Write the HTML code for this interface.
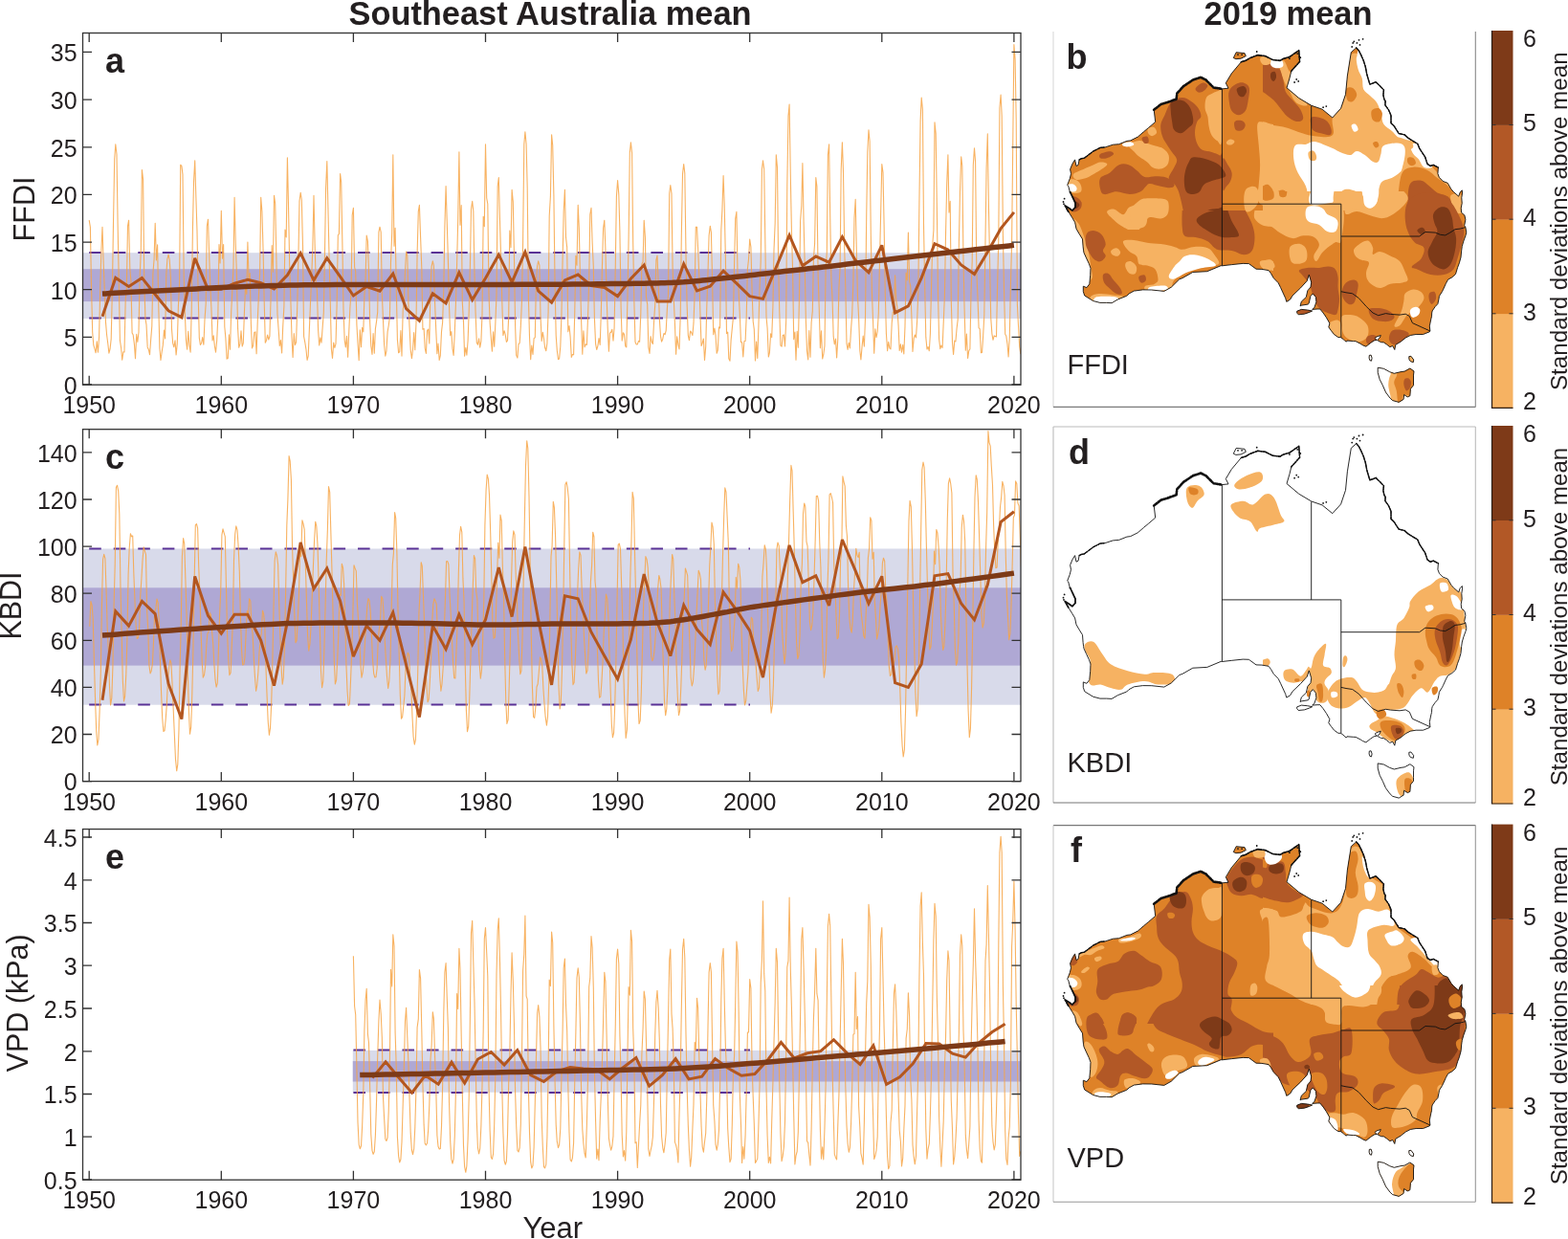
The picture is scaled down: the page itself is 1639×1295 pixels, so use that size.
<!DOCTYPE html>
<html><head><meta charset="utf-8"><title>Figure</title>
<style>html,body{margin:0;padding:0;background:#fff;overflow:hidden}svg{display:block}
text{font-family:"Liberation Sans",Arial,Helvetica,sans-serif;fill:#231f20}</style></head>
<body><svg width="1639" height="1295" viewBox="0 0 1639 1295">
<rect width="1639" height="1295" fill="#fff"/>
<clipPath id="clip0"><rect x="86.5" y="34.5" width="980.5" height="367.7"/></clipPath>
<rect x="86.5" y="264.2" width="980.5" height="68.8" fill="#d8daea"/>
<rect x="86.5" y="281.2" width="980.5" height="33.9" fill="#afa8d4"/>
<line x1="93.2" y1="264" x2="784" y2="264" stroke="#5a3296" stroke-width="2" stroke-dasharray="12.6 12.93"/>
<line x1="93.2" y1="332.6" x2="784" y2="332.6" stroke="#5a3296" stroke-width="2" stroke-dasharray="12.6 12.93"/>
<polyline clip-path="url(#clip0)" points="93.2,230.2 94.4,237.4 95.5,299 96.7,347.3 97.8,360.7 99,364.6 100.1,368.8 101.3,356.7 102.4,368.2 103.6,352.2 104.7,302.8 105.9,261.6 107,237.2 108.2,276 109.3,303.6 110.5,336.9 111.6,350 112.8,359.2 113.9,369.2 115.1,364.5 116.2,354.1 117.4,301.7 118.5,233.2 119.7,166.2 120.8,150.8 122,161.3 123.1,234 124.3,297.1 125.4,355.9 126.6,363.5 127.7,376.2 128.9,367.9 130,367.9 131.2,313 132.3,302.2 133.5,236.2 134.6,230.2 135.8,281.1 136.9,293.2 138.1,347.9 139.2,350.1 140.4,359.8 141.5,374.8 142.7,349.4 143.8,357.5 145,347.2 146.1,290.6 147.3,261.6 148.4,177.6 149.6,187.5 150.7,290.6 151.9,332.6 153,339.4 154.2,362.9 155.3,365.2 156.5,370.6 157.6,355.7 158.8,340.8 159.9,285.7 161.1,270.7 162.2,233.2 163.4,271.9 164.6,255.9 165.7,317.2 166.9,364 168,376.5 169.2,367.6 170.3,360.9 171.5,345 172.6,354 173.8,286.8 174.9,270.8 176.1,266 177.2,271.4 178.4,290 179.5,343.8 180.7,358.9 181.8,362.8 183,355.8 184.1,370.9 185.3,358.9 186.4,320.2 187.6,295.5 188.7,172.2 189.9,173.6 191,182.4 192.2,288.5 193.3,326.9 194.5,355.4 195.6,365.2 196.8,346.4 197.9,360.6 199.1,368.2 200.2,325.7 201.4,240.6 202.5,190.5 203.7,167.7 204.8,204.2 206,241.2 207.1,304.6 208.3,353.1 209.4,360.5 210.6,358.6 211.7,352.6 212.9,360.3 214,334.1 215.2,317.2 216.3,236.5 217.5,229.2 218.6,264.5 219.8,299.2 220.9,321.6 222.1,356 223.2,350.8 224.4,361.9 225.5,368.2 226.7,355.6 227.8,331.9 229,255.5 230.1,275 231.3,220.3 232.5,270.1 233.6,255.5 234.8,341.5 235.9,353.6 237.1,375.1 238.2,374.5 239.4,349.8 240.5,365.2 241.7,326.1 242.8,304.4 244,277.8 245.1,206.4 246.3,255.6 247.4,286.6 248.6,343.4 249.7,363.3 250.9,359.4 252,345.9 253.2,362 254.3,358.6 255.5,324.7 256.6,297.7 257.8,307.5 258.9,253.1 260.1,291.7 261.2,285.5 262.4,339.1 263.5,363.9 264.7,361.1 265.8,347.6 267,346.9 268.1,369.8 269.3,334.5 270.4,308.9 271.6,285.5 272.7,206.4 273.9,221.1 275,259.4 276.2,315.1 277.3,358.3 278.5,355.7 279.6,350 280.8,355 281.9,351.5 283.1,311.1 284.2,256.5 285.4,284.3 286.5,204.4 287.7,212.9 288.8,266.2 290,328.2 291.1,343.6 292.3,361.4 293.4,355.6 294.6,369 295.7,341.8 296.9,320.1 298,240 299.2,248 300.4,164.7 301.5,214.6 302.7,277.7 303.8,311.4 305,351.9 306.1,373.5 307.3,348.5 308.4,360.4 309.6,357.8 310.7,321 311.9,269 313,210 314.2,201.4 315.3,208.8 316.5,256 317.6,351.6 318.8,357.9 319.9,364.8 321.1,376.4 322.2,372.2 323.4,343.5 324.5,316.5 325.7,289.5 326.8,259.9 328,204.4 329.1,254.9 330.3,298.2 331.4,303.1 332.6,345.3 333.7,361 334.9,352.8 336,358.1 337.2,341.6 338.3,327.1 339.5,263.9 340.6,196.2 341.8,168.6 342.9,217.1 344.1,270.1 345.2,312.9 346.4,364.8 347.5,374.5 348.7,358.1 349.8,363.5 351,359.4 352.1,319.3 353.3,246 354.4,244.4 355.6,181.6 356.7,190.6 357.9,255.4 359,323.4 360.2,355.5 361.3,363 362.5,351.2 363.6,373.3 364.8,345.7 365.9,321.2 367.1,304 368.2,224.9 369.4,217.3 370.6,279.3 371.7,283.4 372.9,339.3 374,358.8 375.2,376.6 376.3,344.8 377.5,362.7 378.6,342.4 379.8,346.9 380.9,309.2 382.1,290.9 383.2,246.1 384.4,252 385.5,284.9 386.7,337.7 387.8,361.4 389,370.4 390.1,348.5 391.3,369.3 392.4,343.7 393.6,335.6 394.7,326.1 395.9,242.7 397,237.2 398.2,242.6 399.3,306.2 400.5,335.1 401.6,360.3 402.8,372.2 403.9,367.2 405.1,346.9 406.2,340.5 407.4,331.2 408.5,273.5 409.7,244 410.8,161.7 412,257.3 413.1,238.4 414.3,302.5 415.4,355 416.6,368.8 417.7,367.6 418.9,345.6 420,372.1 421.2,324.1 422.3,315.7 423.5,283.4 424.6,263 425.8,267.4 426.9,316.6 428.1,342.8 429.2,365.8 430.4,374.8 431.5,365.6 432.7,347.6 433.8,365.8 435,337.3 436.1,265.3 437.3,221.1 438.4,214.3 439.6,248 440.8,280.4 441.9,344.3 443.1,343.4 444.2,364 445.4,369.4 446.5,345.7 447.7,344.2 448.8,358.9 450,299.7 451.1,278.7 452.3,272.9 453.4,277.7 454.6,317.2 455.7,343.7 456.9,369.7 458,359.1 459.2,376.4 460.3,371.7 461.5,346.7 462.6,337.3 463.8,301.4 464.9,235.8 466.1,194.5 467.2,230.4 468.4,271.5 469.5,319.2 470.7,350.7 471.8,346.6 473,364.4 474.1,371.5 475.3,347.2 476.4,318 477.6,275.7 478.7,230.3 479.9,158.7 481,235.2 482.2,214.6 483.3,315.7 484.5,336.6 485.6,372.2 486.8,363.2 487.9,371.3 489.1,356 490.2,325.2 491.4,277.9 492.5,218.6 493.7,210.4 494.8,220.7 496,286.9 497.1,327.1 498.3,357.9 499.4,360.3 500.6,353.8 501.7,363.1 502.9,356.6 504,328.7 505.2,226.2 506.3,236.7 507.5,150.8 508.7,207 509.8,213.1 511,307 512.1,337.1 513.3,353.4 514.4,367.1 515.6,346.8 516.7,362.1 517.9,336.9 519,307.2 520.2,194.9 521.3,185.5 522.5,230.6 523.6,267.9 524.8,315.6 525.9,350.5 527.1,345.7 528.2,349.6 529.4,357.4 530.5,356 531.7,331.1 532.8,241 534,258.6 535.1,198.4 536.3,210.9 537.4,264.9 538.6,341.1 539.7,371.4 540.9,374.1 542,359.8 543.2,358.3 544.3,341.4 545.5,313.4 546.6,253.4 547.8,150.9 548.9,137.9 550.1,150.2 551.2,196.1 552.4,311.3 553.5,351.8 554.7,375.8 555.8,361 557,370.5 558.1,353.6 559.3,352.7 560.4,295.7 561.6,278.1 562.7,272.9 563.9,277.4 565,329.7 566.2,356.4 567.3,347.2 568.5,354.2 569.6,363.2 570.8,366.7 571.9,358.8 573.1,326.2 574.2,225.7 575.4,205.4 576.6,140.8 577.7,151.7 578.9,204.9 580,293.3 581.2,350.7 582.3,366.5 583.5,375.6 584.6,375 585.8,362.2 586.9,330.7 588.1,271.8 589.2,220.7 590.4,198.4 591.5,247.6 592.7,258.6 593.8,346.7 595,340.6 596.1,351.5 597.3,373.4 598.4,370.5 599.6,370.8 600.7,328.5 601.9,267.2 603,277.3 604.2,214.3 605.3,238.6 606.5,291.3 607.6,335.1 608.8,370.2 609.9,345.9 611.1,362.7 612.2,359.9 613.4,360.4 614.5,332.4 615.7,293.3 616.8,224 618,217.3 619.1,253 620.3,278.2 621.4,332.4 622.6,359.6 623.7,365.5 624.9,361.6 626,353.6 627.2,360.5 628.3,327.8 629.5,276.9 630.6,238.5 631.8,230.2 632.9,260.2 634.1,308 635.2,342.5 636.4,367.3 637.5,347.9 638.7,347.2 639.8,344.2 641,356.2 642.1,342.6 643.3,276.8 644.4,205.2 645.6,188.5 646.8,203.1 647.9,242 649.1,320.7 650.2,356.1 651.4,347.7 652.5,349.4 653.7,361.8 654.8,362.9 656,309 657.1,249.6 658.3,159.6 659.4,148.8 660.6,159.9 661.7,253 662.9,316.7 664,357.5 665.2,360 666.3,359.9 667.5,356.4 668.6,357.2 669.8,327.7 670.9,276.1 672.1,273.6 673.2,230.2 674.4,247.9 675.5,310.6 676.7,318.1 677.8,362.6 679,369.4 680.1,351.6 681.3,357.3 682.4,359.5 683.6,335.2 684.7,318.9 685.9,271.9 687,267 688.2,297.3 689.3,332.7 690.5,351.4 691.6,357.1 692.8,354.2 693.9,348.5 695.1,349.7 696.2,345.5 697.4,322.5 698.5,308 699.7,202.3 700.8,193.5 702,202.4 703.1,279.5 704.3,312.9 705.4,337.8 706.6,370.3 707.7,351.9 708.9,360.2 710,365 711.2,331.2 712.3,247.1 713.5,181.9 714.7,171.6 715.8,181 717,266 718.1,318.5 719.3,350.5 720.4,355.6 721.6,346.1 722.7,347.4 723.9,350.5 725,337.9 726.2,304.9 727.3,237.3 728.5,237.2 729.6,259.7 730.8,288.5 731.9,327 733.1,361.5 734.2,358.5 735.4,354 736.5,376.5 737.7,362.4 738.8,320.3 740,284.9 741.1,246.1 742.3,236.2 743.4,242.9 744.6,293.6 745.7,349.8 746.9,343 748,350.4 749.2,369.2 750.3,366.1 751.5,341.8 752.6,343 753.8,240.5 754.9,219.8 756.1,183.5 757.2,213.4 758.4,271.1 759.5,348.6 760.7,347.1 761.8,374.7 763,377.2 764.1,355.6 765.3,343.4 766.4,332.4 767.6,275.8 768.7,228.7 769.9,221.3 771,285.1 772.2,305.7 773.3,328.7 774.5,357.7 775.6,357.9 776.8,372.9 777.9,356.7 779.1,356.4 780.2,331.1 781.4,281.1 782.5,271.1 783.7,250.1 784.9,258.2 786,301.1 787.2,336 788.3,344.3 789.5,377 790.6,357 791.8,374.4 792.9,342 794.1,299.2 795.2,273.5 796.4,177.2 797.5,167.7 798.7,176.9 799.8,248.9 801,331 802.1,343 803.3,373 804.4,368.6 805.6,348.7 806.7,352.7 807.9,321 809,261 810.2,233 811.3,161.7 812.5,174.8 813.6,273.2 814.8,326.4 815.9,361 817.1,362.1 818.2,350.4 819.4,349.9 820.5,362 821.7,334.9 822.8,194 824,121 825.1,109.1 826.3,183.4 827.4,240.1 828.6,282.7 829.7,354.7 830.9,347.1 832,376.3 833.2,346.2 834.3,363.2 835.5,309.1 836.6,231 837.8,215.1 838.9,170.6 840.1,231.8 841.2,276 842.4,335.7 843.5,366.7 844.7,376 845.8,345.6 847,373.3 848.1,337.3 849.3,325.4 850.4,270.6 851.6,254.4 852.8,185.5 853.9,194.9 855.1,285.8 856.2,321.3 857.4,363.8 858.5,345.8 859.7,375 860.8,370.5 862,361.4 863.1,281.2 864.3,263.5 865.4,162 866.6,150.8 867.7,224.5 868.9,291.2 870,310.5 871.2,351.9 872.3,359.9 873.5,354 874.6,374 875.8,354.4 876.9,301.4 878.1,280.6 879.2,176.9 880.4,148.8 881.5,180.1 882.7,259 883.8,300.7 885,359.2 886.1,365.5 887.3,358.2 888.4,364 889.6,343.9 890.7,328.6 891.9,293.6 893,227.8 894.2,208.4 895.3,260.9 896.5,310.2 897.6,331.6 898.8,366.3 899.9,376 901.1,362 902.2,351.1 903.4,362.1 904.5,331.9 905.7,226.6 906.8,159 908,135.9 909.1,147.7 910.3,246.2 911.4,304.4 912.6,336.4 913.7,369.2 914.9,343.9 916,352.8 917.2,346.5 918.3,327.3 919.5,272.8 920.6,224.7 921.8,171.6 923,180.4 924.1,235.1 925.3,307.1 926.4,348.5 927.6,366.6 928.7,357.4 929.9,363.9 931,364.8 932.2,337.9 933.3,326.2 934.5,325.7 935.6,287.8 936.8,314.2 937.9,321.7 939.1,340.6 940.2,366.4 941.4,359.7 942.5,368.2 943.7,360.3 944.8,370 946,341 947.1,285.1 948.3,293 949.4,243.1 950.6,294.4 951.7,298.6 952.9,331.1 954,367.4 955.2,353.9 956.3,350 957.5,352.9 958.6,336 959.8,306.4 960.9,211.8 962.1,126.1 963.2,102.1 964.4,114.6 965.5,235 966.7,300.2 967.8,352.4 969,365 970.1,362.5 971.3,366.8 972.4,348.8 973.6,297.4 974.7,256.5 975.9,240.7 977,127.9 978.2,139.6 979.3,212.6 980.5,307.1 981.6,354.3 982.8,364.6 983.9,361 985.1,363.6 986.2,337.5 987.4,309.5 988.5,245.9 989.7,192.2 990.9,161.7 992,222.1 993.2,210.2 994.3,314.6 995.5,358.1 996.6,370.4 997.8,356.1 998.9,357 1000.1,343.3 1001.2,334.1 1002.4,253.2 1003.5,199.4 1004.7,163.7 1005.8,173.5 1007,272 1008.1,323.3 1009.3,366.3 1010.4,349.1 1011.6,374.5 1012.7,366.8 1013.9,364.7 1015,305.9 1016.2,273.3 1017.3,172.6 1018.5,154.7 1019.6,169.2 1020.8,283.8 1021.9,308.4 1023.1,342.6 1024.2,343.9 1025.4,368.8 1026.5,368.5 1027.7,350.5 1028.8,329.3 1030,251 1031.1,175.5 1032.3,139.8 1033.4,213.6 1034.6,274.9 1035.7,332 1036.9,348.8 1038,355.3 1039.2,350.9 1040.3,351.4 1041.5,352 1042.6,298.3 1043.8,249.9 1044.9,112.8 1046.1,99.1 1047.2,121.3 1048.4,246.2 1049.5,301.9 1050.7,349.3 1051.8,351.3 1053,359.6 1054.1,372.9 1055.3,352.1 1056.4,297.8 1057.6,253.8 1058.7,153.5 1059.9,46.5 1061.1,62.4 1062.2,125.1 1063.4,318.4 1064.5,340.2 1065.7,362.4 1066.8,369.7 1068,358.1 1069.1,330 1070.3,330.3 1071.4,226.4 1072.6,121.3" fill="none" stroke="#f7a445" stroke-opacity="0.85" stroke-width="1.1" stroke-linejoin="round"/>
<polyline points="107,330.7 120.8,290.4 134.6,299.5 148.4,290.4 162.2,307.7 176.1,324.8 189.9,331.7 203.7,269.8 217.5,302.7 231.3,302.2 245.1,296.2 258.9,292.3 272.7,295.7 286.5,301.9 300.4,287.6 314.2,264.6 328,292.8 341.8,269.8 355.6,289.2 369.4,309 383.2,299.5 397,304.2 410.8,286 424.6,322.6 438.4,335.2 452.3,306.7 466.1,316.9 479.9,284.9 493.7,313.3 507.5,290.8 521.3,266.2 535.1,294.8 548.9,263.5 562.7,304.2 576.6,316.1 590.4,292.9 604.2,287 618,298.5 631.8,300.4 645.6,309.6 659.4,291.3 673.2,277 687,315.1 700.8,315.1 714.7,275.9 728.5,304 742.3,299.2 756.1,283.1 769.9,296.1 783.7,309.6 797.5,312.4 811.3,279.4 825.1,245.8 838.9,277.7 852.8,267.9 866.6,274.2 880.4,247.6 894.2,272.2 908,284.9 921.8,256.3 935.6,326.9 949.4,319.8 963.2,290.4 977,254.7 990.9,261.1 1004.7,276.9 1018.5,286.5 1032.3,263.5 1046.1,238.9 1059.9,221.9" fill="none" stroke="#b3561f" stroke-width="3" stroke-linejoin="miter" stroke-miterlimit="3"/>
<polyline points="107,307.1 110.2,306.9 114.5,306.6 119.5,306.3 125.1,306 131.1,305.7 137.1,305.3 143,305 148.4,304.7 153.6,304.4 158.8,304.2 164,303.9 169.2,303.7 174.3,303.4 179.5,303.2 184.7,303 189.9,302.7 195,302.4 200.2,302.2 205.4,301.9 210.6,301.6 215.8,301.3 220.9,301 226.1,300.8 231.3,300.5 236.4,300.3 241.3,300.1 246.2,299.9 251.2,299.7 256.2,299.5 261.4,299.3 266.9,299.1 272.7,298.9 278.6,298.8 284.3,298.6 290,298.4 296,298.2 302.6,298.1 310,298 318.3,297.8 328,297.7 338.9,297.7 351.1,297.6 364.1,297.6 378,297.6 392.6,297.6 407.6,297.6 422.9,297.6 438.4,297.5 454.9,297.5 472.7,297.5 491.2,297.4 510.1,297.4 528.6,297.4 546.2,297.3 562.4,297.3 576.6,297.2 588.7,297.2 599.3,297.1 608.7,297 617.1,296.9 624.8,296.8 631.9,296.7 638.8,296.6 645.6,296.5 652.2,296.5 658.2,296.4 663.8,296.3 668.9,296.3 673.7,296.2 678.3,296.1 682.7,296 687,295.9 691.1,295.8 694.9,295.7 698.4,295.6 701.7,295.5 704.9,295.3 708.1,295.2 711.3,295 714.7,294.8 718,294.5 721.2,294.3 724.4,294 727.6,293.7 730.9,293.4 734.4,293.1 738.2,292.7 742.3,292.3 746.8,291.8 751.7,291.3 756.8,290.8 762.1,290.2 767.6,289.6 773,289 778.4,288.4 783.7,287.8 788.9,287.2 794.1,286.6 799.2,286 804.4,285.4 809.6,284.8 814.8,284.2 820,283.6 825.1,283 830.2,282.5 835.2,281.9 840.1,281.4 845,280.8 850,280.2 855.2,279.7 860.7,279 866.6,278.4 872.7,277.7 879.1,276.9 885.7,276.1 892.5,275.3 899.5,274.5 906.7,273.7 914.1,272.8 921.8,271.9 929.8,271 938.1,270 946.7,269 955.5,268 964.3,267 973.3,266 982.1,265 990.9,264 1000,263 1009.7,261.9 1019.8,260.7 1029.7,259.7 1039.1,258.6 1047.5,257.7 1054.6,256.9 1059.9,256.3" fill="none" stroke="#7d3a17" stroke-width="5.5" stroke-linejoin="round"/>
<rect x="86.5" y="34.5" width="980.5" height="367.7" fill="none" stroke="#333" stroke-width="1.3"/>
<path d="M93.2 402.2v-9.5M93.2 34.5v9.5M231.3 402.2v-9.5M231.3 34.5v9.5M369.4 402.2v-9.5M369.4 34.5v9.5M507.5 402.2v-9.5M507.5 34.5v9.5M645.6 402.2v-9.5M645.6 34.5v9.5M783.7 402.2v-9.5M783.7 34.5v9.5M921.8 402.2v-9.5M921.8 34.5v9.5M1059.9 402.2v-9.5M1059.9 34.5v9.5M86.5 402h9.5M1067 402h-9.5M86.5 352.4h9.5M1067 352.4h-9.5M86.5 302.7h9.5M1067 302.7h-9.5M86.5 253.1h9.5M1067 253.1h-9.5M86.5 203.4h9.5M1067 203.4h-9.5M86.5 153.8h9.5M1067 153.8h-9.5M86.5 104.1h9.5M1067 104.1h-9.5M86.5 54.4h9.5M1067 54.4h-9.5" stroke="#333" stroke-width="1.3" fill="none"/>
<text x="80.6" y="411.8" text-anchor="end" font-size="25">0</text>
<text x="80.6" y="362.2" text-anchor="end" font-size="25">5</text>
<text x="80.6" y="312.5" text-anchor="end" font-size="25">10</text>
<text x="80.6" y="262.9" text-anchor="end" font-size="25">15</text>
<text x="80.6" y="213.2" text-anchor="end" font-size="25">20</text>
<text x="80.6" y="163.6" text-anchor="end" font-size="25">25</text>
<text x="80.6" y="113.9" text-anchor="end" font-size="25">30</text>
<text x="80.6" y="64.2" text-anchor="end" font-size="25">35</text>
<text x="93.2" y="432.2" text-anchor="middle" font-size="25">1950</text>
<text x="231.3" y="432.2" text-anchor="middle" font-size="25">1960</text>
<text x="369.4" y="432.2" text-anchor="middle" font-size="25">1970</text>
<text x="507.5" y="432.2" text-anchor="middle" font-size="25">1980</text>
<text x="645.6" y="432.2" text-anchor="middle" font-size="25">1990</text>
<text x="783.7" y="432.2" text-anchor="middle" font-size="25">2000</text>
<text x="921.8" y="432.2" text-anchor="middle" font-size="25">2010</text>
<text x="1059.9" y="432.2" text-anchor="middle" font-size="25">2020</text>
<text x="110" y="75.5" font-size="36" font-weight="bold">a</text>
<text transform="translate(36,218.5) rotate(-90)" text-anchor="middle" font-size="30.5">FFDI</text>
<clipPath id="clip1"><rect x="86.5" y="448.7" width="980.5" height="367.9"/></clipPath>
<rect x="86.5" y="573.5" width="980.5" height="163.2" fill="#d8daea"/>
<rect x="86.5" y="614.3" width="980.5" height="81.3" fill="#afa8d4"/>
<line x1="93.2" y1="573.5" x2="784" y2="573.5" stroke="#5a3296" stroke-width="2" stroke-dasharray="12.6 12.93"/>
<line x1="93.2" y1="736.5" x2="784" y2="736.5" stroke="#5a3296" stroke-width="2" stroke-dasharray="12.6 12.93"/>
<polyline clip-path="url(#clip1)" points="93.8,654.7 94.9,628.5 96.1,632.6 97.2,646.3 98.4,690.5 99.5,729 100.7,763.8 101.8,779 103,772.6 104.1,743.4 105.3,702.1 106.4,634.1 107.6,584.7 108.7,579.4 109.9,583.7 111,615.4 112.2,655.8 113.3,680.3 114.5,717.3 115.6,736.9 116.8,729.4 117.9,697.1 119.1,632.5 120.2,590.2 121.4,509.6 122.5,507.2 123.7,513.4 124.8,536.7 126,615.2 127.1,658.7 128.3,710.8 129.5,732.9 130.6,727.8 131.8,704.7 132.9,667.9 134.1,600.4 135.2,573.1 136.4,557.8 137.5,560.8 138.7,560 139.8,598.7 141,628.7 142.1,652.8 143.3,667.5 144.4,666.5 145.6,657.4 146.7,623.4 147.9,605 149,585.6 150.2,571.9 151.3,575.6 152.5,579.7 153.6,637.9 154.8,658.6 155.9,695.4 157.1,703.9 158.2,701.2 159.4,693.7 160.5,671.2 161.7,639.1 162.8,636.2 164,626 165.1,629.8 166.3,649.8 167.4,688.8 168.6,724.6 169.7,750.2 170.9,764.5 172,763.6 173.2,752 174.3,736.6 175.5,710 176.6,698.5 177.8,689.7 178.9,692.9 180.1,715.6 181.2,741.5 182.4,768.9 183.5,793.7 184.7,805.8 185.8,798.8 187,762.2 188.1,698 189.3,649.8 190.4,581.5 191.6,562.5 192.7,568.1 193.9,605.8 195,640.8 196.2,700.8 197.4,743.1 198.5,767.2 199.7,759.6 200.8,725.8 202,675 203.1,609.2 204.3,548.9 205.4,547.5 206.6,551.8 207.7,592.3 208.9,619.9 210,657.3 211.2,691.2 212.3,708.1 213.5,705.5 214.6,697 215.8,674.8 216.9,662.4 218.1,660.3 219.2,640.3 220.4,642.4 221.5,658.9 222.7,672.6 223.8,693.3 225,710.2 226.1,718.1 227.3,713.9 228.4,680 229.6,641.7 230.7,618.2 231.9,559.2 233,552.9 234.2,557.1 235.3,560.8 236.5,615.2 237.6,663.2 238.8,689.1 239.9,705.6 241.1,703.2 242.2,676.5 243.4,650.2 244.5,585.3 245.7,558.4 246.8,549.9 248,553.8 249.1,570.5 250.3,597.4 251.4,644.7 252.6,680.3 253.7,694.9 254.9,694.5 256,686.6 257.2,659.9 258.3,638.2 259.5,642.6 260.6,625.7 261.8,628.3 262.9,652.4 264.1,662.6 265.2,685.6 266.4,706.8 267.6,722.2 268.7,716.3 269.9,702.2 271,681.9 272.2,668.3 273.3,661.6 274.5,638.2 275.6,641.7 276.8,653 277.9,695.9 279.1,727.8 280.2,753.9 281.4,768.3 282.5,761.2 283.7,734.9 284.8,694.5 286,636 287.1,586.3 288.3,576.9 289.4,580.7 290.6,590 291.7,629.8 292.9,664.9 294,696.4 295.2,715.1 296.3,708 297.5,675.6 298.6,619.3 299.8,549.2 300.9,521.7 302.1,476.5 303.2,481.8 304.4,501.3 305.5,569.5 306.7,608.3 307.8,641.7 309,671.8 310.1,669.6 311.3,646.8 312.4,623.4 313.6,575.4 314.7,581.8 315.9,543.7 317,547.4 318.2,553.4 319.3,589.5 320.5,630 321.6,664.8 322.8,680.1 323.9,673.2 325.1,653.9 326.2,624 327.4,593.1 328.5,566.4 329.7,545.2 330.8,549.9 332,569.5 333.1,608.5 334.3,655.9 335.5,702 336.6,718.6 337.8,711.8 338.9,678.5 340.1,632.7 341.2,586.4 342.4,552.7 343.5,508.6 344.7,514.3 345.8,554.7 347,597.5 348.1,642.5 349.3,691.1 350.4,714.9 351.6,710.9 352.7,689.4 353.9,661.3 355,621 356.2,622.4 357.3,589.2 358.5,593.3 359.6,610.4 360.8,650 361.9,694.3 363.1,723 364.2,737.4 365.4,735.7 366.5,711.9 367.7,681.7 368.8,644.7 370,590.8 371.1,593.9 372.3,596.9 373.4,630.8 374.6,648.5 375.7,667.1 376.9,694 378,708.2 379.2,702.3 380.3,692.5 381.5,670.6 382.6,653.2 383.8,633.7 384.9,625.6 386.1,628 387.2,639.1 388.4,663.6 389.5,688.9 390.7,704.2 391.8,708 393,707.8 394.1,698.7 395.3,667.6 396.4,657.3 397.6,647 398.7,623.2 399.9,625.8 401,639.5 402.2,668.4 403.3,687.8 404.5,707.3 405.7,719.5 406.8,711.8 408,688.7 409.1,640.5 410.3,590.3 411.4,578.6 412.6,535.6 413.7,541.5 414.9,578.6 416,637.9 417.2,683.5 418.3,726 419.5,751.2 420.6,749.5 421.8,737.9 422.9,727 424.1,695.9 425.2,687.4 426.4,682.2 427.5,684.8 428.7,707.9 429.8,718.6 431,749 432.1,770 433.3,778.1 434.4,773.2 435.6,742.3 436.7,703.5 437.9,641.5 439,620.5 440.2,587.7 441.3,591.7 442.5,623.2 443.6,651.6 444.8,692.8 445.9,716.1 447.1,733.7 448.2,730.7 449.4,711.3 450.5,688.7 451.7,650.3 452.8,631.7 454,625.7 455.1,628.3 456.3,631.6 457.4,664.2 458.6,684.6 459.7,707.2 460.9,722.2 462,714.8 463.2,697.5 464.3,659.1 465.5,623.9 466.6,586.8 467.8,586.6 468.9,590 470.1,622.7 471.2,641.8 472.4,667.2 473.6,693 474.7,708.8 475.9,708.9 477,679.8 478.2,651 479.3,599.4 480.5,559.5 481.6,550.3 482.8,556.2 483.9,604.4 485.1,629.5 486.2,693.5 487.4,742.4 488.5,764.7 489.7,759.1 490.8,728.2 492,685.6 493.1,649.8 494.3,613.7 495.4,580.5 496.6,584 497.7,618 498.9,626.3 500,672.2 501.2,693.7 502.3,709.2 503.5,700.1 504.6,670.5 505.8,626.9 506.9,548.8 508.1,512 509.2,496.1 510.4,500.7 511.5,517.3 512.7,556.7 513.8,602.1 515,653.9 516.1,667.2 517.3,666 518.4,642.7 519.6,602.9 520.7,567.4 521.9,583.2 523,538.1 524.2,544.1 525.3,590.9 526.5,621.5 527.6,684.4 528.8,733.7 529.9,756.4 531.1,752.4 532.2,717 533.4,673.6 534.5,607.9 535.7,565.9 536.8,554.9 538,559 539.1,599.4 540.3,622.9 541.4,662 542.6,685.4 543.8,704.6 544.9,701.4 546.1,664.7 547.2,605.4 548.4,539.6 549.5,486.8 550.7,460.7 551.8,468.6 553,518.8 554.1,586.7 555.3,665.1 556.4,717.3 557.6,749.2 558.7,750.3 559.9,738.8 561,718 562.2,714.7 563.3,702.4 564.5,686.9 565.6,688.8 566.8,696.2 567.9,719.7 569.1,736.8 570.2,749.7 571.4,758.1 572.5,749.6 573.7,713.9 574.8,650.1 576,581.6 577.1,570.6 578.3,524.3 579.4,530.3 580.6,561.1 581.7,608.1 582.9,666.7 584,716.4 585.2,741 586.3,734.2 587.5,699.8 588.6,646 589.8,568.7 590.9,506.5 592.1,503.7 593.2,509.5 594.4,521.5 595.5,587.8 596.7,652.5 597.8,691.9 599,715.6 600.1,713.6 601.3,690.6 602.4,661.2 603.6,620.2 604.7,594.3 605.9,576.8 607,580.3 608.2,616.4 609.3,634.5 610.5,666.2 611.7,685.7 612.8,704 614,700.7 615.1,680 616.3,647.1 617.4,608.1 618.6,591 619.7,556.2 620.9,561 622,607.3 623.2,619.4 624.3,675.1 625.5,711.6 626.6,729.2 627.8,728.2 628.9,713.2 630.1,690.9 631.2,660.6 632.4,643.5 633.5,621.1 634.7,625.3 635.8,641.9 637,683.7 638.1,719.7 639.3,756.6 640.4,770.8 641.6,765.8 642.7,737.7 643.9,691 645,630.7 646.2,569.3 647.3,568.2 648.5,573.7 649.6,610.1 650.8,646.9 651.9,706.7 653.1,746.7 654.2,771.4 655.4,762.9 656.5,720.3 657.7,666.5 658.8,604.2 660,564.5 661.1,514.4 662.3,521 663.4,573.4 664.6,622.7 665.7,676.2 666.9,732.2 668,756.5 669.2,753.1 670.3,724.1 671.5,677.3 672.6,633.5 673.8,606 674.9,581.6 676.1,584.7 677.2,593.1 678.4,616.3 679.5,655.9 680.7,685.6 681.9,690.8 683,687.7 684.2,678.5 685.3,661.5 686.5,639.5 687.6,615.6 688.8,601.5 689.9,605.5 691.1,615.5 692.2,659.7 693.4,695.5 694.5,733.3 695.7,747.7 696.8,741 698,715.2 699.1,678 700.3,627.7 701.4,603.9 702.6,579.5 703.7,584.1 704.9,625.8 706,651.9 707.2,699.4 708.3,728.1 709.5,747.5 710.6,742.8 711.8,718.4 712.9,686.5 714.1,643.8 715.2,625.9 716.4,594 717.5,597.4 718.7,601.6 719.8,644.5 721,671.2 722.1,708.2 723.3,716.9 724.4,712.8 725.6,697.4 726.7,673.9 727.9,644.7 729,621.2 730.2,596.3 731.3,599.2 732.5,605.9 733.6,650.4 734.8,662.4 735.9,690.2 737.1,700.3 738.2,695.3 739.4,671.5 740.5,631.9 741.7,591.5 742.8,573.1 744,546 745.1,550.9 746.3,568.8 747.4,628.8 748.6,666.1 749.8,705.6 750.9,725.6 752.1,722.1 753.2,684.5 754.4,625.4 755.5,580.9 756.7,539.8 757.8,509.8 759,514.5 760.1,539.7 761.3,567 762.4,633.5 763.6,668 764.7,680.7 765.9,677.1 767,660.7 768.2,645.1 769.3,603.2 770.5,615.3 771.6,589.2 772.8,593.2 773.9,606.6 775.1,660 776.2,694.7 777.4,721.9 778.5,736.9 779.7,732.6 780.8,718.3 782,701.8 783.1,664.2 784.3,657.3 785.4,645.2 786.6,647.3 787.7,668.5 788.9,683.2 790,693.4 791.2,709.1 792.3,722.4 793.5,718.9 794.6,689.7 795.8,661.6 796.9,602.6 798.1,588.4 799.2,569.7 800.4,574.5 801.5,596.3 802.7,647 803.8,684.7 805,726 806.1,745.1 807.3,737.4 808.4,715.7 809.6,665.7 810.7,636.7 811.9,574.1 813,567 814.2,570.4 815.3,593.7 816.5,609.9 817.6,660.5 818.8,679 820,693.7 821.1,683.4 822.3,649 823.4,602.6 824.6,563.4 825.7,522.3 826.9,486.4 828,492 829.2,535.6 830.3,574.6 831.5,631 832.6,672.2 833.8,688.6 834.9,685.1 836.1,663.7 837.2,610.1 838.4,589.1 839.5,536.9 840.7,526 841.8,529.7 843,566.4 844.1,570.9 845.3,610.4 846.4,649.7 847.6,658.7 848.7,653.8 849.9,638.5 851,605.2 852.2,564.1 853.3,518.5 854.5,518.3 855.6,523.5 856.8,568.3 857.9,592.8 859.1,646.3 860.2,688.8 861.4,708.1 862.5,700.5 863.7,677.2 864.8,618.9 866,582.4 867.1,516.9 868.3,515.6 869.4,519.7 870.6,525.5 871.7,589.5 872.9,610.4 874,643.6 875.2,667.8 876.3,666.2 877.5,642.5 878.6,585.3 879.8,575.3 880.9,497.8 882.1,503.8 883.2,508.1 884.4,549.2 885.5,560.7 886.7,618 887.9,646.4 889,656.8 890.2,661.1 891.3,647.1 892.5,616.3 893.6,598.2 894.8,573.4 895.9,580.2 897.1,582.6 898.2,577.4 899.4,629.6 900.5,643.8 901.7,653.6 902.8,664.6 904,667.2 905.1,643.2 906.3,619.8 907.4,583.2 908.6,573 909.7,540.7 910.9,544.1 912,584.3 913.2,577.2 914.3,628.6 915.5,646.4 916.6,667.9 917.8,662.5 918.9,655 920.1,631.8 921.2,619.3 922.4,588.6 923.5,583.2 924.7,586.5 925.8,618.3 927,628.5 928.1,666.4 929.3,696 930.4,706.4 931.6,705.1 932.7,696 933.9,694.9 935,690.3 936.2,676.1 937.3,674.9 938.5,678.1 939.6,687.9 940.8,720.6 941.9,755.2 943.1,779.2 944.2,791 945.4,783.3 946.5,744.4 947.7,677.6 948.8,611.4 950,544.6 951.1,523.4 952.3,529.6 953.4,570.3 954.6,632 955.7,674.3 956.9,723.8 958.1,748.7 959.2,741.2 960.4,698.6 961.5,626.7 962.7,553.5 963.8,491.2 965,483 966.1,488.3 967.3,523.5 968.4,571.4 969.6,617.5 970.7,651.4 971.9,678.9 973,676 974.2,656.9 975.3,633.9 976.5,576 977.6,589.6 978.8,553.5 979.9,556.9 981.1,571.6 982.2,593.4 983.4,643.1 984.5,663.8 985.7,679.4 986.8,675.5 988,650.1 989.1,612.8 990.3,542.7 991.4,505.3 992.6,499.9 993.7,505.3 994.9,515.5 996,597.4 997.2,630 998.3,677.2 999.5,695.2 1000.6,691.8 1001.8,670.1 1002.9,619.2 1004.1,606 1005.2,551.4 1006.4,538.2 1007.5,544.5 1008.7,565.7 1009.8,635.5 1011,695 1012.1,742.6 1013.3,770.7 1014.4,761.8 1015.6,718.3 1016.7,657.5 1017.9,576.5 1019,519.8 1020.2,496.7 1021.3,501.1 1022.5,524.5 1023.6,560.3 1024.8,602.2 1026,642.5 1027.1,656 1028.3,651.3 1029.4,626.5 1030.6,572.2 1031.7,535.5 1032.9,450.6 1034,462.6 1035.2,466.1 1036.3,487.3 1037.5,506.8 1038.6,548.8 1039.8,576.8 1040.9,593.8 1042.1,593.1 1043.2,565.5 1044.4,552.6 1045.5,529.7 1046.7,519.5 1047.8,503.4 1049,507.9 1050.1,517.8 1051.3,581.8 1052.4,622.6 1053.6,646.7 1054.7,668.6 1055.9,662.4 1057,633.3 1058.2,588.7 1059.3,541 1060.5,538.3 1061.6,502.9 1062.8,505.5 1063.9,525.8 1065.1,528.8 1066.2,557.4 1067.4,591.8 1068.5,599.7 1069.7,596.2 1070.8,586.5 1072,560.7 1073.1,518.9" fill="none" stroke="#f7a445" stroke-opacity="0.85" stroke-width="1.1" stroke-linejoin="round"/>
<polyline points="107,731.7 120.8,638.9 134.6,654.1 148.4,628.5 162.2,641.6 176.1,714.7 189.9,751.5 203.7,602.5 217.5,643.5 231.3,662.2 245.1,642.3 258.9,642.3 272.7,669.3 286.5,716.7 300.4,649.7 314.2,566.9 328,615.3 341.8,593.9 355.6,628.1 369.4,686.2 383.2,654.1 397,669.3 410.8,640.1 424.6,694.8 438.4,749.6 452.3,654.1 466.1,678.4 479.9,642.3 493.7,673.5 507.5,647.7 521.3,593.2 535.1,644.5 548.9,571.6 562.7,647.9 576.6,715.9 590.4,622.9 604.2,625.8 618,660.7 631.8,685.5 645.6,709.8 659.4,668.3 673.2,600.1 687,650.6 700.8,685.5 714.7,632.5 728.5,657.8 742.3,673.5 756.1,619 769.9,637.9 783.7,659.2 797.5,708.1 811.3,632.5 825.1,569.9 838.9,608.7 852.8,601.8 866.6,633 880.4,564 894.2,596.6 908,630.8 921.8,602.3 935.6,713.7 949.4,718.4 963.2,693.9 977,601.8 990.9,599.6 1004.7,630.8 1018.5,647.7 1032.3,611.4 1046.1,545.6 1059.9,534.8" fill="none" stroke="#b3561f" stroke-width="3" stroke-linejoin="miter" stroke-miterlimit="3"/>
<polyline points="107,664.1 111.2,663.8 116.6,663.4 123.1,662.9 130.3,662.3 138.1,661.7 146.2,661.1 154.3,660.5 162.2,660 170.2,659.4 178.5,658.9 187.1,658.3 195.9,657.7 204.8,657.2 213.7,656.6 222.6,656.1 231.3,655.6 239.9,655 248.6,654.5 257.2,653.9 265.8,653.3 274.5,652.8 283.1,652.4 291.7,651.9 300.4,651.6 309,651.4 317.6,651.2 326.2,651.2 334.9,651.1 343.5,651.1 352.1,651.1 360.8,651.1 369.4,651.1 378,651.1 386.7,651.1 395.3,651.1 403.9,651.1 412.6,651.1 421.2,651.2 429.8,651.3 438.4,651.4 447.1,651.5 455.7,651.8 464.3,652 473,652.3 481.6,652.6 490.2,652.8 498.9,653 507.5,653.1 516.1,653.1 524.8,653 533.4,652.9 542,652.7 550.7,652.5 559.3,652.4 567.9,652.2 576.6,652.1 585.4,652.1 594.5,652 603.7,652 612.8,652 621.7,652 630.3,652 638.3,651.9 645.6,651.9 652.2,651.8 658.2,651.7 663.8,651.7 668.9,651.6 673.7,651.4 678.3,651.3 682.7,651.1 687,650.9 691,650.6 694.6,650.3 697.8,650 700.8,649.7 703.9,649.3 707.1,648.8 710.6,648.3 714.7,647.7 719.3,647 724.4,646.1 729.8,645.2 735.4,644.2 740.9,643.1 746.4,642.1 751.5,641.2 756.1,640.3 760.1,639.6 763.6,638.9 766.8,638.2 769.9,637.5 772.9,636.9 776.1,636.3 779.7,635.6 783.7,634.9 788,634.2 792.4,633.6 797,632.9 801.8,632.2 807,631.5 812.5,630.8 818.5,629.9 825.1,629 832.3,628 840.1,626.9 848.4,625.8 857.1,624.6 866.1,623.4 875.3,622.1 884.7,620.9 894.2,619.7 903.9,618.6 913.9,617.4 924.2,616.3 934.7,615.2 945.4,614 956,612.9 966.6,611.6 977,610.4 988,609 999.7,607.4 1011.8,605.8 1023.6,604.2 1034.9,602.6 1045,601.2 1053.5,600 1059.9,599.1" fill="none" stroke="#7d3a17" stroke-width="5.5" stroke-linejoin="round"/>
<rect x="86.5" y="448.7" width="980.5" height="367.9" fill="none" stroke="#333" stroke-width="1.3"/>
<path d="M93.2 816.6v-9.5M93.2 448.7v9.5M231.3 816.6v-9.5M231.3 448.7v9.5M369.4 816.6v-9.5M369.4 448.7v9.5M507.5 816.6v-9.5M507.5 448.7v9.5M645.6 816.6v-9.5M645.6 448.7v9.5M783.7 816.6v-9.5M783.7 448.7v9.5M921.8 816.6v-9.5M921.8 448.7v9.5M1059.9 816.6v-9.5M1059.9 448.7v9.5M86.5 816.6h9.5M1067 816.6h-9.5M86.5 767.5h9.5M1067 767.5h-9.5M86.5 718.4h9.5M1067 718.4h-9.5M86.5 669.3h9.5M1067 669.3h-9.5M86.5 620.2h9.5M1067 620.2h-9.5M86.5 571.1h9.5M1067 571.1h-9.5M86.5 522h9.5M1067 522h-9.5M86.5 472.9h9.5M1067 472.9h-9.5" stroke="#333" stroke-width="1.3" fill="none"/>
<text x="80.6" y="826.4" text-anchor="end" font-size="25">0</text>
<text x="80.6" y="777.3" text-anchor="end" font-size="25">20</text>
<text x="80.6" y="728.2" text-anchor="end" font-size="25">40</text>
<text x="80.6" y="679.1" text-anchor="end" font-size="25">60</text>
<text x="80.6" y="630" text-anchor="end" font-size="25">80</text>
<text x="80.6" y="580.9" text-anchor="end" font-size="25">100</text>
<text x="80.6" y="531.8" text-anchor="end" font-size="25">120</text>
<text x="80.6" y="482.7" text-anchor="end" font-size="25">140</text>
<text x="93.2" y="846.6" text-anchor="middle" font-size="25">1950</text>
<text x="231.3" y="846.6" text-anchor="middle" font-size="25">1960</text>
<text x="369.4" y="846.6" text-anchor="middle" font-size="25">1970</text>
<text x="507.5" y="846.6" text-anchor="middle" font-size="25">1980</text>
<text x="645.6" y="846.6" text-anchor="middle" font-size="25">1990</text>
<text x="783.7" y="846.6" text-anchor="middle" font-size="25">2000</text>
<text x="921.8" y="846.6" text-anchor="middle" font-size="25">2010</text>
<text x="1059.9" y="846.6" text-anchor="middle" font-size="25">2020</text>
<text x="110" y="489.7" font-size="36" font-weight="bold">c</text>
<text transform="translate(21.7,633) rotate(-90)" text-anchor="middle" font-size="30.5">KBDI</text>
<clipPath id="clip2"><rect x="86.5" y="866.6" width="980.5" height="366.6"/></clipPath>
<rect x="368.8" y="1097.9" width="698.2" height="43.8" fill="#d8daea"/>
<rect x="368.8" y="1109.1" width="698.2" height="21.4" fill="#afa8d4"/>
<line x1="369.4" y1="1097.4" x2="784" y2="1097.4" stroke="#5a3296" stroke-width="2" stroke-dasharray="12.6 12.93"/>
<line x1="369.4" y1="1141.9" x2="784" y2="1141.9" stroke="#5a3296" stroke-width="2" stroke-dasharray="12.6 12.93"/>
<polyline clip-path="url(#clip2)" points="369.4,999.3 370.6,1051.8 371.7,1060.5 372.9,1116.1 374,1173 375.2,1196.3 376.3,1200.7 377.5,1197.7 378.6,1177.8 379.8,1142.7 380.9,1076.9 382.1,1044.8 383.2,1033.4 384.4,1080.6 385.5,1089.7 386.7,1138.1 387.8,1185.8 389,1202.6 390.1,1206.4 391.3,1203.7 392.4,1186.5 393.6,1149.7 394.7,1104.2 395.9,1066.9 397,1045.1 398.2,1059.6 399.3,1084 400.5,1146.9 401.6,1168.7 402.8,1190.4 403.9,1192.5 405.1,1189 406.2,1161.9 407.4,1110.6 408.5,1013.2 409.7,1030.9 410.8,976.8 412,988.7 413.1,1078.9 414.3,1117.3 415.4,1188 416.6,1208.4 417.7,1215 418.9,1211.7 420,1193.7 421.2,1153.9 422.3,1116.6 423.5,1067.2 424.6,1053.2 425.8,1084.3 426.9,1110.7 428.1,1150 429.2,1184.4 430.4,1202 431.5,1206.6 432.7,1200.6 433.8,1178.3 435,1135.4 436.1,1073.8 437.3,1065.1 438.4,1013.6 439.6,1022.8 440.8,1076.7 441.9,1132.1 443.1,1175.4 444.2,1195.2 445.4,1196.8 446.5,1195 447.7,1180.3 448.8,1155 450,1107.5 451.1,1092.8 452.3,1057.7 453.4,1064.9 454.6,1105 455.7,1135.4 456.9,1186.7 458,1198.3 459.2,1201.1 460.3,1200.6 461.5,1177.8 462.6,1135.9 463.8,1058.1 464.9,1016.3 466.1,1006.5 467.2,1041.3 468.4,1075.1 469.5,1152 470.7,1192.9 471.8,1211.4 473,1216.2 474.1,1211.5 475.3,1187.5 476.4,1141.5 477.6,1038.6 478.7,1054.5 479.9,991.2 481,1013.1 482.2,1082.9 483.3,1143.1 484.5,1197.5 485.6,1219.3 486.8,1225.3 487.9,1218.6 489.1,1190.4 490.2,1146.9 491.4,1060.9 492.5,975.5 493.7,962.4 494.8,1005.9 496,1047.5 497.1,1108.3 498.3,1171.3 499.4,1199.1 500.6,1206 501.7,1200.7 502.9,1176.5 504,1134.7 505.2,1076.7 506.3,981.3 507.5,969.6 508.7,995.5 509.8,1020.6 511,1135.4 512.1,1181.1 513.3,1209.5 514.4,1211.5 515.6,1205.8 516.7,1175.5 517.9,1120.7 519,1017.7 520.2,972.3 521.3,959.7 522.5,1004.9 523.6,1058.6 524.8,1138 525.9,1183.2 527.1,1213.2 528.2,1217.2 529.4,1213.7 530.5,1186.4 531.7,1132 532.8,1102.3 534,1039.2 535.1,995.7 536.3,1025.8 537.4,1069 538.6,1142.1 539.7,1177.2 540.9,1202.5 542,1204 543.2,1199.5 544.3,1175.2 545.5,1105.3 546.6,1014.3 547.8,997.2 548.9,957 550.1,1041.1 551.2,1044.4 552.4,1138.3 553.5,1183.4 554.7,1214.7 555.8,1221 557,1218.2 558.1,1199.5 559.3,1152.2 560.4,1107.4 561.6,1059 562.7,1050.5 563.9,1062.9 565,1094.6 566.2,1168.6 567.3,1198.5 568.5,1219.6 569.6,1220.9 570.8,1217.2 571.9,1188.8 573.1,1120.7 574.2,1024 575.4,1030.6 576.6,974.1 577.7,985.3 578.9,1073.5 580,1127.2 581.2,1175.7 582.3,1193.2 583.5,1199.6 584.6,1196.6 585.8,1179.5 586.9,1126.6 588.1,1077.3 589.2,1011.8 590.4,1002 591.5,1049.1 592.7,1076.9 593.8,1135.1 595,1183.8 596.1,1211.9 597.3,1214 598.4,1210.3 599.6,1194.5 600.7,1133.6 601.9,1077.5 603,1022 604.2,1011.8 605.3,1021.5 606.5,1073.4 607.6,1140.4 608.8,1180.2 609.9,1195.3 611.1,1205.5 612.2,1210 613.4,1174.8 614.5,1128.2 615.7,1031.3 616.8,1022.4 618,978.6 619.1,990.1 620.3,1031.9 621.4,1118.4 622.6,1172.1 623.7,1211.1 624.9,1201.1 626,1212.7 627.2,1171.7 628.3,1145 629.5,1108.6 630.6,1066.6 631.8,1016.3 632.9,1025.9 634.1,1081.2 635.2,1143.8 636.4,1189.6 637.5,1196.6 638.7,1202.1 639.8,1198.3 641,1187.5 642.1,1127 643.3,1070.2 644.4,1002.4 645.6,992.1 646.8,1007.3 647.9,1082.4 649.1,1124.5 650.2,1186.2 651.4,1208.9 652.5,1202.6 653.7,1213.3 654.8,1182.8 656,1102.1 657.1,1031.5 658.3,1040.2 659.4,972.3 660.6,984.2 661.7,1074.8 662.9,1109.8 664,1194.7 665.2,1193.8 666.3,1220.4 667.5,1196.5 668.6,1175.2 669.8,1154.8 670.9,1102.1 672.1,1074.5 673.2,1036.1 674.4,1044.1 675.5,1089.5 676.7,1139.2 677.8,1200.9 679,1208.4 680.1,1202.7 681.3,1197.1 682.4,1188 683.6,1147.8 684.7,1082.5 685.9,1047.4 687,1035.2 688.2,1053.2 689.3,1087.1 690.5,1154.3 691.6,1187.7 692.8,1199.8 693.9,1204.8 695.1,1195.8 696.2,1184 697.4,1120.5 698.5,1066.6 699.7,1003.4 700.8,992.1 702,1059.6 703.1,1075 704.3,1114.7 705.4,1193.6 706.6,1196.9 707.7,1202 708.9,1215 710,1166.3 711.2,1124.2 712.3,1054.6 713.5,992.5 714.7,981.3 715.8,1001 717,1081.3 718.1,1135.2 719.3,1175.8 720.4,1201.5 721.6,1219.1 722.7,1209.5 723.9,1179.7 725,1154.6 726.2,1089.2 727.3,1097.5 728.5,1043.3 729.6,1053.4 730.8,1104.9 731.9,1139.9 733.1,1177.6 734.2,1198.6 735.4,1204.1 736.5,1193.8 737.7,1184.2 738.8,1147.1 740,1073.3 741.1,1016.4 742.3,1006.5 743.4,1016.1 744.6,1091.9 745.7,1155.3 746.9,1171.5 748,1196.1 749.2,1202.2 750.3,1196.1 751.5,1181.5 752.6,1134.9 753.8,1045.3 754.9,1001.5 756.1,991.2 757.2,1044.5 758.4,1094.5 759.5,1118.5 760.7,1179.8 761.8,1199.1 763,1214.7 764.1,1211.4 765.3,1175.3 766.4,1124.2 767.6,1103.2 768.7,1048.6 769.9,984 771,994.6 772.2,1058.2 773.3,1143.8 774.5,1175.3 775.6,1215.4 776.8,1198.5 777.9,1211.3 779.1,1186.4 780.2,1142.1 781.4,1079 782.5,1079 783.7,1023.5 784.9,1033 786,1109.6 787.2,1146.5 788.3,1174.4 789.5,1215.5 790.6,1213.6 791.8,1210.9 792.9,1176.4 794.1,1132 795.2,1027.5 796.4,1003 797.5,941.7 798.7,1017.4 799.8,1035.8 801,1136.7 802.1,1187.1 803.3,1215.5 804.4,1209.4 805.6,1216 806.7,1173 807.9,1131.9 809,1089.2 810.2,1047.2 811.3,991.2 812.5,1005.4 813.6,1078.7 814.8,1133.6 815.9,1185.1 817.1,1213.7 818.2,1208.4 819.4,1198.7 820.5,1172.5 821.7,1100.2 822.8,1010.9 824,1004.2 825.1,938.1 826.3,1013.2 827.4,1051.9 828.6,1107.3 829.7,1164.6 830.9,1216.9 832,1207.9 833.2,1203.5 834.3,1183.2 835.5,1120.7 836.6,1061.9 837.8,981.8 838.9,969.6 840.1,1011.8 841.2,1057.9 842.4,1120 843.5,1192.6 844.7,1194.5 845.8,1206.8 847,1218.1 848.1,1180.6 849.3,1115.2 850.4,1065.2 851.6,1036 852.8,991.2 853.9,1038.7 855.1,1045.7 856.2,1116.1 857.4,1180.2 858.5,1211.2 859.7,1198.9 860.8,1212 862,1178.2 863.1,1134.7 864.3,1045.4 865.4,968.5 866.6,955.2 867.7,967.7 868.9,1045.5 870,1115.1 871.2,1164.7 872.3,1206.4 873.5,1209.9 874.6,1212 875.8,1175.9 876.9,1145.3 878.1,1090 879.2,1036.3 880.4,981.3 881.5,1007.6 882.7,1081.3 883.8,1135.3 885,1176.3 886.1,1195.1 887.3,1204.3 888.4,1199.6 889.6,1173.9 890.7,1135.8 891.9,1081.2 893,1080.5 894.2,1016.3 895.3,1075.6 896.5,1062.5 897.6,1156.1 898.8,1177.7 899.9,1205.3 901.1,1210.8 902.2,1217.1 903.4,1171.9 904.5,1104.8 905.7,1048.6 906.8,1025.5 908,945.3 909.1,958.6 910.3,1009.2 911.4,1123.7 912.6,1164.9 913.7,1211.5 914.9,1208 916,1202.5 917.2,1188.3 918.3,1123 919.5,1073.1 920.6,981.4 921.8,969.6 923,1023.2 924.1,1074.7 925.3,1114.7 926.4,1166.3 927.6,1209.2 928.7,1221.8 929.9,1218.6 931,1173.2 932.2,1160.5 933.3,1093.6 934.5,1037.9 935.6,1028.9 936.8,1056.2 937.9,1092.8 939.1,1146.5 940.2,1181.3 941.4,1193.3 942.5,1219 943.7,1210.6 944.8,1180.9 946,1155.6 947.1,1085.4 948.3,1075.5 949.4,1037.9 950.6,1062.1 951.7,1127.1 952.9,1149.7 954,1196.8 955.2,1209.2 956.3,1216.8 957.5,1208.5 958.6,1161.9 959.8,1118 960.9,1023.6 962.1,946.9 963.2,932.7 964.4,985.6 965.5,1019.7 966.7,1105.9 967.8,1179.5 969,1211.3 970.1,1200.8 971.3,1195.4 972.4,1164.8 973.6,1120 974.7,1051.7 975.9,982.8 977,944.4 978.2,957.5 979.3,1041 980.5,1088.2 981.6,1167.4 982.8,1198.9 983.9,1219.1 985.1,1195.3 986.2,1172.3 987.4,1115.5 988.5,1085.1 989.7,1024.5 990.9,993.9 992,1004.2 993.2,1086.8 994.3,1150.6 995.5,1180.3 996.6,1217 997.8,1208.8 998.9,1192.4 1000.1,1168.1 1001.2,1123.9 1002.4,1079 1003.5,997.3 1004.7,976.8 1005.8,988.5 1007,1076.9 1008.1,1110.8 1009.3,1186.4 1010.4,1201.6 1011.6,1210.6 1012.7,1195.8 1013.9,1177.8 1015,1099.8 1016.2,1043.6 1017.3,1008.4 1018.5,949.8 1019.6,1001.5 1020.8,1040.4 1021.9,1090.7 1023.1,1170.8 1024.2,1201 1025.4,1213.4 1026.5,1215.2 1027.7,1157.6 1028.8,1104.4 1030,1004.2 1031.1,987 1032.3,925.5 1033.4,976 1034.6,1035.8 1035.7,1117.9 1036.9,1176.9 1038,1193.3 1039.2,1202 1040.3,1196.5 1041.5,1161.1 1042.6,1117 1043.8,987.4 1044.9,891.1 1046.1,874.3 1047.2,891.2 1048.4,1030.4 1049.5,1089.8 1050.7,1182.2 1051.8,1211.5 1053,1217.4 1054.1,1189.3 1055.3,1177.2 1056.4,1132.4 1057.6,989.5 1058.7,964.6 1059.9,921 1061.1,971.8 1062.2,1049.6 1063.4,1107 1064.5,1164.7 1065.7,1208.4 1066.8,1203.7 1068,1205.5 1069.1,1169.2 1070.3,1098.9 1071.4,1044.7 1072.6,1002.8" fill="none" stroke="#f7a445" stroke-opacity="0.85" stroke-width="1.1" stroke-linejoin="round"/>
<polyline points="389.3,1126.6 403.1,1109.8 416.8,1126.2 430.6,1142.2 444.4,1124.1 458.2,1133.2 472,1110.2 485.7,1132 499.5,1107 513.3,1099.5 527.1,1113 540.8,1097.6 554.6,1123.6 568.4,1130.5 582.2,1119.8 596,1115.5 609.7,1117 623.5,1117.7 637.3,1127.9 651.1,1116 664.9,1105.5 678.6,1135.2 692.4,1123.6 706.2,1106.6 720,1127.9 733.7,1125.2 747.5,1106.6 761.3,1116.6 775.1,1124.3 788.9,1122.6 802.6,1107.7 816.4,1089.5 830.2,1105.9 844,1100.8 857.8,1098.7 871.5,1086.7 885.3,1100.6 899.1,1112.6 912.9,1092.7 926.6,1133.3 940.4,1125.8 954.2,1111.9 968,1090.6 981.8,1091 995.5,1101.2 1009.3,1105.1 1023.1,1090.1 1036.9,1078.8 1050.6,1070.3" fill="none" stroke="#b3561f" stroke-width="3" stroke-linejoin="miter" stroke-miterlimit="3"/>
<polyline points="376.2,1123.6 380.9,1123.5 387.2,1123.4 394.7,1123.2 403,1123.1 411.9,1122.9 420.9,1122.8 429.9,1122.6 438.4,1122.4 446.8,1122.3 455.2,1122.1 463.8,1121.9 472.6,1121.8 481.3,1121.6 490.1,1121.4 498.8,1121.2 507.5,1121.1 516.1,1120.9 524.8,1120.7 533.4,1120.6 542,1120.4 550.7,1120.2 559.3,1120.1 567.9,1119.9 576.6,1119.7 585.2,1119.6 593.8,1119.4 602.4,1119.2 611.1,1119.1 619.7,1118.9 628.3,1118.7 637,1118.6 645.6,1118.4 654.2,1118.2 662.9,1118 671.5,1117.9 680.1,1117.7 688.8,1117.5 697.4,1117.3 706,1117 714.7,1116.6 723.3,1116.1 731.9,1115.6 740.5,1115 749.2,1114.4 757.8,1113.7 766.4,1113 775.1,1112.3 783.7,1111.6 792.3,1110.9 801,1110.2 809.6,1109.5 818.2,1108.8 826.9,1108 835.5,1107.3 844.1,1106.5 852.8,1105.8 861.4,1105.1 870,1104.3 878.6,1103.6 887.3,1102.9 895.9,1102.1 904.5,1101.4 913.2,1100.7 921.8,1099.9 930.5,1099.2 939.3,1098.5 948.1,1097.7 956.9,1097 965.6,1096.3 974.2,1095.6 982.7,1094.8 990.9,1094.1 999.2,1093.3 1007.9,1092.5 1016.6,1091.7 1025.1,1090.9 1033,1090.1 1040.1,1089.5 1046.1,1088.9 1050.6,1088.4" fill="none" stroke="#7d3a17" stroke-width="5.5" stroke-linejoin="round"/>
<rect x="86.5" y="866.6" width="980.5" height="366.6" fill="none" stroke="#333" stroke-width="1.3"/>
<path d="M93.2 1233.2v-9.5M93.2 866.6v9.5M231.3 1233.2v-9.5M231.3 866.6v9.5M369.4 1233.2v-9.5M369.4 866.6v9.5M507.5 1233.2v-9.5M507.5 866.6v9.5M645.6 1233.2v-9.5M645.6 866.6v9.5M783.7 1233.2v-9.5M783.7 866.6v9.5M921.8 1233.2v-9.5M921.8 866.6v9.5M1059.9 1233.2v-9.5M1059.9 866.6v9.5M86.5 1233h9.5M1067 1233h-9.5M86.5 1188.2h9.5M1067 1188.2h-9.5M86.5 1143.5h9.5M1067 1143.5h-9.5M86.5 1098.8h9.5M1067 1098.8h-9.5M86.5 1054h9.5M1067 1054h-9.5M86.5 1009.2h9.5M1067 1009.2h-9.5M86.5 964.5h9.5M1067 964.5h-9.5M86.5 919.8h9.5M1067 919.8h-9.5M86.5 875h9.5M1067 875h-9.5" stroke="#333" stroke-width="1.3" fill="none"/>
<text x="80.6" y="1242.8" text-anchor="end" font-size="25">0.5</text>
<text x="80.6" y="1198" text-anchor="end" font-size="25">1</text>
<text x="80.6" y="1153.3" text-anchor="end" font-size="25">1.5</text>
<text x="80.6" y="1108.5" text-anchor="end" font-size="25">2</text>
<text x="80.6" y="1063.8" text-anchor="end" font-size="25">2.5</text>
<text x="80.6" y="1019" text-anchor="end" font-size="25">3</text>
<text x="80.6" y="974.3" text-anchor="end" font-size="25">3.5</text>
<text x="80.6" y="929.5" text-anchor="end" font-size="25">4</text>
<text x="80.6" y="884.8" text-anchor="end" font-size="25">4.5</text>
<text x="93.2" y="1263.2" text-anchor="middle" font-size="25">1950</text>
<text x="231.3" y="1263.2" text-anchor="middle" font-size="25">1960</text>
<text x="369.4" y="1263.2" text-anchor="middle" font-size="25">1970</text>
<text x="507.5" y="1263.2" text-anchor="middle" font-size="25">1980</text>
<text x="645.6" y="1263.2" text-anchor="middle" font-size="25">1990</text>
<text x="783.7" y="1263.2" text-anchor="middle" font-size="25">2000</text>
<text x="921.8" y="1263.2" text-anchor="middle" font-size="25">2010</text>
<text x="1059.9" y="1263.2" text-anchor="middle" font-size="25">2020</text>
<text x="110" y="907.6" font-size="36" font-weight="bold">e</text>
<text transform="translate(29.4,1048.4) rotate(-90)" text-anchor="middle" font-size="30.5">VPD (kPa)</text>
<text x="575" y="25.5" text-anchor="middle" font-size="34.4" font-weight="bold">Southeast Australia mean</text>
<text x="1346.5" y="25.5" text-anchor="middle" font-size="34.4" font-weight="bold">2019 mean</text>
<text x="577.8" y="1294" text-anchor="middle" font-size="31">Year</text>
<clipPath id="land0"><path d="M1417.7 49.9 1420.3 52.8 1422.5 57.1 1425.1 62.9 1427.2 69.4 1427.7 72 1428.8 77.7 1430.3 82.9 1431.9 88.1 1435 87 1438.1 85.7 1442.2 89.6 1446.4 94 1445.9 99.2 1446.9 103.8 1448.1 105.6 1447.9 109.9 1451.3 114.5 1453.1 118.5 1454 120.9 1454 128.7 1457.1 131.6 1462.1 139.4 1468.2 140.9 1471.8 144.2 1477 147.4 1481.8 150.3 1483.7 155 1486.7 159.7 1489.6 164 1492 171.3 1495.1 173.5 1498.2 172.4 1503.4 175.1 1502.9 181.5 1504.4 185.5 1508.2 189.4 1513.2 191.3 1516.9 197.7 1519.5 200.7 1524.7 205.2 1526.2 201 1528.3 198.8 1528.5 202.1 1527.8 206.6 1528.2 212.5 1527.2 217.6 1527.6 222.2 1530.9 225 1531.9 229.5 1530.7 235.7 1531.9 237.6 1532.8 243 1532.2 245.6 1529.9 251.9 1528.3 257.3 1527.7 261.9 1527 269 1525.4 274.8 1523.6 279.6 1521.5 286.5 1517.9 289.8 1513.6 292.2 1511.4 296.3 1508.4 302.9 1507.5 304.7 1504.4 309.6 1504 312.5 1502.9 317.6 1500.1 320.6 1497.2 324.9 1496.7 327 1496.5 330.8 1495.9 333.1 1494.3 340.9 1494.9 346 1494.3 346.8 1487.5 349.5 1480.1 349.5 1474.2 350.5 1469.2 353.1 1464 357.3 1458.8 360.3 1457.8 365.5 1455.7 361.5 1452.8 362.7 1449.5 360 1446.4 357.9 1443.5 357.7 1439.6 355.6 1442.2 353.1 1443.3 350.5 1439.1 351.9 1437.1 353.4 1439.1 355.4 1436.2 356 1432.7 358.4 1427.9 362.2 1424.6 360.9 1422.3 359.4 1417.1 356.7 1414.7 356.6 1408 356.1 1407.5 357.1 1406 356.5 1403.9 354.3 1401.5 352.7 1398.7 352.5 1394.5 349.5 1391.5 345.7 1388.8 341.9 1389.9 338 1386.3 331.7 1383.1 327 1379.8 323 1377.1 323 1371.7 323.4 1373.8 321.7 1375.9 315.6 1375.4 310.5 1372.3 306.9 1369.9 309.6 1368.1 317.3 1367.1 318.1 1360.3 319.2 1359.1 319.9 1360.3 315.2 1365.3 310.5 1366.8 303.8 1370 300 1370.7 295.1 1368.3 287.2 1366.3 293.4 1359.5 300.9 1351 309 1348.6 313.1 1344.8 315.4 1343.7 311.7 1338.6 300.6 1336.2 295.7 1331.3 290.7 1328.5 285.8 1326.1 282.6 1318.9 281.4 1313 281.2 1305.4 275.6 1299.2 275.4 1287.8 276.6 1277.4 277.8 1276.2 277.7 1261.8 283.7 1246.8 284.5 1235.9 290.7 1232.8 291.8 1224.3 300.2 1216.8 304.4 1203.8 303 1194.5 302.9 1185.4 304.1 1180 307 1177.7 309.3 1168.5 312.9 1162.1 316.7 1156.6 316.4 1149.9 316.4 1142.6 314.5 1133.7 309 1132.3 304.7 1132.3 299.2 1135.9 300.6 1138.8 296.8 1139.7 287.6 1139.9 282 1140 280.3 1138.3 275.6 1135.6 269.9 1133 264.2 1132.6 261.9 1132.1 257.9 1131.5 249.9 1128.1 244.4 1125 239.1 1123.6 232.3 1120.9 227.8 1116.7 221.1 1113.2 214.9 1117.7 217.7 1120.9 220 1124 216.6 1124 212.1 1121.9 207.7 1118.8 201 1118.4 200.8 1116.7 194.3 1115.7 193.5 1118.3 186.6 1119.5 181.6 1118.6 177 1120.9 171.3 1123.6 166.9 1125 173.5 1127.1 172.4 1128.1 166.9 1130.2 165.8 1133.4 165.2 1142.6 158.2 1149.9 154.4 1155.1 153.9 1163.4 151.2 1169.6 150.7 1177.9 147.4 1181.7 146.9 1189.3 143.1 1195.5 137.7 1200.7 133.4 1207.7 127.4 1206.2 114.7 1213.5 109 1220.2 107 1229.6 103.6 1230.3 97.6 1237 90.2 1247 83.5 1255.1 80.8 1260.5 83.5 1268.5 91.5 1277.2 92.9 1284 92.2 1281.3 86.8 1287.3 76.8 1297.4 64.7 1302 63.4 1306.9 60.5 1314.7 57.6 1322.5 58.6 1330.3 62.5 1338.1 63.4 1341.1 61.5 1347.9 59.5 1357.7 52.7 1358.6 64.4 1349.8 74.2 1347.9 82 1345 91.8 1357.7 102.5 1370.8 110.3 1382.1 114.2 1392.8 123 1401.6 113.2 1406.5 98.6 1408.4 79.1 1412.3 54.7ZM1440.2 384.2 1446.4 385.3 1452.6 388.7 1457.3 390.3 1464 388.7 1468.2 388.1 1473.9 385 1478 388 1477.5 392.1 1477.5 399 1477.5 402.7 1474.4 406.4 1473.9 413.7 1471.3 414.9 1467.6 412.5 1467.1 417.4 1462.2 420.4 1455.7 418.6 1453.1 416.2 1448.5 410 1445.3 402.7 1442.2 396.6 1440.2 389.3ZM1355.7 325.2 1360.3 323.4 1366.6 324 1371.7 325 1368.6 326.4 1363.4 328.2 1357.2 328.8 1355.7 327ZM1431.3 371.4 1433.1 371.1 1434.1 374.2 1433.5 377.2 1431.9 376.7 1431.1 374.2ZM1472.8 372.6 1474.9 372.3 1477.7 376 1477.3 378.6 1474.4 377.8 1472.9 375.4ZM1289.3 60.5 1292.2 54.7 1301 55.6 1302.3 58.6 1297.1 61.2 1291.9 61.7Z"/></clipPath><path d="M1417.7 49.9 1420.3 52.8 1422.5 57.1 1425.1 62.9 1427.2 69.4 1427.7 72 1428.8 77.7 1430.3 82.9 1431.9 88.1 1435 87 1438.1 85.7 1442.2 89.6 1446.4 94 1445.9 99.2 1446.9 103.8 1448.1 105.6 1447.9 109.9 1451.3 114.5 1453.1 118.5 1454 120.9 1454 128.7 1457.1 131.6 1462.1 139.4 1468.2 140.9 1471.8 144.2 1477 147.4 1481.8 150.3 1483.7 155 1486.7 159.7 1489.6 164 1492 171.3 1495.1 173.5 1498.2 172.4 1503.4 175.1 1502.9 181.5 1504.4 185.5 1508.2 189.4 1513.2 191.3 1516.9 197.7 1519.5 200.7 1524.7 205.2 1526.2 201 1528.3 198.8 1528.5 202.1 1527.8 206.6 1528.2 212.5 1527.2 217.6 1527.6 222.2 1530.9 225 1531.9 229.5 1530.7 235.7 1531.9 237.6 1532.8 243 1532.2 245.6 1529.9 251.9 1528.3 257.3 1527.7 261.9 1527 269 1525.4 274.8 1523.6 279.6 1521.5 286.5 1517.9 289.8 1513.6 292.2 1511.4 296.3 1508.4 302.9 1507.5 304.7 1504.4 309.6 1504 312.5 1502.9 317.6 1500.1 320.6 1497.2 324.9 1496.7 327 1496.5 330.8 1495.9 333.1 1494.3 340.9 1494.9 346 1494.3 346.8 1487.5 349.5 1480.1 349.5 1474.2 350.5 1469.2 353.1 1464 357.3 1458.8 360.3 1457.8 365.5 1455.7 361.5 1452.8 362.7 1449.5 360 1446.4 357.9 1443.5 357.7 1439.6 355.6 1442.2 353.1 1443.3 350.5 1439.1 351.9 1437.1 353.4 1439.1 355.4 1436.2 356 1432.7 358.4 1427.9 362.2 1424.6 360.9 1422.3 359.4 1417.1 356.7 1414.7 356.6 1408 356.1 1407.5 357.1 1406 356.5 1403.9 354.3 1401.5 352.7 1398.7 352.5 1394.5 349.5 1391.5 345.7 1388.8 341.9 1389.9 338 1386.3 331.7 1383.1 327 1379.8 323 1377.1 323 1371.7 323.4 1373.8 321.7 1375.9 315.6 1375.4 310.5 1372.3 306.9 1369.9 309.6 1368.1 317.3 1367.1 318.1 1360.3 319.2 1359.1 319.9 1360.3 315.2 1365.3 310.5 1366.8 303.8 1370 300 1370.7 295.1 1368.3 287.2 1366.3 293.4 1359.5 300.9 1351 309 1348.6 313.1 1344.8 315.4 1343.7 311.7 1338.6 300.6 1336.2 295.7 1331.3 290.7 1328.5 285.8 1326.1 282.6 1318.9 281.4 1313 281.2 1305.4 275.6 1299.2 275.4 1287.8 276.6 1277.4 277.8 1276.2 277.7 1261.8 283.7 1246.8 284.5 1235.9 290.7 1232.8 291.8 1224.3 300.2 1216.8 304.4 1203.8 303 1194.5 302.9 1185.4 304.1 1180 307 1177.7 309.3 1168.5 312.9 1162.1 316.7 1156.6 316.4 1149.9 316.4 1142.6 314.5 1133.7 309 1132.3 304.7 1132.3 299.2 1135.9 300.6 1138.8 296.8 1139.7 287.6 1139.9 282 1140 280.3 1138.3 275.6 1135.6 269.9 1133 264.2 1132.6 261.9 1132.1 257.9 1131.5 249.9 1128.1 244.4 1125 239.1 1123.6 232.3 1120.9 227.8 1116.7 221.1 1113.2 214.9 1117.7 217.7 1120.9 220 1124 216.6 1124 212.1 1121.9 207.7 1118.8 201 1118.4 200.8 1116.7 194.3 1115.7 193.5 1118.3 186.6 1119.5 181.6 1118.6 177 1120.9 171.3 1123.6 166.9 1125 173.5 1127.1 172.4 1128.1 166.9 1130.2 165.8 1133.4 165.2 1142.6 158.2 1149.9 154.4 1155.1 153.9 1163.4 151.2 1169.6 150.7 1177.9 147.4 1181.7 146.9 1189.3 143.1 1195.5 137.7 1200.7 133.4 1207.7 127.4 1206.2 114.7 1213.5 109 1220.2 107 1229.6 103.6 1230.3 97.6 1237 90.2 1247 83.5 1255.1 80.8 1260.5 83.5 1268.5 91.5 1277.2 92.9 1284 92.2 1281.3 86.8 1287.3 76.8 1297.4 64.7 1302 63.4 1306.9 60.5 1314.7 57.6 1322.5 58.6 1330.3 62.5 1338.1 63.4 1341.1 61.5 1347.9 59.5 1357.7 52.7 1358.6 64.4 1349.8 74.2 1347.9 82 1345 91.8 1357.7 102.5 1370.8 110.3 1382.1 114.2 1392.8 123 1401.6 113.2 1406.5 98.6 1408.4 79.1 1412.3 54.7ZM1440.2 384.2 1446.4 385.3 1452.6 388.7 1457.3 390.3 1464 388.7 1468.2 388.1 1473.9 385 1478 388 1477.5 392.1 1477.5 399 1477.5 402.7 1474.4 406.4 1473.9 413.7 1471.3 414.9 1467.6 412.5 1467.1 417.4 1462.2 420.4 1455.7 418.6 1453.1 416.2 1448.5 410 1445.3 402.7 1442.2 396.6 1440.2 389.3ZM1355.7 325.2 1360.3 323.4 1366.6 324 1371.7 325 1368.6 326.4 1363.4 328.2 1357.2 328.8 1355.7 327ZM1431.3 371.4 1433.1 371.1 1434.1 374.2 1433.5 377.2 1431.9 376.7 1431.1 374.2ZM1472.8 372.6 1474.9 372.3 1477.7 376 1477.3 378.6 1474.4 377.8 1472.9 375.4ZM1289.3 60.5 1292.2 54.7 1301 55.6 1302.3 58.6 1297.1 61.2 1291.9 61.7Z" fill="#de8228"/><g clip-path="url(#land0)"><path d="M1261 102.1C1262.2 99.4 1264.4 99.1 1266.6 97.9C1268.8 96.7 1271.8 95.3 1273.6 95.1C1275.4 94.8 1276.5 87.4 1277.1 96.5C1277.7 105.6 1278 138.2 1277.1 147C1276.3 155.8 1274 148 1272.2 147C1270.4 146 1268.1 143.8 1266.6 141.4C1265.1 138.9 1264.5 136.4 1263.8 133C1263 129.5 1263.1 125.2 1262.4 121.7C1261.6 118.3 1259.8 116.8 1259.6 113.3C1259.3 109.9 1259.7 104.8 1261 102.1Z" fill="#f6b262"/><path d="M1179.6 151.2C1180.6 149.2 1187.4 147.2 1190.8 147C1194.2 146.8 1196.3 148.8 1199.2 149.8C1202.2 150.8 1204.7 151.6 1207.7 152.6C1210.6 153.6 1213.6 153.7 1216.1 155.4C1218.5 157.1 1220.9 159.5 1221.7 162.4C1222.4 165.4 1221.8 169.8 1220.3 172.3C1218.8 174.7 1216 176 1213.3 176.5C1210.6 177 1207.3 176.3 1204.8 175.1C1202.4 173.8 1201.7 171.4 1199.2 169.5C1196.8 167.5 1193.3 165.8 1190.8 163.8C1188.4 161.9 1187.2 160.4 1185.2 158.2C1183.2 156 1178.6 153.2 1179.6 151.2Z" fill="#f6b262"/><path d="M1122 182.1C1123.5 180.1 1129.6 178.2 1133.3 176.5C1137 174.8 1140.2 173.5 1143.1 172.3C1146 171 1147.7 169.7 1150.1 169.5C1152.6 169.2 1156.4 169.9 1157.1 170.9C1157.9 171.8 1156.8 173.1 1154.3 175.1C1151.9 177 1146.5 180.1 1143.1 182.1C1139.7 184.1 1137.9 185.3 1134.7 186.3C1131.5 187.3 1127.1 188.4 1124.9 187.7C1122.6 187 1120.6 184.1 1122 182.1Z" fill="#f6b262"/><path d="M1116.4 189.1C1117.4 186.9 1121.2 187.2 1123.5 187.7C1125.7 188.2 1127.8 189.9 1129.1 191.9C1130.3 193.9 1131 197.2 1130.5 198.9C1130 200.6 1128.5 201.5 1126.3 201.7C1124 202 1119.6 202.5 1117.8 200.3C1116.1 198.1 1115.5 191.3 1116.4 189.1Z" fill="#f6b262"/><path d="M1116.4 193.3C1117.3 192.2 1120.5 192 1122 192.6C1123.6 193.2 1125.3 195.5 1125.6 196.8C1125.8 198.2 1124.9 200 1123.5 200.3C1122 200.7 1118.4 200.2 1117.1 198.9C1115.9 197.7 1115.6 194.4 1116.4 193.3Z" fill="#ffffff"/><path d="M1157.1 221.4C1157.4 219.7 1161.2 218.1 1164.1 218.6C1167.1 219.1 1171.3 224.4 1174 224.2C1176.7 223.9 1177.6 218.9 1179.6 217.2C1181.5 215.4 1183 215.8 1185.2 214.4C1187.4 212.9 1189.8 210 1192.2 208.7C1194.7 207.5 1196.5 207.6 1199.2 207.3C1201.9 207.1 1204.2 207.1 1207.7 207.3C1211.1 207.6 1216.4 207.5 1218.9 208.7C1221.3 210 1221.4 211.7 1221.7 214.4C1221.9 217.1 1221.8 221.7 1220.3 224.2C1218.8 226.6 1216.5 227.9 1213.3 228.4C1210.1 228.9 1205 226.3 1202 227C1199.1 227.7 1198.4 230.3 1196.4 232.6C1194.5 234.9 1190.8 240 1190.8 240L1179.6 240C1179.6 240 1174.1 237.5 1171.2 235.4C1168.2 233.4 1165.2 230.9 1162.7 228.4C1160.3 225.9 1156.9 223.1 1157.1 221.4Z" fill="#f6b262"/><path d="M1174 149.8C1175.4 149.1 1180.4 148.2 1182.4 148.4C1184.4 148.7 1185.7 150.4 1185.2 151.2C1184.7 152.1 1181.5 153.1 1179.6 153.3C1177.6 153.6 1175 153.2 1174 152.6C1173 152 1172.5 150.5 1174 149.8Z" fill="#ffffff"/><path d="M1199.9 134.4C1200.9 133.1 1204.7 132.2 1206.2 133C1207.8 133.7 1209.3 137 1209.1 138.6C1208.8 140.2 1206.3 141.8 1204.8 142.1C1203.4 142.3 1201.5 141.3 1200.6 140C1199.8 138.6 1198.9 135.6 1199.9 134.4Z" fill="#f6b262"/><path d="M1314.3 130.2C1315 126 1317.9 127.6 1319.9 127.4C1321.9 127.1 1323.6 128.3 1325.5 128.8C1327.5 129.3 1331 130.2 1331 130.2L1331 200.3C1331 200.3 1327.5 204.9 1325.5 207.3C1323.6 209.8 1321.9 214.4 1319.9 214.4C1317.9 214.4 1315 211 1314.3 207.3C1313.6 203.7 1315.2 199.5 1315.7 193.3C1316.2 187.2 1317.1 179.6 1317.1 172.3C1317.1 164.9 1316.2 158.6 1315.7 151.2C1315.2 143.8 1313.6 134.3 1314.3 130.2Z" fill="#f6b262"/><path d="M1282 148.4C1282.5 147.4 1284.8 145.7 1286.2 145.6C1287.7 145.5 1290.2 146.7 1290.4 147.7C1290.7 148.7 1288.9 150.6 1287.6 151.2C1286.4 151.8 1284.4 151.7 1283.4 151.2C1282.4 150.7 1281.5 149.4 1282 148.4Z" fill="#f6b262"/><path d="M1301.7 198.9C1303.1 196 1306.5 195 1308.7 194.7C1310.9 194.5 1313.1 195.1 1314.3 197.5C1315.5 200 1316.2 205.3 1315.7 208.7C1315.2 212.2 1313.7 215 1311.5 217.2C1309.3 219.4 1305 222.4 1303.1 221.4C1301.1 220.4 1300.5 215.5 1300.3 211.6C1300 207.6 1300.2 201.9 1301.7 198.9Z" fill="#f6b262"/><path d="M1213.3 130.2C1213.8 126.5 1215.5 124.5 1217.5 120.3C1219.4 116.2 1221.3 109.5 1224.5 106.3C1227.7 103.1 1232 102.1 1235.7 102.1C1239.4 102.1 1242.6 104.3 1245.5 106.3C1248.5 108.3 1250.8 110.6 1252.6 113.3C1254.3 116 1255.6 119.3 1255.4 121.7C1255.1 124.2 1252.3 124.4 1251.2 127.4C1250 130.3 1249 134.7 1249 138.6C1249 142.5 1249.8 146.6 1251.2 149.8C1252.5 153 1254.1 155.2 1256.8 156.8C1259.5 158.4 1263.4 157.9 1266.6 158.9C1269.8 159.9 1273 161.1 1275 162.4C1277 163.8 1277.6 153.1 1278.1 166.7C1278.6 180.2 1278.1 240 1278.1 240L1241.3 240C1241.3 240 1238.3 226.9 1237.1 221.4C1235.9 215.9 1235.3 212.7 1234.3 208.7C1233.3 204.8 1232.7 201.9 1231.5 198.9C1230.3 196 1229 194.1 1227.3 191.9C1225.6 189.7 1221.7 189.2 1221.7 186.3C1221.7 183.3 1225.8 178.5 1227.3 175.1C1228.8 171.6 1230.6 169.6 1230.1 166.7C1229.6 163.7 1226.5 161.2 1224.5 158.2C1222.5 155.3 1220.6 152.8 1218.9 149.8C1217.2 146.9 1215.6 144.8 1214.7 141.4C1213.7 138 1212.8 133.8 1213.3 130.2Z" fill="#b25826"/><path d="M1150.1 186.3C1151.8 183.3 1156.5 183.1 1159.9 180.7C1163.4 178.2 1166.3 173.7 1169.8 172.3C1173.2 170.8 1176.4 171.3 1179.6 172.3C1182.8 173.2 1185.1 175.7 1188 177.9C1191 180.1 1193 183.8 1196.4 184.9C1199.9 186 1203.7 184.1 1207.7 184.2C1211.6 184.3 1215.4 184.2 1218.9 185.6C1222.3 186.9 1226.3 190.1 1227.3 191.9C1228.3 193.8 1226.9 195.6 1224.5 196.1C1222 196.6 1217.2 195.5 1213.3 194.7C1209.3 194 1204.7 191.9 1202 191.9C1199.3 191.9 1199.5 193.2 1197.8 194.7C1196.1 196.2 1195.2 198.9 1192.2 200.3C1189.3 201.8 1185.4 203.1 1181 203.1C1176.6 203.1 1171.6 200.3 1167 200.3C1162.3 200.3 1157.3 203.6 1154.3 203.1C1151.4 202.6 1150.9 200.5 1150.1 197.5C1149.4 194.6 1148.4 189.2 1150.1 186.3Z" fill="#b25826"/><path d="M1278.1 166.7C1279 162.2 1281.8 169.8 1283.4 172.3C1285.1 174.7 1287.1 177.7 1287.6 180.7C1288.1 183.6 1287.2 186.6 1286.2 189.1C1285.3 191.6 1283.4 193.2 1282 194.7C1280.6 196.2 1278.8 202.4 1278.1 197.5C1277.4 192.6 1277.2 171.1 1278.1 166.7Z" fill="#b25826"/><path d="M1284.8 95.1C1286.1 91.9 1289.1 89.5 1291.8 88.1C1294.5 86.6 1297.8 85.9 1300.3 86.7C1302.7 87.4 1305.1 88.8 1305.9 92.3C1306.6 95.7 1305.2 102.1 1304.5 106.3C1303.7 110.5 1303.4 113.7 1301.7 116.1C1300 118.6 1297.1 120.3 1294.7 120.3C1292.2 120.3 1289.4 118.6 1287.6 116.1C1285.9 113.7 1285.3 110 1284.8 106.3C1284.3 102.6 1283.6 98.3 1284.8 95.1Z" fill="#b25826"/><path d="M1290.4 127.4C1291.4 125.6 1295.5 125.5 1297.5 126C1299.4 126.4 1301.4 128.4 1301.7 130.2C1301.9 131.9 1300.6 134.8 1298.9 135.8C1297.1 136.8 1293.3 137.3 1291.8 135.8C1290.4 134.3 1289.5 129.1 1290.4 127.4Z" fill="#b25826"/><path d="M1150.1 161C1151.8 159.8 1157.5 158.2 1159.9 158.2C1162.4 158.2 1164.6 159.8 1164.1 161C1163.7 162.3 1159.6 164.5 1157.1 165.2C1154.7 166 1151.3 166 1150.1 165.2C1148.9 164.5 1148.4 162.3 1150.1 161Z" fill="#b25826"/><path d="M1116.4 205.9C1117.9 204.2 1122.4 205 1124.9 205.9C1127.3 206.9 1129.7 209.3 1130.5 211.6C1131.2 213.8 1130.5 216.9 1129.1 218.6C1127.6 220.3 1124.3 221.9 1122 221.4C1119.8 220.9 1117.4 218.5 1116.4 215.8C1115.5 213.1 1115 207.7 1116.4 205.9Z" fill="#b25826"/><path d="M1249.7 92.3C1250.5 90.6 1254.6 87.2 1256.8 86.7C1259 86.2 1262.1 88 1262.4 89.5C1262.6 90.9 1259.9 93.9 1258.2 95.1C1256.4 96.3 1254 97 1252.6 96.5C1251.1 96 1249 94 1249.7 92.3Z" fill="#b25826"/><path d="M1193.6 144.2C1194.1 143 1198 142.1 1199.2 142.8C1200.5 143.5 1201.1 147.2 1200.6 148.4C1200.1 149.6 1197.7 150.5 1196.4 149.8C1195.2 149.1 1193.1 145.4 1193.6 144.2Z" fill="#b25826"/><path d="M1224.5 106.3C1226.6 104.3 1232.5 104.2 1235.7 104.9C1238.9 105.6 1240.9 108.1 1242.7 110.5C1244.6 113 1245.5 115.7 1246.2 118.9C1247 122.1 1247.8 126.1 1246.9 128.8C1246.1 131.5 1243.5 132.5 1241.3 134.4C1239.1 136.2 1236.8 139 1234.3 139.3C1231.9 139.5 1228.9 137.9 1227.3 135.8C1225.7 133.7 1225.8 130.8 1225.2 127.4C1224.6 123.9 1223.9 119.8 1223.8 116.1C1223.7 112.4 1222.4 108.3 1224.5 106.3Z" fill="#7e3a18"/><path d="M1246.9 164.5C1249.9 163.9 1255.2 164.8 1259.6 165.9C1264 167.1 1269 169 1272.2 170.9C1275.4 172.7 1276.5 174.3 1278.1 176.5C1279.7 178.7 1281.6 181.8 1281.3 183.5C1281 185.2 1279 185.3 1276.4 186.3C1273.8 187.3 1269.8 187.9 1266.6 189.1C1263.4 190.3 1260.4 191.3 1258.2 193.3C1256 195.3 1255.9 198.6 1254 200.3C1252 202 1249.4 203.1 1246.9 203.1C1244.5 203.1 1241.5 202.8 1239.9 200.3C1238.3 197.9 1237.9 193 1237.8 189.1C1237.7 185.2 1238.4 181.3 1239.2 177.9C1240.1 174.4 1241.4 171.8 1242.7 169.5C1244.1 167.1 1244 165.2 1246.9 164.5Z" fill="#7e3a18"/><path d="M1293.3 92.3C1294.5 91.2 1298.5 89.7 1300.3 90.2C1302 90.7 1303.1 93.2 1303.1 95.1C1303.1 96.9 1301.5 99.7 1300.3 100.7C1299 101.7 1297.3 101.4 1296.1 100.7C1294.8 100 1293.7 98 1293.3 96.5C1292.8 95 1292 93.4 1293.3 92.3Z" fill="#7e3a18"/><path d="M1120.6 210.2C1121.4 209.3 1124.2 210.1 1125.6 210.9C1126.9 211.6 1128.5 213.1 1128.4 214.4C1128.2 215.6 1126.1 217.6 1124.9 217.9C1123.6 218.1 1122.1 217.1 1121.3 215.8C1120.6 214.4 1119.9 211 1120.6 210.2Z" fill="#7e3a18"/><path d="M1252.6 228.4C1253.8 224.9 1258.7 221.8 1262.4 220C1266.1 218.1 1270.9 218.1 1273.6 217.9C1276.4 217.6 1277.3 214.7 1278.1 218.6C1278.9 222.5 1278.1 240 1278.1 240L1255.4 240C1255.4 240 1251.3 231.9 1252.6 228.4Z" fill="#7e3a18"/><path d="M1393 122.8C1394.9 116.9 1401.5 115.7 1404.2 107.4C1406.9 99 1407.2 83.7 1408.4 75.1C1409.6 66.5 1409 61.2 1411.2 58.2C1413.4 55.3 1417.4 54.1 1421 58.2C1424.7 62.4 1427.8 75.5 1432.3 82.1C1436.7 88.7 1442.4 89.7 1446.3 96.1C1450.2 102.5 1452.3 111.2 1454.7 118.6C1457.2 126 1455.7 132.6 1460.3 138.2C1465 143.9 1475.2 145 1481.4 150.9C1487.5 156.8 1491.2 166.3 1495.4 171.9C1499.6 177.6 1501.1 178.7 1505.2 183.1C1509.4 187.6 1514.8 192.7 1519.3 197.2C1523.7 201.6 1528.5 204.4 1530.5 208.4C1532.5 212.4 1530.5 220 1530.5 220L1320 220L1320 129.8C1320 129.8 1333.7 130.9 1341 132.6C1348.4 134.3 1356 137.9 1362.1 139.6C1368.2 141.4 1370.7 142.2 1376.1 142.4C1381.5 142.7 1390 144.5 1393 141C1395.9 137.6 1391 128.7 1393 122.8Z" fill="#f6b262"/><path d="M1336.8 65.3C1337.1 62.1 1340.5 62.1 1342.5 63.9C1344.4 65.6 1345.6 71.2 1348.1 75.1C1350.5 79 1354 81.9 1356.5 86.3C1358.9 90.7 1360.4 96.2 1362.1 100.3C1363.8 104.5 1367.5 108.9 1366.3 110.2C1365.1 111.4 1358.3 109.8 1355.1 107.4C1351.9 104.9 1350.5 100.6 1348.1 96.1C1345.6 91.7 1343 87.5 1341 82.1C1339.1 76.7 1336.6 68.5 1336.8 65.3Z" fill="#f6b262"/><path d="M1418.2 59.6C1419.5 57.4 1416.8 45.9 1426.7 59.6C1436.5 73.4 1468 123.5 1474.4 138.2C1480.7 153 1466.6 144.1 1463.1 143.8C1459.7 143.6 1457.7 139.3 1454.7 136.8C1451.8 134.4 1448.3 133 1446.3 129.8C1444.3 126.6 1444.7 122.5 1443.5 118.6C1442.3 114.7 1441.2 110.6 1439.3 107.4C1437.3 104.2 1434.7 102.8 1432.3 100.3C1429.8 97.9 1426.7 96.5 1425.2 93.3C1423.8 90.1 1424.8 85.8 1423.8 82.1C1422.9 78.4 1420.6 76.2 1419.6 72.3C1418.7 68.3 1417 61.9 1418.2 59.6Z" fill="#ffffff"/><path d="M1353.7 152.3C1355.9 149.6 1361.5 151.6 1364.9 150.9C1368.3 150.1 1370.1 148.1 1373.3 148.1C1376.5 148.1 1379.7 149.6 1383.1 150.9C1386.6 152.1 1389.8 153.6 1393 155.1C1396.2 156.5 1398.2 158.1 1401.4 159.3C1404.6 160.5 1408.3 162.3 1411.2 162.1C1414.2 161.8 1415.5 157.9 1418.2 157.9C1420.9 157.9 1423.7 160.1 1426.7 162.1C1429.6 164.1 1432.6 167.9 1435.1 169.1C1437.5 170.3 1439.2 170.6 1440.7 169.1C1442.2 167.6 1442.5 163.6 1443.5 160.7C1444.5 157.7 1443.3 154.2 1446.3 152.3C1449.2 150.3 1456.6 149.5 1460.3 149.5C1464 149.5 1465.9 150.3 1467.3 152.3C1468.8 154.2 1469 156.8 1468.7 160.7C1468.5 164.6 1466.9 171.3 1465.9 174.7C1465 178.2 1465.1 178.4 1463.1 180.3C1461.2 182.3 1457.7 184.5 1454.7 185.9C1451.8 187.4 1448.5 187.3 1446.3 188.7C1444.1 190.2 1443.3 190.9 1442.1 194.4C1440.9 197.8 1441 204.5 1439.3 208.4C1437.6 212.3 1434.5 214.8 1432.3 216.8C1430.1 218.9 1426.7 220 1426.7 220C1426.7 220 1425.8 214.5 1423.8 211.2C1421.9 207.9 1418.4 203.3 1415.4 201.4C1412.5 199.4 1410 199.2 1407 200C1404.1 200.7 1401 203.4 1398.6 205.6C1396.1 207.8 1395.2 210.6 1393 212.6C1390.8 214.6 1389.4 215.5 1386 216.8C1382.5 218.1 1373.3 220 1373.3 220L1370.5 220C1370.5 220 1368.7 212.9 1367.7 208.4C1366.7 203.9 1366.9 199.3 1364.9 194.4C1362.9 189.5 1358.7 185.2 1356.5 180.3C1354.3 175.4 1352.8 171.2 1352.3 166.3C1351.8 161.4 1351.5 155 1353.7 152.3Z" fill="#ffffff"/><path d="M1474.4 152.3C1475.3 150.5 1479.1 148.4 1482.8 150.9C1486.5 153.3 1493 162.1 1495.4 166.3C1497.9 170.5 1498 173.2 1496.8 174.7C1495.6 176.2 1490.9 176.2 1488.4 174.7C1485.9 173.2 1484.7 168.8 1482.8 166.3C1480.8 163.8 1478.6 163.1 1477.2 160.7C1475.7 158.2 1473.4 154 1474.4 152.3Z" fill="#ffffff"/><path d="M1471.6 150.9C1472 149.6 1474.8 149 1475.8 149.5C1476.7 149.9 1477.7 152.4 1477.2 153.7C1476.7 154.9 1473.9 157 1473 156.5C1472 156 1471.1 152.1 1471.6 150.9Z" fill="#f6b262"/><path d="M1367.7 159.3C1368.4 157.7 1371.9 157.1 1373.3 157.9C1374.8 158.6 1375.9 161.8 1376.1 163.5C1376.4 165.2 1376 167.1 1374.7 167.7C1373.5 168.3 1370.3 168.5 1369.1 167C1367.9 165.5 1367 160.9 1367.7 159.3Z" fill="#f6b262"/><path d="M1407 93.3C1408 91.1 1412.1 90.9 1414 91.9C1416 92.9 1418.2 96.5 1418.2 98.9C1418.2 101.4 1415.7 105 1414 106C1412.3 106.9 1409.6 106.8 1408.4 104.6C1407.2 102.3 1406 95.5 1407 93.3Z" fill="#de8228"/><path d="M1433.7 115.8C1434.6 113.6 1438.7 112.5 1440.7 113C1442.6 113.5 1444.6 116.1 1444.9 118.6C1445.1 121 1443.8 125.8 1442.1 127C1440.4 128.2 1436.5 127.6 1435.1 125.6C1433.6 123.6 1432.7 118 1433.7 115.8Z" fill="#de8228"/><path d="M1435.1 149.5C1435.3 148.4 1438.2 147.6 1439.3 148.1C1440.4 148.5 1441.6 151.2 1441.4 152.3C1441.1 153.4 1439 154.9 1437.9 154.4C1436.8 153.9 1434.8 150.6 1435.1 149.5Z" fill="#de8228"/><path d="M1471.6 164.9C1472.5 163.9 1475.7 163.9 1477.2 164.9C1478.6 165.9 1480.2 169 1480 170.5C1479.7 172 1477.2 173.3 1475.8 173.3C1474.3 173.3 1472.3 172 1471.6 170.5C1470.8 169 1470.6 165.9 1471.6 164.9Z" fill="#de8228"/><path d="M1412.6 131.2C1412.9 129.9 1415.6 129.1 1416.8 129.8C1418.1 130.5 1419.9 134.1 1419.6 135.4C1419.4 136.8 1416.7 138.3 1415.4 137.5C1414.2 136.8 1412.4 132.6 1412.6 131.2Z" fill="#ffffff"/><path d="M1370.5 122.8C1372 121.3 1376 122.1 1378.9 122.8C1381.9 123.5 1385.1 124.8 1387.4 127C1389.6 129.2 1391.1 133 1391.6 135.4C1392.1 137.9 1391.9 140.3 1390.2 141C1388.4 141.8 1384.7 140.4 1381.7 139.6C1378.8 138.9 1375.3 138.3 1373.3 136.8C1371.4 135.4 1371 133.7 1370.5 131.2C1370 128.8 1369 124.3 1370.5 122.8Z" fill="#b25826"/><path d="M1320 68.1C1320 68.1 1325.5 66.2 1328.4 66.7C1331.4 67.2 1334.6 68.2 1336.8 70.9C1339 73.6 1339.8 77.7 1341 82.1C1342.3 86.5 1341.9 92 1343.9 96.1C1345.8 100.3 1349.6 102.8 1352.3 106C1355 109.1 1357.6 111.2 1359.3 114.4C1361 117.6 1362.8 122 1362.1 124.2C1361.4 126.4 1358 127.5 1355.1 127C1352.1 126.5 1348.2 123.8 1345.3 121.4C1342.3 118.9 1340.7 115.9 1338.2 113C1335.8 110 1333.7 107 1331.2 104.6C1328.8 102.1 1326.2 100.4 1324.2 98.9C1322.2 97.5 1320 96.1 1320 96.1L1320 68.1Z" fill="#b25826"/><path d="M1328.4 76.5C1329.2 75.3 1331.6 74.3 1332.6 75.1C1333.6 75.8 1334.3 79 1334 80.7C1333.8 82.4 1332.2 84.7 1331.2 84.9C1330.2 85.2 1328.9 83.6 1328.4 82.1C1327.9 80.6 1327.7 77.7 1328.4 76.5Z" fill="#7e3a18"/><path d="M1320 194.4C1320 194.4 1323.6 191.7 1325.6 193C1327.6 194.2 1330.7 197.4 1331.2 201.4C1331.7 205.3 1330.4 212.1 1328.4 215.4C1326.5 218.7 1320 220 1320 220L1320 194.4Z" fill="#de8228"/><path d="M1334 201.4C1335 199.9 1339.1 198.3 1341 198.6C1343 198.8 1345 201.3 1345.3 202.8C1345.5 204.3 1344.2 206.3 1342.5 207C1340.7 207.7 1336.9 208 1335.4 207C1334 206 1333.1 202.9 1334 201.4Z" fill="#de8228"/><path d="M1465.9 180.3C1468.6 175.7 1472.7 175.2 1477.2 174.7C1481.6 174.2 1486.8 175.6 1491.2 177.5C1495.6 179.5 1498.5 183 1502.4 185.9C1506.4 188.9 1510 190.9 1513.7 194.4C1517.3 197.8 1520.8 201.1 1523.5 205.6C1526.2 210.1 1529.1 220 1529.1 220L1460.3 220C1460.3 220 1460.8 208.3 1461.7 201.4C1462.7 194.4 1463.2 185 1465.9 180.3Z" fill="#de8228"/><path d="M1474.4 191.6C1476.8 188.1 1482.2 188.3 1485.6 188.7C1489 189.2 1491.1 192.2 1494 194.4C1497 196.6 1499 199.4 1502.4 201.4C1505.9 203.3 1510.7 203.1 1513.7 205.6C1516.6 208 1518 212.9 1519.3 215.4C1520.5 217.9 1520.7 220 1520.7 220L1473 220C1473 220 1471.3 213.4 1471.6 208.4C1471.8 203.4 1471.9 195 1474.4 191.6Z" fill="#b25826"/><path d="M1519.3 205.6C1520.5 202.8 1524.3 201.7 1526.3 204.2C1528.2 206.7 1530.5 220 1530.5 220L1519.3 220C1519.3 220 1518 208.4 1519.3 205.6Z" fill="#f6b262"/><path d="M1174 252.3C1175 250.3 1180.8 250.6 1185.2 250.9C1189.6 251.1 1194.3 252.9 1199.2 253.7C1204.1 254.4 1208.4 254.3 1213.3 255.1C1218.2 255.8 1223.4 256.9 1227.3 257.9C1231.2 258.9 1232 260.7 1235.7 260.7C1239.4 260.7 1243.7 258.1 1248.3 257.9C1253 257.6 1258.7 257.8 1262.4 259.3C1266.1 260.8 1267.4 263.4 1269.4 266.3C1271.4 269.3 1276.1 273.9 1273.6 276.1C1271.1 278.3 1261 277.7 1255.4 278.9C1249.7 280.2 1246.2 280.7 1241.3 283.1C1236.4 285.6 1230.5 289.8 1227.3 293C1224.1 296.2 1226.8 300.4 1223.1 301.4C1219.4 302.4 1208.5 300.1 1206.2 298.6C1204 297.1 1210.2 295.9 1210.5 293C1210.7 290 1209.6 284.4 1207.7 281.7C1205.7 279 1202.2 278.5 1199.2 277.5C1196.3 276.6 1192.8 277.9 1190.8 276.1C1188.8 274.4 1190 270.2 1188 267.7C1186 265.3 1182 264.8 1179.6 262.1C1177.1 259.4 1173 254.2 1174 252.3Z" fill="#f6b262"/><path d="M1238.5 267.7C1241.2 266.5 1244.2 265.8 1248.3 266.3C1252.5 266.8 1258.4 268.6 1262.4 270.5C1266.3 272.5 1272 275.8 1270.8 277.5C1269.6 279.3 1260.5 279.1 1255.4 280.3C1250.2 281.6 1246.2 282.6 1241.3 284.6C1236.4 286.5 1230.7 290.8 1227.3 291.6C1223.9 292.3 1221.7 291 1221.7 288.8C1221.7 286.6 1225.3 281.6 1227.3 278.9C1229.3 276.2 1230.9 275.3 1232.9 273.3C1234.9 271.4 1235.8 268.9 1238.5 267.7Z" fill="#ffffff"/><path d="M1161.3 262.1C1162.1 260.9 1165.2 259 1167 259.3C1168.7 259.5 1170.9 262 1171.2 263.5C1171.4 265 1169.8 267.2 1168.4 267.7C1166.9 268.2 1164 267.3 1162.7 266.3C1161.5 265.3 1160.6 263.3 1161.3 262.1Z" fill="#f6b262"/><path d="M1176.8 274.7C1177.8 273.5 1180.4 272.6 1182.4 273.3C1184.4 274.1 1187.3 276.7 1188 278.9C1188.7 281.1 1187.8 284.7 1186.6 286C1185.4 287.2 1182.7 286.9 1181 286C1179.3 285 1177.5 282.3 1176.8 280.3C1176 278.4 1175.8 276 1176.8 274.7Z" fill="#f6b262"/><path d="M1140.3 309.8C1141.5 308.1 1145.9 307.2 1150.1 307C1154.3 306.8 1160 307.9 1164.1 308.4C1168.3 308.9 1172.7 308.6 1174 309.8C1175.2 311 1176.6 314.2 1171.2 315.4C1165.8 316.7 1148.5 317.8 1143.1 316.8C1137.7 315.8 1139.1 311.5 1140.3 309.8Z" fill="#f6b262"/><path d="M1144.5 311.2C1146.5 309.7 1153 309.8 1157.1 309.8C1161.3 309.8 1166.9 310 1168.4 311.2C1169.8 312.4 1169.5 315.6 1165.6 316.8C1161.6 318.1 1149.6 319.2 1145.9 318.2C1142.2 317.2 1142.5 312.7 1144.5 311.2Z" fill="#ffffff"/><path d="M1197.8 298.6C1200.3 297.4 1209.3 297.2 1213.3 297.2C1217.2 297.2 1219.1 297.6 1220.3 298.6C1221.5 299.6 1224 301.8 1220.3 302.8C1216.6 303.8 1203.2 304.9 1199.2 304.2C1195.3 303.5 1195.4 299.8 1197.8 298.6Z" fill="#f6b262"/><path d="M1202 300C1204.7 299 1214.4 298.1 1217.5 298.6C1220.5 299.1 1222.3 301.8 1219.6 302.8C1216.9 303.8 1205.1 304.7 1202 304.2C1199 303.7 1199.3 301 1202 300Z" fill="#ffffff"/><path d="M1120.6 228.4C1121.1 227.2 1125.5 230.6 1127.7 234C1129.9 237.5 1131.6 243.2 1133.3 248.1C1135 253 1136.3 256.7 1137.5 262.1C1138.7 267.5 1139.6 274 1140.3 278.9C1141 283.8 1142.4 287.7 1141.7 290.2C1141 292.6 1137.3 295.4 1136.1 293C1134.9 290.5 1135.7 282.8 1134.7 276.1C1133.7 269.5 1132.2 261.2 1130.5 255.1C1128.8 248.9 1126.6 245.7 1124.9 241C1123.1 236.4 1120.2 229.6 1120.6 228.4Z" fill="#f6b262"/><path d="M1181 220L1196.4 220C1196.4 220 1199.2 225.5 1199.2 228.4C1199.2 231.4 1198.4 235.1 1196.4 236.8C1194.5 238.6 1190.5 239 1188 238.2C1185.5 237.5 1183.6 235.8 1182.4 232.6C1181.2 229.4 1181 220 1181 220Z" fill="#f6b262"/><path d="M1158.5 221.4C1159.5 220.4 1165.6 220 1165.6 220C1165.6 220 1169.8 224.1 1169.8 225.6C1169.8 227.1 1167.3 228.4 1165.6 228.4C1163.8 228.4 1161.2 226.8 1159.9 225.6C1158.7 224.4 1157.6 222.4 1158.5 221.4Z" fill="#f6b262"/><path d="M1311.5 220L1331 220L1331 236.8C1331 236.8 1323.3 236.9 1319.9 235.4C1316.5 234 1313 231.1 1311.5 228.4C1310 225.7 1311.5 220 1311.5 220Z" fill="#f6b262"/><path d="M1317.1 273.3C1318.1 271.9 1323.1 271.9 1325.5 271.9C1328 271.9 1331 273.3 1331 273.3L1331 283.1C1331 283.1 1322.3 282.1 1319.9 280.3C1317.5 278.6 1316.1 274.8 1317.1 273.3Z" fill="#f6b262"/><path d="M1136.1 243.9C1137.6 241.6 1140.4 240.8 1143.1 241C1145.8 241.3 1149.3 242.8 1151.5 245.3C1153.7 247.7 1155.5 252.1 1155.7 255.1C1156 258 1152.9 259.9 1152.9 262.1C1152.9 264.3 1156.2 265.7 1155.7 267.7C1155.2 269.7 1152.3 272.8 1150.1 273.3C1147.9 273.8 1145.3 272.5 1143.1 270.5C1140.9 268.6 1139 265 1137.5 262.1C1136 259.2 1134.9 256.9 1134.7 253.7C1134.4 250.5 1134.6 246.1 1136.1 243.9Z" fill="#b25826"/><path d="M1152.9 287.4C1153.7 285.6 1156.6 285 1158.5 286C1160.5 286.9 1161.9 290.3 1164.1 293C1166.4 295.7 1169.7 298.9 1171.2 301.4C1172.6 303.8 1173.3 306 1172.6 307C1171.8 308 1169.2 308 1167 307C1164.7 306 1162.1 303.4 1159.9 301.4C1157.7 299.4 1155.6 298.2 1154.3 295.8C1153.1 293.3 1152.2 289.1 1152.9 287.4Z" fill="#b25826"/><path d="M1190.8 288.8C1191.8 287.8 1195.2 286.6 1196.4 287.4C1197.7 288.1 1198.3 291.5 1197.8 293C1197.3 294.4 1194.8 295.8 1193.6 295.8C1192.4 295.8 1191.3 294.2 1190.8 293C1190.3 291.7 1189.8 289.7 1190.8 288.8Z" fill="#b25826"/><path d="M1235.7 220L1301.7 220C1301.7 220 1307 229.1 1308.7 234C1310.4 238.9 1311.5 243.2 1311.5 248.1C1311.5 253 1310.7 258.9 1308.7 262.1C1306.7 265.3 1304 266.3 1300.3 266.3C1296.6 266.3 1292.5 263.1 1287.6 262.1C1282.7 261.1 1276.6 262.4 1272.2 260.7C1267.8 259 1266.3 254.5 1262.4 252.3C1258.4 250.1 1253.9 249 1249.7 248.1C1245.6 247.1 1241 248.6 1238.5 246.7C1236.1 244.7 1236.2 241.5 1235.7 236.8C1235.2 232.2 1235.7 220 1235.7 220Z" fill="#b25826"/><path d="M1251.2 228.4C1252.4 226.5 1256.4 224.3 1259.6 222.8C1262.8 221.3 1269.4 220 1269.4 220L1283.4 220C1283.4 220 1285.9 227.5 1287.6 231.2C1289.4 234.9 1292 238.3 1293.3 241C1294.5 243.8 1295.6 245.4 1294.7 246.7C1293.7 247.9 1290.6 247.8 1287.6 248.1C1284.7 248.3 1281 248.6 1277.8 248.1C1274.6 247.6 1272.6 246.7 1269.4 245.3C1266.2 243.8 1262.5 241.6 1259.6 239.6C1256.6 237.7 1254 236 1252.6 234C1251.1 232.1 1249.9 230.4 1251.2 228.4Z" fill="#7e3a18"/><path d="M1320 200L1370.5 200C1370.5 200 1365 211.6 1370.5 214C1376 216.5 1396.6 207.6 1402.1 214C1407.6 220.4 1403.2 243.6 1402.1 250.5C1401 257.4 1398.4 251.9 1395.8 253.3C1393.2 254.8 1389.8 257 1387.4 258.9C1384.9 260.9 1383.7 262.1 1381.7 264.6C1379.8 267 1377.6 272.5 1376.1 273C1374.7 273.5 1372.8 270.3 1373.3 267.4C1373.8 264.4 1378.9 259.6 1378.9 256.1C1378.9 252.7 1376.3 249.4 1373.3 247.7C1370.4 246 1366 246.1 1362.1 246.3C1358.2 246.6 1355 249.6 1350.9 249.1C1346.7 248.6 1342.2 245.7 1338.2 243.5C1334.3 241.3 1331.6 238 1328.4 236.5C1325.2 235 1320 235.1 1320 235.1L1320 200Z" fill="#f6b262"/><path d="M1366.3 216.8C1368.3 214.9 1373.2 215.2 1376.1 215.4C1379.1 215.7 1381.2 216.8 1383.1 218.2C1385.1 219.7 1385.1 222.1 1387.4 223.9C1389.6 225.6 1393.8 226.3 1395.8 228.1C1397.7 229.8 1398.6 231.2 1398.6 233.7C1398.6 236.1 1397.7 240.6 1395.8 242.1C1393.8 243.6 1390.3 243.3 1387.4 242.1C1384.4 240.9 1382.1 236.8 1378.9 235.1C1375.7 233.4 1371.6 233.7 1369.1 232.3C1366.7 230.8 1365.4 229.4 1364.9 226.7C1364.4 224 1364.3 218.8 1366.3 216.8Z" fill="#ffffff"/><path d="M1348.1 258.9C1349.3 255.7 1353.8 255 1356.5 254.7C1359.2 254.5 1361.8 255.8 1363.5 257.5C1365.2 259.3 1366.1 261.9 1366.3 264.6C1366.6 267.3 1366.6 271 1364.9 273C1363.2 274.9 1359.2 275.8 1356.5 275.8C1353.8 275.8 1350.9 275.9 1349.5 273C1348 270 1346.8 262.1 1348.1 258.9Z" fill="#f6b262"/><path d="M1320 273C1320 273 1326.2 270.6 1328.4 271.6C1330.6 272.6 1332.9 276.6 1332.6 278.6C1332.4 280.5 1329.2 282.1 1327 282.8C1324.8 283.5 1320 282.8 1320 282.8L1320 273Z" fill="#f6b262"/><path d="M1320 200L1331.2 200C1331.2 200 1332.5 205.3 1331.2 207C1330 208.7 1326.2 209.6 1324.2 209.8C1322.2 210.1 1320 208.4 1320 208.4L1320 200Z" fill="#de8228"/><path d="M1336.8 200L1345.3 200C1345.3 200 1345.1 204.6 1343.9 205.6C1342.6 206.6 1339.5 206.6 1338.2 205.6C1337 204.6 1336.8 200 1336.8 200Z" fill="#de8228"/><path d="M1394.4 200L1467.3 200C1467.3 200 1472.8 204.7 1471.6 208.4C1470.3 212.1 1464.7 217.6 1460.3 221C1455.9 224.5 1451.2 227.3 1446.3 228.1C1441.4 228.8 1437.2 226.5 1432.3 225.3C1427.4 224 1422.7 221.3 1418.2 221C1413.8 220.8 1409.5 225.1 1407 223.9C1404.5 222.6 1406.4 216.2 1404.2 214C1402 211.8 1396.1 213.7 1394.4 211.2C1392.7 208.8 1394.4 200 1394.4 200Z" fill="#f6b262"/><path d="M1423.8 200L1439.3 200C1439.3 200 1440.3 208.3 1439.3 211.2C1438.3 214.2 1435.9 216.6 1433.7 216.8C1431.5 217.1 1428.4 215.6 1426.7 212.6C1424.9 209.7 1423.8 200 1423.8 200Z" fill="#ffffff"/><path d="M1516.5 204.2C1517.7 202.2 1522.4 202.1 1524.9 202.8C1527.3 203.5 1529.5 205.2 1530.5 208.4C1531.5 211.6 1532 218.6 1530.5 221C1529 223.5 1524.3 223.7 1522.1 222.5C1519.9 221.2 1518.8 217.2 1517.9 214C1516.9 210.8 1515.2 206.2 1516.5 204.2Z" fill="#f6b262"/><path d="M1470.2 214C1471.6 210.1 1474 207.8 1477.2 205.6C1480.4 203.4 1484 201.9 1488.4 201.4C1492.8 200.9 1497.5 201.1 1502.4 202.8C1507.3 204.5 1512.3 206.8 1516.5 211.2C1520.6 215.6 1523.8 222.7 1526.3 228.1C1528.7 233.5 1530.2 237.2 1530.5 242.1C1530.7 247 1528.9 251.2 1527.7 256.1C1526.5 261 1525 265.7 1523.5 270.2C1522 274.6 1521.7 278.4 1519.3 281.4C1516.8 284.3 1513.6 286 1509.4 287C1505.3 288 1500.3 288 1495.4 287C1490.5 286 1484.8 282.9 1481.4 281.4C1477.9 279.9 1475 280.5 1475.8 278.6C1476.5 276.6 1483.4 273.6 1485.6 270.2C1487.8 266.7 1489.6 261.9 1488.4 258.9C1487.2 256 1481.5 256.3 1478.6 253.3C1475.6 250.4 1473.3 246.5 1471.6 242.1C1469.8 237.7 1469 233 1468.7 228.1C1468.5 223.2 1468.7 218 1470.2 214Z" fill="#b25826"/><path d="M1498.2 223.9C1499.2 220.9 1502.5 217.8 1505.2 216.8C1507.9 215.9 1511.4 216.3 1513.7 218.2C1515.9 220.2 1516.9 224.6 1517.9 228.1C1518.8 231.5 1518.5 234.2 1519.3 237.9C1520 241.6 1521.8 244.7 1522.1 249.1C1522.3 253.5 1521.7 258.5 1520.7 263.1C1519.7 267.8 1518.4 272.6 1516.5 275.8C1514.5 279 1512.1 280.9 1509.4 281.4C1506.7 281.9 1503.5 280.1 1501 278.6C1498.6 277.1 1496.9 275.7 1495.4 273C1493.9 270.3 1492.4 266.6 1492.6 263.1C1492.9 259.7 1495.1 257 1496.8 253.3C1498.5 249.6 1501.9 245.5 1502.4 242.1C1502.9 238.7 1500.4 236.9 1499.6 233.7C1498.9 230.5 1497.2 226.8 1498.2 223.9Z" fill="#7e3a18"/><path d="M1481.4 240.7C1481.6 239.5 1485.5 237.6 1487 237.9C1488.5 238.1 1490 240.9 1489.8 242.1C1489.6 243.3 1487.1 245.2 1485.6 244.9C1484.1 244.7 1481.1 241.9 1481.4 240.7Z" fill="#7e3a18"/><path d="M1415.4 260.3C1416.7 257.9 1421.1 254.8 1423.8 253.3C1426.5 251.9 1428.9 250.9 1430.9 251.9C1432.8 252.9 1434.3 256.5 1435.1 258.9C1435.8 261.4 1433.8 265.2 1435.1 266C1436.3 266.7 1438.9 262.9 1442.1 263.1C1445.3 263.4 1449.6 265.6 1453.3 267.4C1457 269.1 1460.4 270 1463.1 273C1465.8 275.9 1467.3 280.8 1468.7 284.2C1470.2 287.6 1472 290.7 1471.6 292.6C1471.1 294.6 1469.1 294.7 1465.9 295.4C1462.8 296.2 1457.2 295.8 1453.3 296.8C1449.4 297.8 1446.7 300.8 1443.5 301C1440.3 301.3 1437.5 299.7 1435.1 298.2C1432.6 296.8 1430.7 295.1 1429.5 292.6C1428.2 290.2 1427.8 287.4 1428.1 284.2C1428.3 281 1431.8 276.6 1430.9 274.4C1429.9 272.2 1424.9 272.8 1422.4 271.6C1420 270.3 1418.1 269.3 1416.8 267.4C1415.6 265.4 1414.2 262.8 1415.4 260.3Z" fill="#f6b262"/><path d="M1468.7 306.7C1470.5 304.4 1474.2 302.7 1477.2 302.4C1480.1 302.2 1483.6 303.5 1485.6 305.2C1487.6 307 1488.9 309.6 1488.4 312.3C1487.9 315 1485.2 318.2 1482.8 320.7C1480.3 323.1 1476.8 324.3 1474.4 326.3C1471.9 328.3 1470.7 329.5 1468.7 331.9C1466.8 334.4 1465.1 338.9 1463.1 340.3C1461.2 341.8 1457.3 342.8 1457.5 340.3C1457.8 337.9 1462.8 330.7 1464.5 326.3C1466.3 321.9 1466.6 318.5 1467.3 315.1C1468.1 311.6 1467 308.9 1468.7 306.7Z" fill="#f6b262"/><path d="M1474.4 323.5C1475.3 322 1478.3 320.7 1480 320.7C1481.7 320.7 1483.7 322 1484.2 323.5C1484.7 325 1484 327.6 1482.8 329.1C1481.6 330.6 1478.6 331.9 1477.2 331.9C1475.7 331.9 1474.9 330.6 1474.4 329.1C1473.9 327.6 1473.4 325 1474.4 323.5Z" fill="#ffffff"/><path d="M1402.8 330.5C1404.3 328.5 1408 328.9 1411.2 329.1C1414.4 329.3 1417.8 329.9 1421 331.9C1424.2 333.9 1428 336.9 1429.5 340.3C1430.9 343.8 1430.9 348.6 1429.5 351.6C1428 354.5 1424.5 356.7 1421 357.2C1417.6 357.7 1412.8 355.8 1409.8 354.4C1406.9 352.9 1405.4 351.2 1404.2 348.7C1403 346.3 1403 343.5 1402.8 340.3C1402.5 337.1 1401.3 332.5 1402.8 330.5Z" fill="#f6b262"/><path d="M1390.2 337.5C1391.6 335.8 1396.5 334.2 1398.6 334.7C1400.7 335.2 1401.5 337.4 1402.1 340.3C1402.7 343.3 1403.2 349.6 1402.1 351.6C1401 353.5 1397.9 352.8 1395.8 351.6C1393.7 350.3 1391.1 347 1390.2 344.5C1389.2 342.1 1388.7 339.2 1390.2 337.5Z" fill="#f6b262"/><path d="M1357.9 282.8C1358.6 281.3 1362.6 280.5 1366.3 280C1370 279.5 1375 280.2 1378.9 280C1382.9 279.7 1385.8 278.3 1388.8 278.6C1391.7 278.8 1394.1 279.4 1395.8 281.4C1397.5 283.4 1398.1 286.4 1398.6 289.8C1399.1 293.2 1398.3 297.1 1398.6 301C1398.8 305 1400 308.3 1400 312.3C1400 316.2 1399.3 320.5 1398.6 323.5C1397.8 326.4 1398 328.6 1395.8 329.1C1393.6 329.6 1388.9 327.5 1386 326.3C1383 325.1 1381.1 324.5 1378.9 322.1C1376.7 319.6 1375 316.4 1373.3 312.3C1371.6 308.1 1371.1 302.4 1369.1 298.2C1367.2 294.1 1364.1 291.1 1362.1 288.4C1360.1 285.7 1357.2 284.3 1357.9 282.8Z" fill="#b25826"/><path d="M1402.8 303.8C1403.3 300.9 1404.8 297.4 1407 295.4C1409.2 293.5 1413.2 292.4 1415.4 292.6C1417.6 292.9 1419.1 294.4 1419.6 296.8C1420.1 299.3 1419 303.2 1418.2 306.7C1417.5 310.1 1416.9 314.5 1415.4 316.5C1414 318.4 1411.8 318.6 1409.8 317.9C1407.8 317.1 1405.4 314.7 1404.2 312.3C1403 309.8 1402.3 306.8 1402.8 303.8Z" fill="#b25826"/><path d="M1430.9 323.5C1431.8 321.5 1437 321.8 1440.7 322.1C1444.4 322.3 1449 323.4 1451.9 324.9C1454.9 326.4 1457 328.8 1457.5 330.5C1458 332.2 1456.7 333.7 1454.7 334.7C1452.8 335.7 1449.7 336.4 1446.3 336.1C1442.9 335.9 1437.8 335.5 1435.1 333.3C1432.4 331.1 1429.9 325.5 1430.9 323.5Z" fill="#b25826"/><path d="M1454.7 345.9C1456.7 344.2 1460.2 344.3 1463.1 344.5C1466.1 344.8 1470.1 346.1 1471.6 347.3C1473 348.6 1473.3 349.6 1471.6 351.6C1469.8 353.5 1464.4 357.1 1461.7 358.6C1459 360 1457.8 360.7 1456.1 360C1454.4 359.2 1452.2 356.8 1451.9 354.4C1451.7 351.9 1452.8 347.7 1454.7 345.9Z" fill="#b25826"/><path d="M1356.5 323.5C1358 322.5 1363.9 321.8 1366.3 322.1C1368.8 322.3 1370.5 323.9 1370.5 324.9C1370.5 325.9 1368.5 327.2 1366.3 327.7C1364.1 328.2 1359.6 328.4 1357.9 327.7C1356.2 327 1355 324.5 1356.5 323.5Z" fill="#b25826"/><path d="M1429.5 351.6C1430.9 350.3 1434.8 349.7 1436.5 350.2C1438.2 350.6 1440 352.6 1439.3 354.4C1438.5 356.1 1434.2 359.5 1432.3 360C1430.3 360.5 1428.5 358.6 1428.1 357.2C1427.6 355.7 1428 352.8 1429.5 351.6Z" fill="#b25826"/><path d="M1494 306.7C1495 305.2 1498.4 304.3 1499.6 305.2C1500.8 306.2 1501.5 310.1 1501 312.3C1500.5 314.5 1498 317.6 1496.8 317.9C1495.6 318.1 1494.5 315.6 1494 313.7C1493.5 311.7 1493 308.1 1494 306.7Z" fill="#b25826"/><path d="M1436.4 378.5C1444.5 370.5 1474.9 370.5 1483.1 378.5C1491.3 386.5 1491.3 416.3 1483.1 424.4C1474.9 432.4 1444.5 432.4 1436.4 424.4C1428.2 416.3 1428.2 386.5 1436.4 378.5Z" fill="#f6b262"/><path d="M1436.4 378.5C1439 372 1448.2 384.9 1451.2 387C1454.3 389.1 1453.6 388.9 1453.8 390.4C1453.9 391.9 1452.5 393.5 1452.1 395.5C1451.6 397.5 1451.2 399.6 1451.2 401.9C1451.2 404.1 1451.6 405.6 1452.1 408.2C1452.5 410.8 1453.9 413.9 1453.8 416.7C1453.6 419.5 1454.3 423 1451.2 424.4C1448.2 425.7 1439 432.4 1436.4 424.4C1433.8 416.3 1433.8 385 1436.4 378.5Z" fill="#ffffff"/><path d="M1463.1 387.8C1467.2 386 1479.6 378.1 1483.1 382.7C1486.6 387.4 1485.7 409.4 1483.1 414.6C1480.5 419.8 1471.4 411.4 1468.2 412.5C1465 413.6 1466 419.5 1464.8 421C1463.6 422.5 1462.3 423.2 1461.4 421C1460.5 418.7 1460.5 411.9 1459.7 408.2C1459 404.5 1457.2 402.3 1457.2 399.7C1457.2 397.1 1458.7 395.4 1459.7 393.4C1460.8 391.3 1459 389.7 1463.1 387.8Z" fill="#de8228"/><path d="M1468.2 396.3C1469.1 395.1 1471.3 394.9 1472.5 395.5C1473.7 396.1 1474.9 397.9 1475 399.7C1475.2 401.6 1474.2 404.6 1473.3 406.1C1472.4 407.6 1471 408.9 1469.9 408.2C1468.9 407.6 1467.7 404.4 1467.4 402.3C1467.1 400.2 1467.3 397.5 1468.2 396.3Z" fill="#b25826"/><path d="M1327.4 62.5C1328.3 61.2 1332 61.8 1334.2 62C1336.4 62.2 1338.9 62.1 1340.1 63.4C1341.3 64.7 1342 67.9 1341.1 69.3C1340.2 70.7 1337.3 71.3 1335.2 71.3C1333.1 71.3 1330.7 70.8 1329.3 69.3C1327.9 67.8 1326.5 63.8 1327.4 62.5Z" fill="#ffffff"/><path d="M1318 60C1319.6 59 1325.2 58 1327 59C1328.8 60 1328.9 64.4 1328 66C1327.1 67.6 1323.8 68.2 1322 68C1320.2 67.8 1318.7 66.4 1318 65C1317.3 63.6 1316.4 61 1318 60Z" fill="#f6b262"/><path d="M1393.7 210.3C1394.6 207.7 1397.7 204.2 1400 202C1402.3 199.8 1404.2 198.3 1406.9 197.8C1409.6 197.3 1412.5 198.1 1415.6 199.3C1418.7 200.5 1422.6 201.8 1424.4 204.4C1426.2 207 1426.7 211.7 1425.9 213.9C1425.1 216.1 1425.4 216.5 1420 217C1414.6 217.5 1399.6 218.2 1395 217C1390.4 215.8 1392.8 212.9 1393.7 210.3Z" fill="#f6b262"/><path d="M1424.4 196C1427 194.4 1437.1 193.6 1439.8 196C1442.5 198.4 1441 205.7 1439.8 209.5C1438.6 213.3 1435.5 216.7 1433.2 217.6C1430.9 218.5 1427.9 216.7 1426.5 214.5C1425.1 212.3 1425.4 208.2 1425 205C1424.6 201.8 1421.8 197.6 1424.4 196Z" fill="#ffffff"/><path d="M1431.3 371.4 1433.1 371.1 1434.1 374.2 1433.5 377.2 1431.9 376.7 1431.1 374.2Z" fill="#fff"/><path d="M1472.8 372.6 1474.9 372.3 1477.7 376 1477.3 378.6 1474.4 377.8 1472.9 375.4Z" fill="#f6b262"/></g><path d="M1417.7 49.9 1420.3 52.8 1422.5 57.1 1425.1 62.9 1427.2 69.4 1427.7 72 1428.8 77.7 1430.3 82.9 1431.9 88.1 1435 87 1438.1 85.7 1442.2 89.6 1446.4 94 1445.9 99.2 1446.9 103.8 1448.1 105.6 1447.9 109.9 1451.3 114.5 1453.1 118.5 1454 120.9 1454 128.7 1457.1 131.6 1462.1 139.4 1468.2 140.9 1471.8 144.2 1477 147.4 1481.8 150.3 1483.7 155 1486.7 159.7 1489.6 164 1492 171.3 1495.1 173.5 1498.2 172.4 1503.4 175.1 1502.9 181.5 1504.4 185.5 1508.2 189.4 1513.2 191.3 1516.9 197.7 1519.5 200.7 1524.7 205.2 1526.2 201 1528.3 198.8 1528.5 202.1 1527.8 206.6 1528.2 212.5 1527.2 217.6 1527.6 222.2 1530.9 225 1531.9 229.5 1530.7 235.7 1531.9 237.6 1532.8 243 1532.2 245.6 1529.9 251.9 1528.3 257.3 1527.7 261.9 1527 269 1525.4 274.8 1523.6 279.6 1521.5 286.5 1517.9 289.8 1513.6 292.2 1511.4 296.3 1508.4 302.9 1507.5 304.7 1504.4 309.6 1504 312.5 1502.9 317.6 1500.1 320.6 1497.2 324.9 1496.7 327 1496.5 330.8 1495.9 333.1 1494.3 340.9 1494.9 346 1494.3 346.8 1487.5 349.5 1480.1 349.5 1474.2 350.5 1469.2 353.1 1464 357.3 1458.8 360.3 1457.8 365.5 1455.7 361.5 1452.8 362.7 1449.5 360 1446.4 357.9 1443.5 357.7 1439.6 355.6 1442.2 353.1 1443.3 350.5 1439.1 351.9 1437.1 353.4 1439.1 355.4 1436.2 356 1432.7 358.4 1427.9 362.2 1424.6 360.9 1422.3 359.4 1417.1 356.7 1414.7 356.6 1408 356.1 1407.5 357.1 1406 356.5 1403.9 354.3 1401.5 352.7 1398.7 352.5 1394.5 349.5 1391.5 345.7 1388.8 341.9 1389.9 338 1386.3 331.7 1383.1 327 1379.8 323 1377.1 323 1371.7 323.4 1373.8 321.7 1375.9 315.6 1375.4 310.5 1372.3 306.9 1369.9 309.6 1368.1 317.3 1367.1 318.1 1360.3 319.2 1359.1 319.9 1360.3 315.2 1365.3 310.5 1366.8 303.8 1370 300 1370.7 295.1 1368.3 287.2 1366.3 293.4 1359.5 300.9 1351 309 1348.6 313.1 1344.8 315.4 1343.7 311.7 1338.6 300.6 1336.2 295.7 1331.3 290.7 1328.5 285.8 1326.1 282.6 1318.9 281.4 1313 281.2 1305.4 275.6 1299.2 275.4 1287.8 276.6 1277.4 277.8 1276.2 277.7 1261.8 283.7 1246.8 284.5 1235.9 290.7 1232.8 291.8 1224.3 300.2 1216.8 304.4 1203.8 303 1194.5 302.9 1185.4 304.1 1180 307 1177.7 309.3 1168.5 312.9 1162.1 316.7 1156.6 316.4 1149.9 316.4 1142.6 314.5 1133.7 309 1132.3 304.7 1132.3 299.2 1135.9 300.6 1138.8 296.8 1139.7 287.6 1139.9 282 1140 280.3 1138.3 275.6 1135.6 269.9 1133 264.2 1132.6 261.9 1132.1 257.9 1131.5 249.9 1128.1 244.4 1125 239.1 1123.6 232.3 1120.9 227.8 1116.7 221.1 1113.2 214.9 1117.7 217.7 1120.9 220 1124 216.6 1124 212.1 1121.9 207.7 1118.8 201 1118.4 200.8 1116.7 194.3 1115.7 193.5 1118.3 186.6 1119.5 181.6 1118.6 177 1120.9 171.3 1123.6 166.9 1125 173.5 1127.1 172.4 1128.1 166.9 1130.2 165.8 1133.4 165.2 1142.6 158.2 1149.9 154.4 1155.1 153.9 1163.4 151.2 1169.6 150.7 1177.9 147.4 1181.7 146.9 1189.3 143.1 1195.5 137.7 1200.7 133.4 1207.7 127.4 1206.2 114.7 1213.5 109 1220.2 107 1229.6 103.6 1230.3 97.6 1237 90.2 1247 83.5 1255.1 80.8 1260.5 83.5 1268.5 91.5 1277.2 92.9 1284 92.2 1281.3 86.8 1287.3 76.8 1297.4 64.7 1302 63.4 1306.9 60.5 1314.7 57.6 1322.5 58.6 1330.3 62.5 1338.1 63.4 1341.1 61.5 1347.9 59.5 1357.7 52.7 1358.6 64.4 1349.8 74.2 1347.9 82 1345 91.8 1357.7 102.5 1370.8 110.3 1382.1 114.2 1392.8 123 1401.6 113.2 1406.5 98.6 1408.4 79.1 1412.3 54.7ZM1440.2 384.2 1446.4 385.3 1452.6 388.7 1457.3 390.3 1464 388.7 1468.2 388.1 1473.9 385 1478 388 1477.5 392.1 1477.5 399 1477.5 402.7 1474.4 406.4 1473.9 413.7 1471.3 414.9 1467.6 412.5 1467.1 417.4 1462.2 420.4 1455.7 418.6 1453.1 416.2 1448.5 410 1445.3 402.7 1442.2 396.6 1440.2 389.3ZM1355.7 325.2 1360.3 323.4 1366.6 324 1371.7 325 1368.6 326.4 1363.4 328.2 1357.2 328.8 1355.7 327ZM1431.3 371.4 1433.1 371.1 1434.1 374.2 1433.5 377.2 1431.9 376.7 1431.1 374.2ZM1472.8 372.6 1474.9 372.3 1477.7 376 1477.3 378.6 1474.4 377.8 1472.9 375.4ZM1289.3 60.5 1292.2 54.7 1301 55.6 1302.3 58.6 1297.1 61.2 1291.9 61.7Z" fill="none" stroke="#111" stroke-width="0.9" stroke-linejoin="round"/><path d="M1417.7 49.9L1420.3 52.8M1420.3 52.8L1422.5 57.1M1422.5 57.1L1425.1 62.9M1425.1 62.9L1427.2 69.4M1427.2 69.4L1427.7 72M1427.7 72L1428.8 77.7M1428.8 77.7L1430.3 82.9M1430.3 82.9L1431.9 88.1M1431.9 88.1L1435 87M1435 87L1438.1 85.7M1438.1 85.7L1442.2 89.6M1442.2 89.6L1446.4 94M1446.4 94L1445.9 99.2M1445.9 99.2L1446.9 103.8M1446.9 103.8L1448.1 105.6M1448.1 105.6L1447.9 109.9M1447.9 109.9L1451.3 114.5M1451.3 114.5L1453.1 118.5M1453.1 118.5L1454 120.9M1454 120.9L1454 128.7M1454 128.7L1457.1 131.6M1457.1 131.6L1462.1 139.4M1462.1 139.4L1468.2 140.9M1468.2 140.9L1471.8 144.2M1471.8 144.2L1477 147.4M1477 147.4L1481.8 150.3M1481.8 150.3L1483.7 155M1483.7 155L1486.7 159.7M1486.7 159.7L1489.6 164M1489.6 164L1492 171.3M1492 171.3L1495.1 173.5M1495.1 173.5L1498.2 172.4M1498.2 172.4L1503.4 175.1" fill="none" stroke="#111" stroke-width="1.5" stroke-dasharray="2.2 1.1 0.8 1.6" stroke-linecap="round"/><path d="M1116.7 221.1L1113.2 214.9M1113.2 214.9L1117.7 217.7M1117.7 217.7L1120.9 220M1120.9 220L1124 216.6M1124 216.6L1124 212.1M1124 212.1L1121.9 207.7M1121.9 207.7L1118.8 201M1118.8 201L1118.4 200.8" fill="none" stroke="#111" stroke-width="1.8" stroke-dasharray="2.2 1.1 0.8 1.6" stroke-linecap="round"/><path d="M1128.1 166.9L1130.2 165.8M1130.2 165.8L1133.4 165.2M1133.4 165.2L1142.6 158.2M1142.6 158.2L1149.9 154.4M1149.9 154.4L1155.1 153.9" fill="none" stroke="#111" stroke-width="1.4" stroke-dasharray="2.2 1.1 0.8 1.6" stroke-linecap="round"/><path d="M1206.2 114.7L1213.5 109M1213.5 109L1220.2 107M1220.2 107L1229.6 103.6M1229.6 103.6L1230.3 97.6M1230.3 97.6L1237 90.2M1237 90.2L1247 83.5M1247 83.5L1255.1 80.8M1255.1 80.8L1260.5 83.5M1260.5 83.5L1268.5 91.5M1268.5 91.5L1277.2 92.9" fill="none" stroke="#111" stroke-width="2.6" stroke-dasharray="2.2 1.1 0.8 1.6" stroke-linecap="round"/><path d="M1297.4 64.7L1302 63.4M1302 63.4L1306.9 60.5M1306.9 60.5L1314.7 57.6M1314.7 57.6L1322.5 58.6M1322.5 58.6L1330.3 62.5M1330.3 62.5L1338.1 63.4M1338.1 63.4L1341.1 61.5M1341.1 61.5L1347.9 59.5M1347.9 59.5L1357.7 52.7M1357.7 52.7L1358.6 64.4M1358.6 64.4L1349.8 74.2" fill="none" stroke="#111" stroke-width="1.6" stroke-dasharray="2.2 1.1 0.8 1.6" stroke-linecap="round"/><g fill="#111"><circle cx="1414.2" cy="44.9" r="0.9"/><circle cx="1415.3" cy="43.4" r="0.9"/><circle cx="1418.4" cy="44.9" r="0.9"/><circle cx="1420.5" cy="41.8" r="0.9"/><circle cx="1424.6" cy="40.8" r="0.9"/><circle cx="1421.5" cy="46.9" r="0.9"/><circle cx="1413.2" cy="48.9" r="0.9"/><circle cx="1356.2" cy="56.1" r="0.9"/><circle cx="1359.3" cy="60.2" r="0.9"/><circle cx="1347.9" cy="61.2" r="0.9"/><circle cx="1313.7" cy="54" r="0.9"/><circle cx="1298.1" cy="57.1" r="0.9"/><circle cx="1294" cy="57.1" r="0.9"/><circle cx="1386.3" cy="111.1" r="0.9"/><circle cx="1383.1" cy="112.2" r="0.9"/><circle cx="1355.2" cy="82.9" r="0.9"/><circle cx="1357.2" cy="84.9" r="0.9"/><circle cx="1353.1" cy="86" r="0.9"/><circle cx="1111.5" cy="211" r="0.9"/><circle cx="1112.6" cy="207.7" r="0.9"/><circle cx="1112" cy="213.2" r="0.9"/></g><path d="M1277.4 93.1 1277.4 277.8M1277.4 213.2 1401.8 213.2M1370.7 110.6 1370.7 213.2M1401.8 213.2 1401.8 352.7M1401.8 247 1483.7 247 1489.9 242.5 1500.3 243.1 1505.5 245.3 1510.7 245.9 1515.8 243.1 1521 239.7 1526.2 239.1 1531.9 237.6M1401.8 304.7 1407 305.8 1413.7 306.8 1420.2 311.5 1428.2 320.4 1435 327 1440.7 329.7 1448.5 327.6 1453.6 328.4 1463 329.1 1469.2 328.2 1473.3 330.5 1476.4 337.6 1494.9 346" fill="none" stroke="#111" stroke-width="0.9"/>
<path d="M1101 33V425.4" stroke="#d8d8d8" stroke-width="1.1"/>
<path d="M1542.3 33V425.4" stroke="#888" stroke-width="1.1"/>
<path d="M1101 425.4H1542.3" stroke="#7a7a7a" stroke-width="1.1"/>
<text x="1114.5" y="71.8" font-size="36" font-weight="bold">b</text>
<text x="1115.5" y="390.7" font-size="29">FFDI</text>
<rect x="1559.5" y="327.8" width="22" height="98.9" fill="#f6b262"/>
<rect x="1559.5" y="229.2" width="22" height="98.9" fill="#de8228"/>
<rect x="1559.5" y="130.6" width="22" height="98.9" fill="#b25826"/>
<rect x="1559.5" y="32" width="22" height="98.9" fill="#7e3a18"/>
<path d="M1559.5 32V426.4H1581.5" fill="none" stroke="#2a1a10" stroke-width="1.2"/>
<path d="M1559.5 327.8h4M1581.5 327.8h-4" stroke="#333" stroke-width="1"/>
<path d="M1559.5 229.2h4M1581.5 229.2h-4" stroke="#333" stroke-width="1"/>
<path d="M1559.5 130.6h4M1581.5 130.6h-4" stroke="#333" stroke-width="1"/>
<text x="1592" y="428.2" font-size="25">2</text>
<text x="1592" y="334.6" font-size="25">3</text>
<text x="1592" y="236" font-size="25">4</text>
<text x="1592" y="137.4" font-size="25">5</text>
<text x="1592" y="49.2" font-size="25">6</text>
<text transform="translate(1637.5,231.2) rotate(-90)" text-anchor="middle" font-size="24.2">Standard deviations above mean</text>
<clipPath id="land1"><path d="M1417.7 463.6 1420.3 466.5 1422.5 470.8 1425.1 476.6 1427.2 483.1 1427.7 485.7 1428.8 491.4 1430.3 496.6 1431.9 501.8 1435 500.7 1438.1 499.4 1442.2 503.3 1446.4 507.7 1445.9 512.9 1446.9 517.5 1448.1 519.3 1447.9 523.6 1451.3 528.2 1453.1 532.2 1454 534.6 1454 542.4 1457.1 545.3 1462.1 553.1 1468.2 554.6 1471.8 557.9 1477 561.1 1481.8 564 1483.7 568.7 1486.7 573.4 1489.6 577.7 1492 585 1495.1 587.2 1498.2 586.1 1503.4 588.8 1502.9 595.2 1504.4 599.2 1508.2 603.1 1513.2 605 1516.9 611.4 1519.5 614.4 1524.7 618.9 1526.2 614.7 1528.3 612.5 1528.5 615.8 1527.8 620.3 1528.2 626.2 1527.2 631.3 1527.6 635.9 1530.9 638.7 1531.9 643.2 1530.7 649.4 1531.9 651.3 1532.8 656.7 1532.2 659.3 1529.9 665.6 1528.3 671 1527.7 675.6 1527 682.7 1525.4 688.5 1523.6 693.3 1521.5 700.2 1517.9 703.5 1513.6 705.9 1511.4 710 1508.4 716.6 1507.5 718.4 1504.4 723.3 1504 726.2 1502.9 731.3 1500.1 734.3 1497.2 738.6 1496.7 740.7 1496.5 744.5 1495.9 746.8 1494.3 754.6 1494.9 759.7 1494.3 760.5 1487.5 763.2 1480.1 763.2 1474.2 764.2 1469.2 766.8 1464 771 1458.8 774 1457.8 779.2 1455.7 775.2 1452.8 776.4 1449.5 773.7 1446.4 771.6 1443.5 771.4 1439.6 769.3 1442.2 766.8 1443.3 764.2 1439.1 765.6 1437.1 767.1 1439.1 769.1 1436.2 769.7 1432.7 772.1 1427.9 775.9 1424.6 774.6 1422.3 773.1 1417.1 770.4 1414.7 770.3 1408 769.8 1407.5 770.8 1406 770.2 1403.9 768 1401.5 766.4 1398.7 766.2 1394.5 763.2 1391.5 759.4 1388.8 755.6 1389.9 751.7 1386.3 745.4 1383.1 740.7 1379.8 736.7 1377.1 736.7 1371.7 737.1 1373.8 735.4 1375.9 729.3 1375.4 724.2 1372.3 720.6 1369.9 723.3 1368.1 731 1367.1 731.8 1360.3 732.9 1359.1 733.6 1360.3 728.9 1365.3 724.2 1366.8 717.5 1370 713.7 1370.7 708.8 1368.3 700.9 1366.3 707.1 1359.5 714.6 1351 722.7 1348.6 726.8 1344.8 729.1 1343.7 725.4 1338.6 714.3 1336.2 709.4 1331.3 704.4 1328.5 699.5 1326.1 696.3 1318.9 695.1 1313 694.9 1305.4 689.3 1299.2 689.1 1287.8 690.3 1277.4 691.5 1276.2 691.4 1261.8 697.4 1246.8 698.2 1235.9 704.4 1232.8 705.5 1224.3 713.9 1216.8 718.1 1203.8 716.7 1194.5 716.6 1185.4 717.8 1180 720.7 1177.7 723 1168.5 726.6 1162.1 730.4 1156.6 730.1 1149.9 730.1 1142.6 728.2 1133.7 722.7 1132.3 718.4 1132.3 712.9 1135.9 714.3 1138.8 710.5 1139.7 701.3 1139.9 695.7 1140 694 1138.3 689.3 1135.6 683.6 1133 677.9 1132.6 675.6 1132.1 671.6 1131.5 663.6 1128.1 658.1 1125 652.8 1123.6 646 1120.9 641.5 1116.7 634.8 1113.2 628.6 1117.7 631.4 1120.9 633.7 1124 630.3 1124 625.8 1121.9 621.4 1118.8 614.7 1118.4 614.5 1116.7 608 1115.7 607.2 1118.3 600.3 1119.5 595.3 1118.6 590.7 1120.9 585 1123.6 580.6 1125 587.2 1127.1 586.1 1128.1 580.6 1130.2 579.5 1133.4 578.9 1142.6 571.9 1149.9 568.1 1155.1 567.6 1163.4 564.9 1169.6 564.4 1177.9 561.1 1181.7 560.6 1189.3 556.8 1195.5 551.4 1200.7 547.1 1207.7 541.1 1206.2 528.4 1213.5 522.7 1220.2 520.7 1229.6 517.3 1230.3 511.3 1237 503.9 1247 497.2 1255.1 494.5 1260.5 497.2 1268.5 505.2 1277.2 506.6 1284 505.9 1281.3 500.5 1287.3 490.5 1297.4 478.4 1302 477.1 1306.9 474.2 1314.7 471.3 1322.5 472.3 1330.3 476.2 1338.1 477.1 1341.1 475.2 1347.9 473.2 1357.7 466.4 1358.6 478.1 1349.8 487.9 1347.9 495.7 1345 505.5 1357.7 516.2 1370.8 524 1382.1 527.9 1392.8 536.7 1401.6 526.9 1406.5 512.3 1408.4 492.8 1412.3 468.4ZM1440.2 797.9 1446.4 799 1452.6 802.4 1457.3 804 1464 802.4 1468.2 801.8 1473.9 798.7 1478 801.7 1477.5 805.8 1477.5 812.7 1477.5 816.4 1474.4 820.1 1473.9 827.4 1471.3 828.6 1467.6 826.2 1467.1 831.1 1462.2 834.1 1455.7 832.3 1453.1 829.9 1448.5 823.7 1445.3 816.4 1442.2 810.3 1440.2 803ZM1355.7 738.9 1360.3 737.1 1366.6 737.7 1371.7 738.7 1368.6 740.1 1363.4 741.9 1357.2 742.5 1355.7 740.7ZM1431.3 785.1 1433.1 784.8 1434.1 787.9 1433.5 790.9 1431.9 790.4 1431.1 787.9ZM1472.8 786.3 1474.9 786 1477.7 789.7 1477.3 792.3 1474.4 791.5 1472.9 789.1ZM1289.3 474.2 1292.2 468.4 1301 469.3 1302.3 472.3 1297.1 474.9 1291.9 475.4Z"/></clipPath><path d="M1417.7 463.6 1420.3 466.5 1422.5 470.8 1425.1 476.6 1427.2 483.1 1427.7 485.7 1428.8 491.4 1430.3 496.6 1431.9 501.8 1435 500.7 1438.1 499.4 1442.2 503.3 1446.4 507.7 1445.9 512.9 1446.9 517.5 1448.1 519.3 1447.9 523.6 1451.3 528.2 1453.1 532.2 1454 534.6 1454 542.4 1457.1 545.3 1462.1 553.1 1468.2 554.6 1471.8 557.9 1477 561.1 1481.8 564 1483.7 568.7 1486.7 573.4 1489.6 577.7 1492 585 1495.1 587.2 1498.2 586.1 1503.4 588.8 1502.9 595.2 1504.4 599.2 1508.2 603.1 1513.2 605 1516.9 611.4 1519.5 614.4 1524.7 618.9 1526.2 614.7 1528.3 612.5 1528.5 615.8 1527.8 620.3 1528.2 626.2 1527.2 631.3 1527.6 635.9 1530.9 638.7 1531.9 643.2 1530.7 649.4 1531.9 651.3 1532.8 656.7 1532.2 659.3 1529.9 665.6 1528.3 671 1527.7 675.6 1527 682.7 1525.4 688.5 1523.6 693.3 1521.5 700.2 1517.9 703.5 1513.6 705.9 1511.4 710 1508.4 716.6 1507.5 718.4 1504.4 723.3 1504 726.2 1502.9 731.3 1500.1 734.3 1497.2 738.6 1496.7 740.7 1496.5 744.5 1495.9 746.8 1494.3 754.6 1494.9 759.7 1494.3 760.5 1487.5 763.2 1480.1 763.2 1474.2 764.2 1469.2 766.8 1464 771 1458.8 774 1457.8 779.2 1455.7 775.2 1452.8 776.4 1449.5 773.7 1446.4 771.6 1443.5 771.4 1439.6 769.3 1442.2 766.8 1443.3 764.2 1439.1 765.6 1437.1 767.1 1439.1 769.1 1436.2 769.7 1432.7 772.1 1427.9 775.9 1424.6 774.6 1422.3 773.1 1417.1 770.4 1414.7 770.3 1408 769.8 1407.5 770.8 1406 770.2 1403.9 768 1401.5 766.4 1398.7 766.2 1394.5 763.2 1391.5 759.4 1388.8 755.6 1389.9 751.7 1386.3 745.4 1383.1 740.7 1379.8 736.7 1377.1 736.7 1371.7 737.1 1373.8 735.4 1375.9 729.3 1375.4 724.2 1372.3 720.6 1369.9 723.3 1368.1 731 1367.1 731.8 1360.3 732.9 1359.1 733.6 1360.3 728.9 1365.3 724.2 1366.8 717.5 1370 713.7 1370.7 708.8 1368.3 700.9 1366.3 707.1 1359.5 714.6 1351 722.7 1348.6 726.8 1344.8 729.1 1343.7 725.4 1338.6 714.3 1336.2 709.4 1331.3 704.4 1328.5 699.5 1326.1 696.3 1318.9 695.1 1313 694.9 1305.4 689.3 1299.2 689.1 1287.8 690.3 1277.4 691.5 1276.2 691.4 1261.8 697.4 1246.8 698.2 1235.9 704.4 1232.8 705.5 1224.3 713.9 1216.8 718.1 1203.8 716.7 1194.5 716.6 1185.4 717.8 1180 720.7 1177.7 723 1168.5 726.6 1162.1 730.4 1156.6 730.1 1149.9 730.1 1142.6 728.2 1133.7 722.7 1132.3 718.4 1132.3 712.9 1135.9 714.3 1138.8 710.5 1139.7 701.3 1139.9 695.7 1140 694 1138.3 689.3 1135.6 683.6 1133 677.9 1132.6 675.6 1132.1 671.6 1131.5 663.6 1128.1 658.1 1125 652.8 1123.6 646 1120.9 641.5 1116.7 634.8 1113.2 628.6 1117.7 631.4 1120.9 633.7 1124 630.3 1124 625.8 1121.9 621.4 1118.8 614.7 1118.4 614.5 1116.7 608 1115.7 607.2 1118.3 600.3 1119.5 595.3 1118.6 590.7 1120.9 585 1123.6 580.6 1125 587.2 1127.1 586.1 1128.1 580.6 1130.2 579.5 1133.4 578.9 1142.6 571.9 1149.9 568.1 1155.1 567.6 1163.4 564.9 1169.6 564.4 1177.9 561.1 1181.7 560.6 1189.3 556.8 1195.5 551.4 1200.7 547.1 1207.7 541.1 1206.2 528.4 1213.5 522.7 1220.2 520.7 1229.6 517.3 1230.3 511.3 1237 503.9 1247 497.2 1255.1 494.5 1260.5 497.2 1268.5 505.2 1277.2 506.6 1284 505.9 1281.3 500.5 1287.3 490.5 1297.4 478.4 1302 477.1 1306.9 474.2 1314.7 471.3 1322.5 472.3 1330.3 476.2 1338.1 477.1 1341.1 475.2 1347.9 473.2 1357.7 466.4 1358.6 478.1 1349.8 487.9 1347.9 495.7 1345 505.5 1357.7 516.2 1370.8 524 1382.1 527.9 1392.8 536.7 1401.6 526.9 1406.5 512.3 1408.4 492.8 1412.3 468.4ZM1440.2 797.9 1446.4 799 1452.6 802.4 1457.3 804 1464 802.4 1468.2 801.8 1473.9 798.7 1478 801.7 1477.5 805.8 1477.5 812.7 1477.5 816.4 1474.4 820.1 1473.9 827.4 1471.3 828.6 1467.6 826.2 1467.1 831.1 1462.2 834.1 1455.7 832.3 1453.1 829.9 1448.5 823.7 1445.3 816.4 1442.2 810.3 1440.2 803ZM1355.7 738.9 1360.3 737.1 1366.6 737.7 1371.7 738.7 1368.6 740.1 1363.4 741.9 1357.2 742.5 1355.7 740.7ZM1431.3 785.1 1433.1 784.8 1434.1 787.9 1433.5 790.9 1431.9 790.4 1431.1 787.9ZM1472.8 786.3 1474.9 786 1477.7 789.7 1477.3 792.3 1474.4 791.5 1472.9 789.1ZM1289.3 474.2 1292.2 468.4 1301 469.3 1302.3 472.3 1297.1 474.9 1291.9 475.4Z" fill="#ffffff"/><g clip-path="url(#land1)"><path d="M1241 509.5C1243.1 506.7 1250.3 506.4 1253.4 507.7C1256.5 508.9 1259 513.8 1258.7 516.6C1258.4 519.4 1253.8 521.2 1251.6 523.7C1249.4 526.2 1248.2 530.8 1246.3 530.8C1244.4 530.8 1241.9 527.4 1241 523.7C1240 519.9 1238.8 512.3 1241 509.5Z" fill="#f6b262"/><path d="M1242.7 509.5C1244 508.5 1250.1 510 1251.6 511.2C1253.2 512.5 1252.9 515.6 1251.6 516.6C1250.4 517.5 1246.1 517.8 1244.5 516.6C1243 515.3 1241.5 510.4 1242.7 509.5Z" fill="#de8228"/><path d="M1290.7 505.9C1292.2 503.4 1298.5 499.2 1303.1 497C1307.8 494.9 1314.5 492.5 1317.3 493.5C1320.1 494.4 1321 499.6 1319.1 502.4C1317.2 505.2 1311 507.9 1306.7 509.5C1302.3 511 1297 511.9 1294.2 511.2C1291.4 510.6 1289.1 508.4 1290.7 505.9Z" fill="#f6b262"/><path d="M1287.1 527.2C1289 525.4 1295.5 523.7 1299.6 523.7C1303.6 523.7 1306.2 528.5 1310.2 527.2C1314.3 526 1318.9 517.8 1322.7 516.6C1326.4 515.3 1328.7 516.4 1331.5 520.1C1334.3 523.8 1336.8 533.5 1338.6 537.9C1340.5 542.2 1343.4 543.1 1342.2 545C1341 546.8 1335.9 547.3 1331.5 548.5C1327.2 549.8 1320.4 550.8 1317.3 552.1C1314.2 553.3 1315.6 556.9 1313.8 555.6C1311.9 554.4 1309.8 547.5 1306.7 545C1303.6 542.5 1299.1 543.3 1296 541.4C1292.9 539.6 1290.5 536.8 1288.9 534.3C1287.4 531.8 1285.3 529.1 1287.1 527.2Z" fill="#f6b262"/><path d="M1134.4 672.9C1136 671.3 1140.2 669.2 1143.3 671.1C1146.4 672.9 1149.1 679.5 1152.2 683.5C1155.3 687.6 1156.4 691.1 1161 694.2C1165.7 697.3 1172.6 699.4 1178.8 701.3C1185 703.1 1191.6 704.5 1196.6 704.8C1201.5 705.1 1202.2 703.1 1207.2 703.1C1212.2 703.1 1221.6 703 1225 704.8C1228.4 706.7 1229.2 711.8 1226.8 713.7C1224.3 715.6 1216.1 715.8 1210.8 715.5C1205.5 715.2 1202.2 711.9 1196.6 711.9C1191 711.9 1183.2 713.9 1178.8 715.5C1174.5 717 1174.8 720.2 1171.7 720.8C1168.6 721.4 1164.8 720 1161 719C1157.3 718.1 1154.1 716.1 1150.4 715.5C1146.7 714.9 1142.2 718 1139.7 715.5C1137.2 713 1136.2 705.6 1136.2 701.3C1136.2 696.9 1140 694.3 1139.7 690.6C1139.4 686.9 1135.3 683.1 1134.4 680C1133.5 676.9 1132.8 674.4 1134.4 672.9Z" fill="#f6b262"/><path d="M1463 811.4C1465.5 809.5 1470.8 806 1473.6 807.8C1476.4 809.7 1479.3 817.7 1479 822C1478.6 826.4 1474.7 831.1 1471.9 832.7C1469.1 834.3 1465.1 833.4 1463 830.9C1460.8 828.4 1459.4 821.9 1459.4 818.5C1459.4 815.1 1460.5 813.3 1463 811.4Z" fill="#f6b262"/><path d="M1468.3 814.9C1469.2 812.5 1473.9 813.1 1475.4 814.9C1477 816.8 1478.1 823.1 1477.2 825.6C1476.2 828.1 1471.6 831 1470.1 829.2C1468.5 827.3 1467.4 817.4 1468.3 814.9Z" fill="#de8228"/><path d="M1460.3 653.3C1461.8 649.2 1465.1 649.5 1467.3 646.3C1469.6 643.1 1471.7 638.3 1473 635.1C1474.2 631.9 1472.6 631 1474.4 628.1C1476.1 625.1 1479.1 621.2 1482.8 618.2C1486.5 615.3 1492 613.4 1495.4 611.2C1498.8 609 1500 606.8 1502.4 605.6C1504.9 604.4 1506.5 603.2 1509.4 604.2C1512.4 605.2 1516.1 608.3 1519.3 611.2C1522.5 614.2 1525.7 615.6 1527.7 621C1529.7 626.5 1529.8 636 1530.5 642.1C1531.2 648.2 1532.1 651.2 1531.9 656.1C1531.7 661 1530.1 665.3 1529.1 670.2C1528.1 675.1 1527.5 679.3 1526.3 684.2C1525.1 689.1 1524.3 694.5 1522.1 698.2C1519.9 701.9 1516.6 703.8 1513.7 705.2C1510.7 706.7 1507.7 705.4 1505.2 706.7C1502.8 707.9 1501.8 709.3 1499.6 712.3C1497.4 715.2 1495.1 722.3 1492.6 723.5C1490.1 724.7 1488.3 718.8 1485.6 719.3C1482.9 719.8 1479.6 723.6 1477.2 726.3C1474.7 729 1473.5 732.3 1471.6 734.7C1469.6 737.2 1468.9 739.1 1465.9 740.3C1463 741.6 1458.2 741.7 1454.7 741.7C1451.3 741.7 1448.3 741.6 1446.3 740.3C1444.3 739.1 1443.2 737.2 1443.5 734.7C1443.7 732.3 1446.2 729.7 1447.7 726.3C1449.2 722.9 1450.7 718.5 1451.9 715.1C1453.1 711.6 1453.5 709.6 1454.7 706.7C1455.9 703.7 1458.4 702.2 1458.9 698.2C1459.4 694.3 1457.5 689.1 1457.5 684.2C1457.5 679.3 1458.4 675.6 1458.9 670.2C1459.4 664.8 1458.9 657.5 1460.3 653.3Z" fill="#f6b262"/><path d="M1401.4 709.5C1404.8 708.2 1409.7 707.6 1412.6 708.1C1415.6 708.5 1416.3 710.1 1418.2 712.3C1420.2 714.5 1421.4 718.7 1423.8 720.7C1426.3 722.6 1429.3 723 1432.3 723.5C1435.2 724 1438 724 1440.7 723.5C1443.4 723 1445.7 722.2 1447.7 720.7C1449.7 719.2 1450.2 715.1 1451.9 715.1C1453.6 715.1 1456 717.7 1457.5 720.7C1459 723.6 1459.8 728.5 1460.3 731.9C1460.8 735.3 1461.3 738.6 1460.3 740.3C1459.3 742 1457.2 741.5 1454.7 741.7C1452.3 742 1448.8 741 1446.3 741.7C1443.8 742.5 1442.4 745.5 1440.7 745.9C1439 746.4 1437.9 746.3 1436.5 744.5C1435 742.8 1434 738.8 1432.3 736.1C1430.5 733.4 1429.1 729.6 1426.7 729.1C1424.2 728.6 1421.2 731.6 1418.2 733.3C1415.3 735 1413.2 737.7 1409.8 738.9C1406.4 740.2 1402 740.8 1398.6 740.3C1395.1 739.8 1392.1 738.6 1390.2 736.1C1388.2 733.7 1386.9 730 1387.4 726.3C1387.8 722.6 1390.5 718 1393 715.1C1395.4 712.1 1398 710.7 1401.4 709.5Z" fill="#f6b262"/><path d="M1432.3 757.2C1433.5 755.7 1436.8 754.4 1439.3 753C1441.7 751.5 1443.6 749.2 1446.3 748.7C1449 748.3 1451.3 749.2 1454.7 750.2C1458.2 751.1 1462.5 752.6 1465.9 754.4C1469.4 756.1 1472.2 758 1474.4 760C1476.6 761.9 1479.6 763.6 1478.6 765.6C1477.6 767.6 1471.9 769.2 1468.7 771.2C1465.6 773.2 1462.8 776.1 1460.3 776.8C1457.9 777.6 1457.2 776.4 1454.7 775.4C1452.3 774.4 1449 772.9 1446.3 771.2C1443.6 769.5 1441.7 767.3 1439.3 765.6C1436.8 763.9 1433.5 762.9 1432.3 761.4C1431 759.9 1431 758.6 1432.3 757.2Z" fill="#f6b262"/><path d="M1342.5 701C1344 699.6 1347.9 698.7 1350.9 699.6C1353.8 700.6 1356.8 706.4 1359.3 706.7C1361.7 706.9 1363.4 702.8 1364.9 701C1366.4 699.3 1366.7 697.3 1367.7 696.8C1368.7 696.3 1369.5 699.9 1370.5 698.2C1371.5 696.5 1371.9 690.4 1373.3 687C1374.8 683.6 1376.7 681 1378.9 678.6C1381.1 676.1 1385 672 1386 673C1386.9 674 1385 680.3 1384.6 684.2C1384.1 688.1 1382.2 693 1383.1 695.4C1384.1 697.9 1388.7 696.8 1390.2 698.2C1391.6 699.7 1392.3 701.9 1391.6 703.8C1390.8 705.8 1387.2 707.5 1386 709.5C1384.7 711.4 1384.1 712.9 1384.6 715.1C1385 717.3 1388.3 719.1 1388.8 722.1C1389.3 725 1388.6 729.7 1387.4 731.9C1386.1 734.1 1383.7 734.7 1381.7 734.7C1379.8 734.7 1377.6 733.9 1376.1 731.9C1374.7 729.9 1374.6 725 1373.3 723.5C1372.1 722 1370.6 724.7 1369.1 723.5C1367.6 722.3 1366.4 718.4 1364.9 716.5C1363.4 714.5 1362.9 712.8 1360.7 712.3C1358.5 711.8 1355 713.7 1352.3 713.7C1349.6 713.7 1347.1 713.2 1345.3 712.3C1343.4 711.3 1342.2 710 1341.8 708.1C1341.3 706.1 1340.9 702.5 1342.5 701Z" fill="#f6b262"/><path d="M1320 689.8C1320 689.8 1324.3 687.9 1325.6 688.4C1327 688.9 1328 691.1 1327.7 692.6C1327.5 694.1 1325.6 696.1 1324.2 696.8C1322.9 697.6 1320 696.8 1320 696.8L1320 689.8Z" fill="#f6b262"/><path d="M1404.2 687C1404.8 685.3 1406.3 685.1 1407 685.6C1407.7 686.1 1408.7 687.8 1408.4 689.8C1408.2 691.8 1406.5 695.8 1405.6 696.8C1404.7 697.8 1403.7 697.1 1403.5 695.4C1403.3 693.7 1403.6 688.7 1404.2 687Z" fill="#f6b262"/><path d="M1391.6 723.5C1392.4 722.5 1396.1 722.8 1397.2 723.5C1398.3 724.2 1398.7 726.7 1397.9 727.7C1397 728.7 1393.4 729.8 1392.3 729.1C1391.2 728.4 1390.7 724.5 1391.6 723.5Z" fill="#ffffff"/><path d="M1489.8 633.7C1490.5 632.5 1495.3 631.8 1496.8 632.3C1498.3 632.8 1499 635.3 1498.2 636.5C1497.5 637.7 1494.1 639.8 1492.6 639.3C1491.1 638.8 1489.1 634.9 1489.8 633.7Z" fill="#ffffff"/><path d="M1505.2 609.8C1506.2 608.3 1510.8 608.6 1512.3 609.8C1513.7 611.1 1514.6 615.4 1513.7 616.8C1512.7 618.3 1508.1 619.5 1506.6 618.2C1505.2 617 1504.3 611.3 1505.2 609.8Z" fill="#ffffff"/><path d="M1516.5 622.5C1517 620.5 1521.3 621.4 1523.5 623.9C1525.7 626.3 1529.6 634.5 1529.1 636.5C1528.6 638.5 1522.9 637.5 1520.7 635.1C1518.5 632.6 1516 624.4 1516.5 622.5Z" fill="#ffffff"/><path d="M1526.3 660.3C1527.3 657.4 1530.9 655.7 1531.9 658.9C1532.9 662.1 1532.9 675.6 1531.9 678.6C1530.9 681.5 1527.3 679 1526.3 675.8C1525.3 672.6 1525.3 663.3 1526.3 660.3Z" fill="#ffffff"/><path d="M1491.2 653.3C1492.4 650.6 1494.1 648.3 1496.8 646.3C1499.5 644.3 1503.2 642.8 1506.6 642.1C1510.1 641.4 1513.5 641.4 1516.5 642.1C1519.4 642.8 1521.5 643.9 1523.5 646.3C1525.4 648.8 1527.2 652.4 1527.7 656.1C1528.2 659.8 1527 663.4 1526.3 667.4C1525.5 671.3 1524.7 674.4 1523.5 678.6C1522.2 682.8 1521 688 1519.3 691.2C1517.5 694.4 1516.1 696.1 1513.7 696.8C1511.2 697.6 1507.4 697.1 1505.2 695.4C1503 693.7 1503 690 1501 687C1499.1 684.1 1495.7 681.5 1494 678.6C1492.3 675.6 1491.9 673.1 1491.2 670.2C1490.5 667.2 1489.8 664.7 1489.8 661.7C1489.8 658.8 1490 656 1491.2 653.3Z" fill="#de8228"/><path d="M1502.4 653.3C1504.1 651.1 1506.7 648.7 1509.4 647.7C1512.1 646.7 1515.4 646.7 1517.9 647.7C1520.3 648.7 1522.5 650.6 1523.5 653.3C1524.5 656 1524 658.7 1523.5 663.1C1523 667.6 1521.9 673.9 1520.7 678.6C1519.4 683.3 1517.9 686.9 1516.5 689.8C1515 692.8 1513.7 694.9 1512.3 695.4C1510.8 695.9 1509.3 695.1 1508 692.6C1506.8 690.2 1506.5 685.3 1505.2 681.4C1504 677.5 1502 673.8 1501 670.2C1500 666.5 1499.4 663.3 1499.6 660.3C1499.9 657.4 1500.7 655.5 1502.4 653.3Z" fill="#b25826"/><path d="M1509.4 653.3C1510.9 651.6 1514.5 649.1 1516.5 649.1C1518.4 649.1 1520.2 650.4 1520.7 653.3C1521.2 656.3 1519.8 661.5 1519.3 666C1518.8 670.4 1518.6 674.4 1517.9 678.6C1517.1 682.8 1516 687.6 1515.1 689.8C1514.1 692 1513 692.9 1512.3 691.2C1511.5 689.5 1511.6 684.2 1510.8 680C1510.1 675.8 1508.5 671 1508 667.4C1507.6 663.7 1507.8 661.4 1508 658.9C1508.3 656.5 1508 655 1509.4 653.3Z" fill="#7e3a18"/><path d="M1478.6 691.2C1479.3 689.7 1482.5 689.1 1484.2 689.8C1485.9 690.5 1488.1 693.5 1488.4 695.4C1488.6 697.4 1487.1 700.5 1485.6 701C1484.1 701.5 1481.2 699.9 1480 698.2C1478.7 696.5 1477.8 692.7 1478.6 691.2Z" fill="#de8228"/><path d="M1475.8 705.2C1476.4 704.4 1479.2 703.8 1480 704.5C1480.7 705.3 1480.6 708.6 1480 709.5C1479.4 710.3 1477.2 710.2 1476.5 709.5C1475.7 708.7 1475.2 706.1 1475.8 705.2Z" fill="#de8228"/><path d="M1460.3 715.1C1460.8 713.6 1463.3 713.8 1464.5 715.1C1465.8 716.3 1467.1 719.6 1467.3 722.1C1467.6 724.5 1466.9 728.9 1465.9 729.1C1465 729.3 1462.7 725.9 1461.7 723.5C1460.8 721 1459.8 716.5 1460.3 715.1Z" fill="#de8228"/><path d="M1496.8 719.3C1497.6 717.8 1501.4 717.1 1502.4 717.9C1503.4 718.6 1503.2 722 1502.4 723.5C1501.7 725 1499.2 727 1498.2 726.3C1497.2 725.6 1496.1 720.8 1496.8 719.3Z" fill="#de8228"/><path d="M1376.1 716.5C1376.9 715 1380.5 713.4 1381.7 715.1C1383 716.8 1383.1 723.1 1383.1 726.3C1383.1 729.5 1382.5 732.3 1381.7 733.3C1381 734.3 1379.7 733.6 1378.9 731.9C1378.2 730.2 1378 726.2 1377.5 723.5C1377 720.8 1375.4 717.9 1376.1 716.5Z" fill="#de8228"/><path d="M1353.7 709.5C1354.4 709 1357.2 709 1357.9 709.5C1358.6 709.9 1358.6 711.8 1357.9 712.3C1357.2 712.8 1354.4 712.8 1353.7 712.3C1352.9 711.8 1352.9 709.9 1353.7 709.5Z" fill="#de8228"/><path d="M1366.3 722.1C1366.8 721.1 1368.6 721.1 1369.1 722.1C1369.6 723.1 1369.6 726.7 1369.1 727.7C1368.6 728.7 1366.8 728.7 1366.3 727.7C1365.8 726.7 1365.8 723.1 1366.3 722.1Z" fill="#de8228"/><path d="M1439.3 743.1C1440.5 741.9 1444.6 741 1446.3 741.7C1448 742.5 1449.6 745.6 1449.1 747.3C1448.6 749.1 1445.2 751.3 1443.5 751.6C1441.8 751.8 1440 750.2 1439.3 748.7C1438.5 747.3 1438.1 744.4 1439.3 743.1Z" fill="#de8228"/><path d="M1443.5 754.4C1445.2 752.9 1449.6 752.7 1453.3 753C1457 753.2 1461.8 754 1464.5 755.8C1467.2 757.5 1468.7 760.1 1468.7 762.8C1468.7 765.5 1466.5 769.2 1464.5 771.2C1462.6 773.2 1460.2 774.5 1457.5 774C1454.8 773.5 1451.6 770.6 1449.1 768.4C1446.6 766.2 1444.5 763.8 1443.5 761.4C1442.5 758.9 1441.8 755.8 1443.5 754.4Z" fill="#de8228"/><path d="M1454.7 758.6C1456.2 757.3 1460.9 757.6 1463.1 758.6C1465.3 759.6 1467.1 762.2 1467.3 764.2C1467.6 766.2 1466 768.3 1464.5 769.8C1463.1 771.3 1460.6 773.3 1458.9 772.6C1457.2 771.9 1455.5 768 1454.7 765.6C1454 763.1 1453.2 759.8 1454.7 758.6Z" fill="#b25826"/><path d="M1458.9 761.4C1459.7 760.4 1463.6 760.6 1464.5 761.4C1465.5 762.1 1465.3 764.6 1464.5 765.6C1463.8 766.6 1461.3 767.7 1460.3 767C1459.3 766.3 1458.2 762.4 1458.9 761.4Z" fill="#7e3a18"/><path d="M1431.3 785.1 1433.1 784.8 1434.1 787.9 1433.5 790.9 1431.9 790.4 1431.1 787.9Z" fill="#fff"/><path d="M1472.8 786.3 1474.9 786 1477.7 789.7 1477.3 792.3 1474.4 791.5 1472.9 789.1Z" fill="#fff"/></g><path d="M1417.7 463.6 1420.3 466.5 1422.5 470.8 1425.1 476.6 1427.2 483.1 1427.7 485.7 1428.8 491.4 1430.3 496.6 1431.9 501.8 1435 500.7 1438.1 499.4 1442.2 503.3 1446.4 507.7 1445.9 512.9 1446.9 517.5 1448.1 519.3 1447.9 523.6 1451.3 528.2 1453.1 532.2 1454 534.6 1454 542.4 1457.1 545.3 1462.1 553.1 1468.2 554.6 1471.8 557.9 1477 561.1 1481.8 564 1483.7 568.7 1486.7 573.4 1489.6 577.7 1492 585 1495.1 587.2 1498.2 586.1 1503.4 588.8 1502.9 595.2 1504.4 599.2 1508.2 603.1 1513.2 605 1516.9 611.4 1519.5 614.4 1524.7 618.9 1526.2 614.7 1528.3 612.5 1528.5 615.8 1527.8 620.3 1528.2 626.2 1527.2 631.3 1527.6 635.9 1530.9 638.7 1531.9 643.2 1530.7 649.4 1531.9 651.3 1532.8 656.7 1532.2 659.3 1529.9 665.6 1528.3 671 1527.7 675.6 1527 682.7 1525.4 688.5 1523.6 693.3 1521.5 700.2 1517.9 703.5 1513.6 705.9 1511.4 710 1508.4 716.6 1507.5 718.4 1504.4 723.3 1504 726.2 1502.9 731.3 1500.1 734.3 1497.2 738.6 1496.7 740.7 1496.5 744.5 1495.9 746.8 1494.3 754.6 1494.9 759.7 1494.3 760.5 1487.5 763.2 1480.1 763.2 1474.2 764.2 1469.2 766.8 1464 771 1458.8 774 1457.8 779.2 1455.7 775.2 1452.8 776.4 1449.5 773.7 1446.4 771.6 1443.5 771.4 1439.6 769.3 1442.2 766.8 1443.3 764.2 1439.1 765.6 1437.1 767.1 1439.1 769.1 1436.2 769.7 1432.7 772.1 1427.9 775.9 1424.6 774.6 1422.3 773.1 1417.1 770.4 1414.7 770.3 1408 769.8 1407.5 770.8 1406 770.2 1403.9 768 1401.5 766.4 1398.7 766.2 1394.5 763.2 1391.5 759.4 1388.8 755.6 1389.9 751.7 1386.3 745.4 1383.1 740.7 1379.8 736.7 1377.1 736.7 1371.7 737.1 1373.8 735.4 1375.9 729.3 1375.4 724.2 1372.3 720.6 1369.9 723.3 1368.1 731 1367.1 731.8 1360.3 732.9 1359.1 733.6 1360.3 728.9 1365.3 724.2 1366.8 717.5 1370 713.7 1370.7 708.8 1368.3 700.9 1366.3 707.1 1359.5 714.6 1351 722.7 1348.6 726.8 1344.8 729.1 1343.7 725.4 1338.6 714.3 1336.2 709.4 1331.3 704.4 1328.5 699.5 1326.1 696.3 1318.9 695.1 1313 694.9 1305.4 689.3 1299.2 689.1 1287.8 690.3 1277.4 691.5 1276.2 691.4 1261.8 697.4 1246.8 698.2 1235.9 704.4 1232.8 705.5 1224.3 713.9 1216.8 718.1 1203.8 716.7 1194.5 716.6 1185.4 717.8 1180 720.7 1177.7 723 1168.5 726.6 1162.1 730.4 1156.6 730.1 1149.9 730.1 1142.6 728.2 1133.7 722.7 1132.3 718.4 1132.3 712.9 1135.9 714.3 1138.8 710.5 1139.7 701.3 1139.9 695.7 1140 694 1138.3 689.3 1135.6 683.6 1133 677.9 1132.6 675.6 1132.1 671.6 1131.5 663.6 1128.1 658.1 1125 652.8 1123.6 646 1120.9 641.5 1116.7 634.8 1113.2 628.6 1117.7 631.4 1120.9 633.7 1124 630.3 1124 625.8 1121.9 621.4 1118.8 614.7 1118.4 614.5 1116.7 608 1115.7 607.2 1118.3 600.3 1119.5 595.3 1118.6 590.7 1120.9 585 1123.6 580.6 1125 587.2 1127.1 586.1 1128.1 580.6 1130.2 579.5 1133.4 578.9 1142.6 571.9 1149.9 568.1 1155.1 567.6 1163.4 564.9 1169.6 564.4 1177.9 561.1 1181.7 560.6 1189.3 556.8 1195.5 551.4 1200.7 547.1 1207.7 541.1 1206.2 528.4 1213.5 522.7 1220.2 520.7 1229.6 517.3 1230.3 511.3 1237 503.9 1247 497.2 1255.1 494.5 1260.5 497.2 1268.5 505.2 1277.2 506.6 1284 505.9 1281.3 500.5 1287.3 490.5 1297.4 478.4 1302 477.1 1306.9 474.2 1314.7 471.3 1322.5 472.3 1330.3 476.2 1338.1 477.1 1341.1 475.2 1347.9 473.2 1357.7 466.4 1358.6 478.1 1349.8 487.9 1347.9 495.7 1345 505.5 1357.7 516.2 1370.8 524 1382.1 527.9 1392.8 536.7 1401.6 526.9 1406.5 512.3 1408.4 492.8 1412.3 468.4ZM1440.2 797.9 1446.4 799 1452.6 802.4 1457.3 804 1464 802.4 1468.2 801.8 1473.9 798.7 1478 801.7 1477.5 805.8 1477.5 812.7 1477.5 816.4 1474.4 820.1 1473.9 827.4 1471.3 828.6 1467.6 826.2 1467.1 831.1 1462.2 834.1 1455.7 832.3 1453.1 829.9 1448.5 823.7 1445.3 816.4 1442.2 810.3 1440.2 803ZM1355.7 738.9 1360.3 737.1 1366.6 737.7 1371.7 738.7 1368.6 740.1 1363.4 741.9 1357.2 742.5 1355.7 740.7ZM1431.3 785.1 1433.1 784.8 1434.1 787.9 1433.5 790.9 1431.9 790.4 1431.1 787.9ZM1472.8 786.3 1474.9 786 1477.7 789.7 1477.3 792.3 1474.4 791.5 1472.9 789.1ZM1289.3 474.2 1292.2 468.4 1301 469.3 1302.3 472.3 1297.1 474.9 1291.9 475.4Z" fill="none" stroke="#111" stroke-width="0.9" stroke-linejoin="round"/><path d="M1417.7 463.6L1420.3 466.5M1420.3 466.5L1422.5 470.8M1422.5 470.8L1425.1 476.6M1425.1 476.6L1427.2 483.1M1427.2 483.1L1427.7 485.7M1427.7 485.7L1428.8 491.4M1428.8 491.4L1430.3 496.6M1430.3 496.6L1431.9 501.8M1431.9 501.8L1435 500.7M1435 500.7L1438.1 499.4M1438.1 499.4L1442.2 503.3M1442.2 503.3L1446.4 507.7M1446.4 507.7L1445.9 512.9M1445.9 512.9L1446.9 517.5M1446.9 517.5L1448.1 519.3M1448.1 519.3L1447.9 523.6M1447.9 523.6L1451.3 528.2M1451.3 528.2L1453.1 532.2M1453.1 532.2L1454 534.6M1454 534.6L1454 542.4M1454 542.4L1457.1 545.3M1457.1 545.3L1462.1 553.1M1462.1 553.1L1468.2 554.6M1468.2 554.6L1471.8 557.9M1471.8 557.9L1477 561.1M1477 561.1L1481.8 564M1481.8 564L1483.7 568.7M1483.7 568.7L1486.7 573.4M1486.7 573.4L1489.6 577.7M1489.6 577.7L1492 585M1492 585L1495.1 587.2M1495.1 587.2L1498.2 586.1M1498.2 586.1L1503.4 588.8" fill="none" stroke="#111" stroke-width="1.5" stroke-dasharray="2.2 1.1 0.8 1.6" stroke-linecap="round"/><path d="M1116.7 634.8L1113.2 628.6M1113.2 628.6L1117.7 631.4M1117.7 631.4L1120.9 633.7M1120.9 633.7L1124 630.3M1124 630.3L1124 625.8M1124 625.8L1121.9 621.4M1121.9 621.4L1118.8 614.7M1118.8 614.7L1118.4 614.5" fill="none" stroke="#111" stroke-width="1.8" stroke-dasharray="2.2 1.1 0.8 1.6" stroke-linecap="round"/><path d="M1128.1 580.6L1130.2 579.5M1130.2 579.5L1133.4 578.9M1133.4 578.9L1142.6 571.9M1142.6 571.9L1149.9 568.1M1149.9 568.1L1155.1 567.6" fill="none" stroke="#111" stroke-width="1.4" stroke-dasharray="2.2 1.1 0.8 1.6" stroke-linecap="round"/><path d="M1206.2 528.4L1213.5 522.7M1213.5 522.7L1220.2 520.7M1220.2 520.7L1229.6 517.3M1229.6 517.3L1230.3 511.3M1230.3 511.3L1237 503.9M1237 503.9L1247 497.2M1247 497.2L1255.1 494.5M1255.1 494.5L1260.5 497.2M1260.5 497.2L1268.5 505.2M1268.5 505.2L1277.2 506.6" fill="none" stroke="#111" stroke-width="2.6" stroke-dasharray="2.2 1.1 0.8 1.6" stroke-linecap="round"/><path d="M1297.4 478.4L1302 477.1M1302 477.1L1306.9 474.2M1306.9 474.2L1314.7 471.3M1314.7 471.3L1322.5 472.3M1322.5 472.3L1330.3 476.2M1330.3 476.2L1338.1 477.1M1338.1 477.1L1341.1 475.2M1341.1 475.2L1347.9 473.2M1347.9 473.2L1357.7 466.4M1357.7 466.4L1358.6 478.1M1358.6 478.1L1349.8 487.9" fill="none" stroke="#111" stroke-width="1.6" stroke-dasharray="2.2 1.1 0.8 1.6" stroke-linecap="round"/><g fill="#111"><circle cx="1414.2" cy="458.6" r="0.9"/><circle cx="1415.3" cy="457.1" r="0.9"/><circle cx="1418.4" cy="458.6" r="0.9"/><circle cx="1420.5" cy="455.5" r="0.9"/><circle cx="1424.6" cy="454.5" r="0.9"/><circle cx="1421.5" cy="460.6" r="0.9"/><circle cx="1413.2" cy="462.6" r="0.9"/><circle cx="1356.2" cy="469.8" r="0.9"/><circle cx="1359.3" cy="473.9" r="0.9"/><circle cx="1347.9" cy="474.9" r="0.9"/><circle cx="1313.7" cy="467.7" r="0.9"/><circle cx="1298.1" cy="470.8" r="0.9"/><circle cx="1294" cy="470.8" r="0.9"/><circle cx="1386.3" cy="524.8" r="0.9"/><circle cx="1383.1" cy="525.9" r="0.9"/><circle cx="1355.2" cy="496.6" r="0.9"/><circle cx="1357.2" cy="498.6" r="0.9"/><circle cx="1353.1" cy="499.7" r="0.9"/><circle cx="1111.5" cy="624.7" r="0.9"/><circle cx="1112.6" cy="621.4" r="0.9"/><circle cx="1112" cy="626.9" r="0.9"/></g><path d="M1277.4 506.8 1277.4 691.5M1277.4 626.9 1401.8 626.9M1370.7 524.3 1370.7 626.9M1401.8 626.9 1401.8 766.4M1401.8 660.7 1483.7 660.7 1489.9 656.2 1500.3 656.8 1505.5 659 1510.7 659.6 1515.8 656.8 1521 653.4 1526.2 652.8 1531.9 651.3M1401.8 718.4 1407 719.5 1413.7 720.5 1420.2 725.2 1428.2 734.1 1435 740.7 1440.7 743.4 1448.5 741.3 1453.6 742.1 1463 742.8 1469.2 741.9 1473.3 744.2 1476.4 751.3 1494.9 759.7" fill="none" stroke="#111" stroke-width="0.9"/>
<path d="M1101 446H1542.3" stroke="#bbb" stroke-width="1.1"/>
<path d="M1101 446V839" stroke="#bbb" stroke-width="1.1"/>
<path d="M1542.3 446V839" stroke="#bbb" stroke-width="1.1"/>
<path d="M1101 839H1542.3" stroke="#777" stroke-width="1.1"/>
<text x="1117" y="484.8" font-size="36" font-weight="bold">d</text>
<text x="1115.5" y="806.8" font-size="29">KBDI</text>
<rect x="1559.5" y="741.2" width="22" height="99" fill="#f6b262"/>
<rect x="1559.5" y="642.5" width="22" height="99" fill="#de8228"/>
<rect x="1559.5" y="543.8" width="22" height="99" fill="#b25826"/>
<rect x="1559.5" y="445" width="22" height="99" fill="#7e3a18"/>
<path d="M1559.5 445V840H1581.5" fill="none" stroke="#2a1a10" stroke-width="1.2"/>
<path d="M1559.5 741.2h4M1581.5 741.2h-4" stroke="#333" stroke-width="1"/>
<path d="M1559.5 642.5h4M1581.5 642.5h-4" stroke="#333" stroke-width="1"/>
<path d="M1559.5 543.8h4M1581.5 543.8h-4" stroke="#333" stroke-width="1"/>
<text x="1592" y="841.8" font-size="25">2</text>
<text x="1592" y="748" font-size="25">3</text>
<text x="1592" y="649.3" font-size="25">4</text>
<text x="1592" y="550.5" font-size="25">5</text>
<text x="1592" y="462.2" font-size="25">6</text>
<text transform="translate(1637.5,644.5) rotate(-90)" text-anchor="middle" font-size="24.2">Standard deviations above mean</text>
<clipPath id="land2"><path d="M1417.7 879.9 1420.3 882.8 1422.5 887.1 1425.1 892.9 1427.2 899.4 1427.7 902 1428.8 907.7 1430.3 912.9 1431.9 918.1 1435 917 1438.1 915.7 1442.2 919.6 1446.4 924 1445.9 929.2 1446.9 933.8 1448.1 935.6 1447.9 939.9 1451.3 944.5 1453.1 948.5 1454 950.9 1454 958.7 1457.1 961.6 1462.1 969.4 1468.2 970.9 1471.8 974.2 1477 977.4 1481.8 980.3 1483.7 985 1486.7 989.7 1489.6 994 1492 1001.3 1495.1 1003.5 1498.2 1002.4 1503.4 1005.1 1502.9 1011.5 1504.4 1015.5 1508.2 1019.4 1513.2 1021.3 1516.9 1027.7 1519.5 1030.7 1524.7 1035.2 1526.2 1031 1528.3 1028.8 1528.5 1032.1 1527.8 1036.6 1528.2 1042.5 1527.2 1047.6 1527.6 1052.2 1530.9 1055 1531.9 1059.5 1530.7 1065.7 1531.9 1067.6 1532.8 1073 1532.2 1075.6 1529.9 1081.9 1528.3 1087.3 1527.7 1091.9 1527 1099 1525.4 1104.8 1523.6 1109.6 1521.5 1116.5 1517.9 1119.8 1513.6 1122.2 1511.4 1126.3 1508.4 1132.9 1507.5 1134.7 1504.4 1139.6 1504 1142.5 1502.9 1147.6 1500.1 1150.6 1497.2 1154.9 1496.7 1157 1496.5 1160.8 1495.9 1163.1 1494.3 1170.9 1494.9 1176 1494.3 1176.8 1487.5 1179.5 1480.1 1179.5 1474.2 1180.5 1469.2 1183.1 1464 1187.3 1458.8 1190.3 1457.8 1195.5 1455.7 1191.5 1452.8 1192.7 1449.5 1190 1446.4 1187.9 1443.5 1187.7 1439.6 1185.6 1442.2 1183.1 1443.3 1180.5 1439.1 1181.9 1437.1 1183.4 1439.1 1185.4 1436.2 1186 1432.7 1188.4 1427.9 1192.2 1424.6 1190.9 1422.3 1189.4 1417.1 1186.7 1414.7 1186.6 1408 1186.1 1407.5 1187.1 1406 1186.5 1403.9 1184.3 1401.5 1182.7 1398.7 1182.5 1394.5 1179.5 1391.5 1175.7 1388.8 1171.9 1389.9 1168 1386.3 1161.7 1383.1 1157 1379.8 1153 1377.1 1153 1371.7 1153.4 1373.8 1151.7 1375.9 1145.6 1375.4 1140.5 1372.3 1136.9 1369.9 1139.6 1368.1 1147.3 1367.1 1148.1 1360.3 1149.2 1359.1 1149.9 1360.3 1145.2 1365.3 1140.5 1366.8 1133.8 1370 1130 1370.7 1125.1 1368.3 1117.2 1366.3 1123.4 1359.5 1130.9 1351 1139 1348.6 1143.1 1344.8 1145.4 1343.7 1141.7 1338.6 1130.6 1336.2 1125.7 1331.3 1120.7 1328.5 1115.8 1326.1 1112.6 1318.9 1111.4 1313 1111.2 1305.4 1105.6 1299.2 1105.4 1287.8 1106.6 1277.4 1107.8 1276.2 1107.7 1261.8 1113.7 1246.8 1114.5 1235.9 1120.7 1232.8 1121.8 1224.3 1130.2 1216.8 1134.4 1203.8 1133 1194.5 1132.9 1185.4 1134.1 1180 1137 1177.7 1139.3 1168.5 1142.9 1162.1 1146.7 1156.6 1146.4 1149.9 1146.4 1142.6 1144.5 1133.7 1139 1132.3 1134.7 1132.3 1129.2 1135.9 1130.6 1138.8 1126.8 1139.7 1117.6 1139.9 1112 1140 1110.3 1138.3 1105.6 1135.6 1099.9 1133 1094.2 1132.6 1091.9 1132.1 1087.9 1131.5 1079.9 1128.1 1074.4 1125 1069.1 1123.6 1062.3 1120.9 1057.8 1116.7 1051.1 1113.2 1044.9 1117.7 1047.7 1120.9 1050 1124 1046.6 1124 1042.1 1121.9 1037.7 1118.8 1031 1118.4 1030.8 1116.7 1024.3 1115.7 1023.5 1118.3 1016.6 1119.5 1011.6 1118.6 1007 1120.9 1001.3 1123.6 996.9 1125 1003.5 1127.1 1002.4 1128.1 996.9 1130.2 995.8 1133.4 995.2 1142.6 988.2 1149.9 984.4 1155.1 983.9 1163.4 981.2 1169.6 980.7 1177.9 977.4 1181.7 976.9 1189.3 973.1 1195.5 967.7 1200.7 963.4 1207.7 957.4 1206.2 944.7 1213.5 939 1220.2 937 1229.6 933.6 1230.3 927.6 1237 920.2 1247 913.5 1255.1 910.8 1260.5 913.5 1268.5 921.5 1277.2 922.9 1284 922.2 1281.3 916.8 1287.3 906.8 1297.4 894.7 1302 893.4 1306.9 890.5 1314.7 887.6 1322.5 888.6 1330.3 892.5 1338.1 893.4 1341.1 891.5 1347.9 889.5 1357.7 882.7 1358.6 894.4 1349.8 904.2 1347.9 912 1345 921.8 1357.7 932.5 1370.8 940.3 1382.1 944.2 1392.8 953 1401.6 943.2 1406.5 928.6 1408.4 909.1 1412.3 884.7ZM1440.2 1214.2 1446.4 1215.3 1452.6 1218.7 1457.3 1220.3 1464 1218.7 1468.2 1218.1 1473.9 1215 1478 1218 1477.5 1222.1 1477.5 1229 1477.5 1232.7 1474.4 1236.4 1473.9 1243.7 1471.3 1244.9 1467.6 1242.5 1467.1 1247.4 1462.2 1250.4 1455.7 1248.6 1453.1 1246.2 1448.5 1240 1445.3 1232.7 1442.2 1226.6 1440.2 1219.3ZM1355.7 1155.2 1360.3 1153.4 1366.6 1154 1371.7 1155 1368.6 1156.4 1363.4 1158.2 1357.2 1158.8 1355.7 1157ZM1431.3 1201.4 1433.1 1201.1 1434.1 1204.2 1433.5 1207.2 1431.9 1206.7 1431.1 1204.2ZM1472.8 1202.6 1474.9 1202.3 1477.7 1206 1477.3 1208.6 1474.4 1207.8 1472.9 1205.4ZM1289.3 890.5 1292.2 884.7 1301 885.6 1302.3 888.6 1297.1 891.2 1291.9 891.7Z"/></clipPath><path d="M1417.7 879.9 1420.3 882.8 1422.5 887.1 1425.1 892.9 1427.2 899.4 1427.7 902 1428.8 907.7 1430.3 912.9 1431.9 918.1 1435 917 1438.1 915.7 1442.2 919.6 1446.4 924 1445.9 929.2 1446.9 933.8 1448.1 935.6 1447.9 939.9 1451.3 944.5 1453.1 948.5 1454 950.9 1454 958.7 1457.1 961.6 1462.1 969.4 1468.2 970.9 1471.8 974.2 1477 977.4 1481.8 980.3 1483.7 985 1486.7 989.7 1489.6 994 1492 1001.3 1495.1 1003.5 1498.2 1002.4 1503.4 1005.1 1502.9 1011.5 1504.4 1015.5 1508.2 1019.4 1513.2 1021.3 1516.9 1027.7 1519.5 1030.7 1524.7 1035.2 1526.2 1031 1528.3 1028.8 1528.5 1032.1 1527.8 1036.6 1528.2 1042.5 1527.2 1047.6 1527.6 1052.2 1530.9 1055 1531.9 1059.5 1530.7 1065.7 1531.9 1067.6 1532.8 1073 1532.2 1075.6 1529.9 1081.9 1528.3 1087.3 1527.7 1091.9 1527 1099 1525.4 1104.8 1523.6 1109.6 1521.5 1116.5 1517.9 1119.8 1513.6 1122.2 1511.4 1126.3 1508.4 1132.9 1507.5 1134.7 1504.4 1139.6 1504 1142.5 1502.9 1147.6 1500.1 1150.6 1497.2 1154.9 1496.7 1157 1496.5 1160.8 1495.9 1163.1 1494.3 1170.9 1494.9 1176 1494.3 1176.8 1487.5 1179.5 1480.1 1179.5 1474.2 1180.5 1469.2 1183.1 1464 1187.3 1458.8 1190.3 1457.8 1195.5 1455.7 1191.5 1452.8 1192.7 1449.5 1190 1446.4 1187.9 1443.5 1187.7 1439.6 1185.6 1442.2 1183.1 1443.3 1180.5 1439.1 1181.9 1437.1 1183.4 1439.1 1185.4 1436.2 1186 1432.7 1188.4 1427.9 1192.2 1424.6 1190.9 1422.3 1189.4 1417.1 1186.7 1414.7 1186.6 1408 1186.1 1407.5 1187.1 1406 1186.5 1403.9 1184.3 1401.5 1182.7 1398.7 1182.5 1394.5 1179.5 1391.5 1175.7 1388.8 1171.9 1389.9 1168 1386.3 1161.7 1383.1 1157 1379.8 1153 1377.1 1153 1371.7 1153.4 1373.8 1151.7 1375.9 1145.6 1375.4 1140.5 1372.3 1136.9 1369.9 1139.6 1368.1 1147.3 1367.1 1148.1 1360.3 1149.2 1359.1 1149.9 1360.3 1145.2 1365.3 1140.5 1366.8 1133.8 1370 1130 1370.7 1125.1 1368.3 1117.2 1366.3 1123.4 1359.5 1130.9 1351 1139 1348.6 1143.1 1344.8 1145.4 1343.7 1141.7 1338.6 1130.6 1336.2 1125.7 1331.3 1120.7 1328.5 1115.8 1326.1 1112.6 1318.9 1111.4 1313 1111.2 1305.4 1105.6 1299.2 1105.4 1287.8 1106.6 1277.4 1107.8 1276.2 1107.7 1261.8 1113.7 1246.8 1114.5 1235.9 1120.7 1232.8 1121.8 1224.3 1130.2 1216.8 1134.4 1203.8 1133 1194.5 1132.9 1185.4 1134.1 1180 1137 1177.7 1139.3 1168.5 1142.9 1162.1 1146.7 1156.6 1146.4 1149.9 1146.4 1142.6 1144.5 1133.7 1139 1132.3 1134.7 1132.3 1129.2 1135.9 1130.6 1138.8 1126.8 1139.7 1117.6 1139.9 1112 1140 1110.3 1138.3 1105.6 1135.6 1099.9 1133 1094.2 1132.6 1091.9 1132.1 1087.9 1131.5 1079.9 1128.1 1074.4 1125 1069.1 1123.6 1062.3 1120.9 1057.8 1116.7 1051.1 1113.2 1044.9 1117.7 1047.7 1120.9 1050 1124 1046.6 1124 1042.1 1121.9 1037.7 1118.8 1031 1118.4 1030.8 1116.7 1024.3 1115.7 1023.5 1118.3 1016.6 1119.5 1011.6 1118.6 1007 1120.9 1001.3 1123.6 996.9 1125 1003.5 1127.1 1002.4 1128.1 996.9 1130.2 995.8 1133.4 995.2 1142.6 988.2 1149.9 984.4 1155.1 983.9 1163.4 981.2 1169.6 980.7 1177.9 977.4 1181.7 976.9 1189.3 973.1 1195.5 967.7 1200.7 963.4 1207.7 957.4 1206.2 944.7 1213.5 939 1220.2 937 1229.6 933.6 1230.3 927.6 1237 920.2 1247 913.5 1255.1 910.8 1260.5 913.5 1268.5 921.5 1277.2 922.9 1284 922.2 1281.3 916.8 1287.3 906.8 1297.4 894.7 1302 893.4 1306.9 890.5 1314.7 887.6 1322.5 888.6 1330.3 892.5 1338.1 893.4 1341.1 891.5 1347.9 889.5 1357.7 882.7 1358.6 894.4 1349.8 904.2 1347.9 912 1345 921.8 1357.7 932.5 1370.8 940.3 1382.1 944.2 1392.8 953 1401.6 943.2 1406.5 928.6 1408.4 909.1 1412.3 884.7ZM1440.2 1214.2 1446.4 1215.3 1452.6 1218.7 1457.3 1220.3 1464 1218.7 1468.2 1218.1 1473.9 1215 1478 1218 1477.5 1222.1 1477.5 1229 1477.5 1232.7 1474.4 1236.4 1473.9 1243.7 1471.3 1244.9 1467.6 1242.5 1467.1 1247.4 1462.2 1250.4 1455.7 1248.6 1453.1 1246.2 1448.5 1240 1445.3 1232.7 1442.2 1226.6 1440.2 1219.3ZM1355.7 1155.2 1360.3 1153.4 1366.6 1154 1371.7 1155 1368.6 1156.4 1363.4 1158.2 1357.2 1158.8 1355.7 1157ZM1431.3 1201.4 1433.1 1201.1 1434.1 1204.2 1433.5 1207.2 1431.9 1206.7 1431.1 1204.2ZM1472.8 1202.6 1474.9 1202.3 1477.7 1206 1477.3 1208.6 1474.4 1207.8 1472.9 1205.4ZM1289.3 890.5 1292.2 884.7 1301 885.6 1302.3 888.6 1297.1 891.2 1291.9 891.7Z" fill="#de8228"/><g clip-path="url(#land2)"><path d="M1209.1 957.4C1210.5 953.9 1214.3 952.6 1217.5 948.9C1220.7 945.3 1223.6 939.3 1227.3 936.3C1231 933.4 1235.6 931.9 1238.5 932.1C1241.5 932.3 1242.7 934.8 1244.1 937.7C1245.6 940.7 1246.7 944.5 1246.9 948.9C1247.2 953.4 1245.5 958.6 1245.5 963C1245.5 967.4 1245.7 970.8 1246.9 974.2C1248.2 977.6 1249.9 980.2 1252.6 982.6C1255.3 985.1 1258.2 986.3 1262.4 988.2C1266.6 990.2 1271.7 991.6 1276.4 993.8C1281.1 996.1 1286.1 998.7 1289 1000.9C1292 1003.1 1293 1003.8 1293.3 1006.5C1293.5 1009.2 1291.9 1012.6 1290.4 1016.3C1289 1020 1286.1 1023.6 1284.8 1027.5C1283.6 1031.5 1282.9 1035.8 1283.4 1038.7C1283.9 1041.7 1287.1 1041.4 1287.6 1044.4C1288.1 1047.3 1287 1051.1 1286.2 1055.6C1285.5 1060.1 1283.4 1070 1283.4 1070L1199.2 1070C1199.2 1070 1204.7 1059.3 1207.7 1055.6C1210.6 1051.8 1212.6 1050.5 1216.1 1048.6C1219.5 1046.6 1224.1 1046.3 1227.3 1044.4C1230.5 1042.4 1232.8 1040.3 1234.3 1037.3C1235.8 1034.4 1236 1031.2 1235.7 1027.5C1235.5 1023.8 1233.6 1020.2 1232.9 1016.3C1232.2 1012.4 1232.5 1008.3 1231.5 1005.1C1230.5 1001.9 1230 1001 1227.3 998.1C1224.6 995.1 1219 991.4 1216.1 988.2C1213.1 985 1211.7 983.2 1210.5 979.8C1209.2 976.4 1209.3 972.5 1209.1 968.6C1208.8 964.7 1207.6 960.8 1209.1 957.4Z" fill="#b25826"/><path d="M1147.3 1013.5C1149 1010.3 1153.4 1009.4 1157.1 1007.9C1160.8 1006.4 1165.2 1007 1168.4 1005.1C1171.6 1003.1 1172.4 998.6 1175.4 996.7C1178.3 994.7 1182.3 993.6 1185.2 993.8C1188.1 994.1 1189.3 996.1 1192.2 998.1C1195.2 1000 1198.6 1003.1 1202 1005.1C1205.5 1007 1209.7 1007.3 1211.9 1009.3C1214.1 1011.2 1214.4 1013.6 1214.7 1016.3C1214.9 1019 1214.7 1022.3 1213.3 1024.7C1211.8 1027.2 1208.7 1029.1 1206.2 1030.3C1203.8 1031.6 1201.9 1031 1199.2 1031.7C1196.5 1032.5 1194.2 1033.8 1190.8 1034.5C1187.4 1035.3 1184.3 1035.2 1179.6 1035.9C1174.9 1036.7 1168.1 1037.3 1164.1 1038.7C1160.2 1040.2 1159.6 1043.4 1157.1 1044.4C1154.7 1045.3 1152.1 1045.6 1150.1 1044.4C1148.2 1043.1 1146.4 1040.5 1145.9 1037.3C1145.4 1034.2 1147.1 1030.3 1147.3 1026.1C1147.6 1021.9 1145.6 1016.7 1147.3 1013.5Z" fill="#b25826"/><path d="M1282 918.1C1283 914.6 1286.3 910.3 1289 906.8C1291.7 903.4 1294 900.4 1297.5 898.4C1300.9 896.5 1304.8 895.6 1308.7 895.6C1312.6 895.6 1316 897.9 1319.9 898.4C1323.8 898.9 1331 898.4 1331 898.4L1331 937.7C1331 937.7 1323.8 939.6 1319.9 939.1C1316 938.6 1312.6 935.4 1308.7 934.9C1304.8 934.4 1301.1 936.6 1297.5 936.3C1293.8 936.1 1290.1 935.2 1287.6 933.5C1285.2 931.8 1284.4 929.2 1283.4 926.5C1282.4 923.8 1281 921.5 1282 918.1Z" fill="#b25826"/><path d="M1297.5 902.6C1298.7 900.9 1302 900.7 1304.5 901.2C1306.9 901.7 1310.5 903.5 1311.5 905.4C1312.5 907.4 1311.6 910.7 1310.1 912.5C1308.6 914.2 1305.3 915.5 1303.1 915.3C1300.9 915 1298.4 913.3 1297.5 911C1296.5 908.8 1296.2 904.3 1297.5 902.6Z" fill="#7e3a18"/><path d="M1289 920.9C1290.5 918.9 1295 916.7 1297.5 916.7C1299.9 916.7 1302.3 918.7 1303.1 920.9C1303.8 923.1 1303.1 927.3 1301.7 929.3C1300.2 931.3 1296.9 932.3 1294.7 932.1C1292.4 931.9 1290 929.9 1289 927.9C1288.1 925.9 1287.6 922.8 1289 920.9Z" fill="#7e3a18"/><path d="M1325.5 904C1326.2 902.1 1331 901.2 1331 901.2L1331 912.5C1331 912.5 1327.9 913.9 1326.9 912.5C1326 911 1324.8 906 1325.5 904Z" fill="#7e3a18"/><path d="M1308.7 915.3C1309.9 913.5 1313.7 913.4 1315.7 913.9C1317.7 914.3 1319.4 916.1 1319.9 918.1C1320.4 920 1319.7 923.4 1318.5 925.1C1317.3 926.8 1314.6 928.1 1312.9 927.9C1311.2 927.6 1309.4 925.9 1308.7 923.7C1308 921.5 1307.5 917 1308.7 915.3Z" fill="#de8228"/><path d="M1223.1 936.3C1224.3 934.1 1228.8 932.3 1231.5 932.1C1234.2 931.9 1237 932.9 1238.5 934.9C1240 936.9 1240.2 940.9 1239.9 943.3C1239.7 945.8 1238.8 948 1237.1 948.9C1235.4 949.9 1232.3 949.7 1230.1 948.9C1227.9 948.2 1225.7 946.9 1224.5 944.7C1223.3 942.5 1221.9 938.5 1223.1 936.3Z" fill="#7e3a18"/><path d="M1220.3 954.6C1220.8 953.6 1223.1 953.6 1224.5 953.8C1225.8 954.1 1227.6 955 1228 956C1228.4 956.9 1227.7 958.8 1226.6 959.5C1225.5 960.1 1222.8 960.3 1221.7 959.5C1220.6 958.6 1219.8 955.5 1220.3 954.6Z" fill="#de8228"/><path d="M1256.8 936.3C1258.1 933.9 1260.8 930.8 1263.8 929.3C1266.7 927.8 1271.3 927.9 1273.6 927.9C1275.9 927.9 1276.5 924.4 1277.1 929.3C1277.7 934.2 1278.5 950.2 1277.1 956C1275.8 961.7 1272 961.5 1269.4 962.3C1266.8 963 1264.3 962 1262.4 960.2C1260.4 958.3 1259.3 954.7 1258.2 951.7C1257.1 948.8 1256.3 946 1256.1 943.3C1255.8 940.6 1255.4 938.8 1256.8 936.3Z" fill="#f6b262"/><path d="M1317.1 951.7C1318.1 949.3 1323.1 949.2 1325.5 948.9C1328 948.7 1331 950.3 1331 950.3L1331 1016.3C1331 1016.3 1327 1017 1325.5 1016.3C1324.1 1015.6 1322.7 1015.5 1322.7 1012.1C1322.7 1008.6 1325.5 1002.8 1325.5 996.7C1325.5 990.5 1323.7 982.9 1322.7 977C1321.7 971.1 1320.9 967.4 1319.9 963C1318.9 958.6 1316.1 954.2 1317.1 951.7Z" fill="#f6b262"/><path d="M1307.3 1030.3C1308 1028.1 1310.3 1027.3 1311.5 1027.5C1312.7 1027.8 1314.1 1029.8 1314.3 1031.7C1314.5 1033.7 1314.1 1037.3 1312.9 1038.7C1311.7 1040.2 1308.3 1041.6 1307.3 1040.2C1306.3 1038.7 1306.5 1032.5 1307.3 1030.3Z" fill="#f6b262"/><path d="M1255.4 1070C1255.4 1070 1259.4 1065.3 1262.4 1064C1265.3 1062.7 1269.5 1062.4 1272.2 1062.6C1274.9 1062.9 1276.3 1064.1 1277.8 1065.4C1279.3 1066.7 1280.6 1070 1280.6 1070L1255.4 1070Z" fill="#7e3a18"/><path d="M1169.8 981.2C1171.2 980.2 1175.9 980.8 1179.6 979.8C1183.3 978.8 1188.6 975.6 1190.8 975.6C1193 975.6 1193.7 978.3 1192.2 979.8C1190.7 981.3 1186.1 983 1182.4 984C1178.7 985 1173.4 985.9 1171.2 985.4C1169 984.9 1168.3 982.2 1169.8 981.2Z" fill="#f6b262"/><path d="M1172.6 981.9C1174.8 981.3 1181.3 979.9 1183.8 979.8C1186.3 979.7 1187.3 980.6 1186.6 981.2C1185.9 981.8 1182.3 983 1179.6 983.3C1176.9 983.7 1172.4 983.6 1171.2 983.3C1169.9 983.1 1170.4 982.5 1172.6 981.9Z" fill="#ffffff"/><path d="M1122 996.7C1122.8 995.4 1126.6 995.7 1129.1 995.2C1131.5 994.8 1133.6 994.6 1136.1 993.8C1138.5 993.1 1140.4 992 1143.1 991C1145.8 990.1 1149.6 988.2 1151.5 988.2C1153.5 988.2 1155.1 990.1 1154.3 991C1153.6 992 1149.8 992.6 1147.3 993.8C1144.9 995.1 1142.7 997.3 1140.3 998.1C1137.8 998.8 1136 997.3 1133.3 998.1C1130.6 998.8 1126.8 1002.5 1124.9 1002.3C1122.9 1002 1121.3 997.9 1122 996.7Z" fill="#f6b262"/><path d="M1144.5 1000.9C1145.5 1000.1 1148.9 999.2 1150.1 999.5C1151.3 999.7 1152 1001.3 1151.5 1002.3C1151 1003.2 1148.5 1004.8 1147.3 1005.1C1146.1 1005.3 1145 1004.4 1144.5 1003.7C1144 1002.9 1143.5 1001.6 1144.5 1000.9Z" fill="#f6b262"/><path d="M1130.5 1014.9C1131.3 1013.8 1134.6 1011.2 1136.1 1010.7C1137.6 1010.2 1139.1 1011.1 1138.9 1012.1C1138.6 1013.1 1136 1015.4 1134.7 1016.3C1133.3 1017.2 1131.9 1017.2 1131.2 1017C1130.4 1016.8 1129.6 1016 1130.5 1014.9Z" fill="#f6b262"/><path d="M1115 1020.5C1115.8 1018.1 1119.6 1018.6 1122 1019.1C1124.5 1019.6 1127.6 1021.3 1129.1 1023.3C1130.5 1025.3 1131 1028.4 1130.5 1030.3C1130 1032.3 1128.5 1034 1126.3 1034.5C1124 1035 1119.8 1035.6 1117.8 1033.1C1115.9 1030.7 1114.3 1023 1115 1020.5Z" fill="#f6b262"/><path d="M1115 1022.6C1116 1021.1 1120.1 1021.8 1122 1022.6C1124 1023.5 1126 1025.9 1126.3 1027.5C1126.5 1029.1 1125.2 1031.1 1123.5 1031.7C1121.7 1032.3 1117.9 1032.6 1116.4 1031C1115 1029.4 1114.1 1024.1 1115 1022.6Z" fill="#ffffff"/><path d="M1115 1037.3C1116.3 1035.9 1119.8 1036.4 1122 1037.3C1124.3 1038.3 1126.9 1040.7 1127.7 1043C1128.4 1045.2 1127.7 1048.5 1126.3 1050C1124.8 1051.4 1121.2 1052.1 1119.2 1051.4C1117.3 1050.6 1115.8 1048.2 1115 1045.8C1114.3 1043.3 1113.8 1038.8 1115 1037.3Z" fill="#b25826"/><path d="M1120.6 1040.2C1121.5 1039.4 1124.5 1040.6 1125.6 1041.6C1126.7 1042.5 1127.3 1044.5 1127 1045.8C1126.6 1047 1124.6 1048.6 1123.5 1048.6C1122.3 1048.6 1121.1 1047.2 1120.6 1045.8C1120.2 1044.3 1119.8 1040.9 1120.6 1040.2Z" fill="#7e3a18"/><path d="M1137.5 1062.6C1139 1060.6 1143.4 1058.1 1145.9 1058.4C1148.4 1058.6 1150 1062 1151.5 1064C1153 1066 1154.3 1070 1154.3 1070L1137.5 1070C1137.5 1070 1136 1064.6 1137.5 1062.6Z" fill="#b25826"/><path d="M1172.6 1061.2C1174 1059.2 1177.1 1058.1 1179.6 1058.4C1182 1058.6 1185.1 1060.6 1186.6 1062.6C1188.1 1064.6 1188 1070 1188 1070L1171.2 1070C1171.2 1070 1171.1 1063.2 1172.6 1061.2Z" fill="#b25826"/><path d="M1119.2 999.5C1120.2 998 1122.2 997.1 1123.5 998.1C1124.7 999 1126.5 1003.1 1126.3 1005.1C1126 1007 1123.5 1009 1122 1009.3C1120.6 1009.5 1118.3 1008.2 1117.8 1006.5C1117.3 1004.8 1118.3 1000.9 1119.2 999.5Z" fill="#b25826"/><path d="M1120.6 1057C1121.6 1055 1124.8 1056.9 1126.3 1058.4C1127.7 1059.9 1129.1 1063.4 1129.1 1065.4C1129.1 1067.5 1126.3 1070 1126.3 1070L1120.6 1070C1120.6 1070 1119.7 1059 1120.6 1057Z" fill="#f6b262"/><path d="M1362.1 943C1366 942 1365.1 946.6 1370.5 948.6C1375.9 950.5 1387.1 955.7 1393 954.2C1398.9 952.7 1401.5 948.8 1404.2 940.2C1406.9 931.6 1407.2 914.2 1408.4 905.1C1409.6 896 1409 891.4 1411.2 888.2C1413.4 885.1 1417.4 882.2 1421 886.8C1424.7 891.5 1427.8 908 1432.3 914.9C1436.7 921.8 1442.9 920.2 1446.3 926.1C1449.7 932 1449.5 941.2 1451.9 948.6C1454.4 956 1456.4 962.8 1460.3 968.2C1464.3 973.6 1469.5 975.3 1474.4 979.5C1479.3 983.6 1483.5 987.2 1488.4 992.1C1493.3 997 1498.7 1002.9 1502.4 1007.5C1506.1 1012.2 1505.8 1014.6 1509.4 1018.7C1513.1 1022.9 1520.3 1025.9 1523.5 1031.4C1526.7 1036.9 1527.7 1050 1527.7 1050L1320 1050L1320 948.6C1320 948.6 1329.1 950.4 1334 951.4C1338.9 952.4 1343.2 955.7 1348.1 954.2C1353 952.7 1358.2 944 1362.1 943Z" fill="#f6b262"/><path d="M1409.8 893.9C1411.3 889.9 1415.1 888.9 1416.8 889.6C1418.5 890.4 1419.6 894.1 1419.6 898.1C1419.6 902 1416.8 907.2 1416.8 912.1C1416.8 917 1419.4 922 1419.6 926.1C1419.9 930.3 1419.7 933.7 1418.2 936C1416.8 938.2 1413.2 939.3 1411.2 938.8C1409.2 938.3 1407.5 937.8 1407 933.1C1406.5 928.5 1407.9 919 1408.4 912.1C1408.9 905.2 1408.3 897.8 1409.8 893.9Z" fill="#de8228"/><path d="M1362.1 976.7C1363.3 974.4 1366.8 973.8 1370.5 973.8C1374.2 973.8 1379.2 975.7 1383.1 976.7C1387.1 977.6 1390.3 978 1393 979.5C1395.7 980.9 1396.6 983.4 1398.6 985.1C1400.5 986.8 1402 988.5 1404.2 989.3C1406.4 990 1409.2 991 1411.2 989.3C1413.2 987.6 1414.2 983.1 1415.4 979.5C1416.7 975.8 1417.2 972.7 1418.2 968.2C1419.2 963.8 1419.1 957.4 1421 954.2C1423 951 1426 950.2 1429.5 950C1432.9 949.7 1436.8 952.5 1440.7 952.8C1444.6 953 1449 948.9 1451.9 951.4C1454.9 953.8 1458.5 964.1 1457.5 966.8C1456.5 969.5 1450.2 966.3 1446.3 966.8C1442.4 967.3 1438 968.4 1435.1 969.6C1432.1 970.9 1430.4 971.6 1429.5 973.8C1428.5 976.1 1429.2 978.3 1429.5 982.3C1429.7 986.2 1429.6 992.6 1430.9 996.3C1432.1 1000 1434.5 1000.9 1436.5 1003.3C1438.4 1005.8 1440.9 1007.6 1442.1 1010.3C1443.3 1013 1444.5 1015.8 1443.5 1018.7C1442.5 1021.7 1438.4 1024.2 1436.5 1027.2C1434.5 1030.1 1435 1033.1 1432.3 1035.6C1429.6 1038 1424.5 1040.2 1421 1041.2C1417.6 1042.2 1415.6 1042.9 1412.6 1041.2C1409.7 1039.5 1406.7 1034.3 1404.2 1031.4C1401.7 1028.4 1401 1026.6 1398.6 1024.4C1396.1 1022.2 1393.1 1020.7 1390.2 1018.7C1387.2 1016.8 1384.2 1014.9 1381.7 1013.1C1379.3 1011.4 1377.6 1010.9 1376.1 1008.9C1374.7 1007 1374.3 1004.6 1373.3 1001.9C1372.3 999.2 1372.2 996.2 1370.5 993.5C1368.8 990.8 1365 989.4 1363.5 986.5C1362 983.5 1360.9 978.9 1362.1 976.7Z" fill="#ffffff"/><path d="M1426.7 923.3C1427.9 921.6 1431.7 921.4 1433.7 921.9C1435.6 922.4 1437.4 923.7 1437.9 926.1C1438.4 928.6 1437.5 933.3 1436.5 936C1435.5 938.7 1433.7 941.1 1432.3 941.6C1430.8 942.1 1429 940.5 1428.1 938.8C1427.1 937 1426.9 934.4 1426.7 931.7C1426.4 929 1425.4 925 1426.7 923.3Z" fill="#ffffff"/><path d="M1447.7 976.7C1448.7 975.2 1452.5 974.6 1454.7 973.8C1456.9 973.1 1458.1 971.5 1460.3 972.4C1462.5 973.4 1466.4 977.2 1467.3 979.5C1468.3 981.7 1467.2 983.6 1465.9 985.1C1464.7 986.5 1462.5 987.4 1460.3 987.9C1458.1 988.4 1455.3 988.9 1453.3 987.9C1451.3 986.9 1450.1 984.2 1449.1 982.3C1448.1 980.3 1446.7 978.1 1447.7 976.7Z" fill="#ffffff"/><path d="M1474.4 982.3C1474.4 980.5 1479.1 978.9 1482.8 980.9C1486.5 982.8 1492 989.3 1495.4 993.5C1498.8 997.7 1501.4 1001.8 1502.4 1004.7C1503.4 1007.7 1502.7 1010.8 1501 1010.3C1499.3 1009.8 1495.8 1005.3 1492.6 1001.9C1489.4 998.5 1486 994.1 1482.8 990.7C1479.6 987.2 1474.4 984 1474.4 982.3Z" fill="#ffffff"/><path d="M1423.8 895.3C1424.3 894.5 1426.6 898.8 1428.1 902.3C1429.5 905.7 1432 912.4 1432.3 914.9C1432.5 917.4 1430.7 917.8 1429.5 916.3C1428.2 914.8 1426.2 910.2 1425.2 906.5C1424.3 902.8 1423.4 896 1423.8 895.3Z" fill="#ffffff"/><path d="M1320 931.7C1320 931.7 1354.7 931.6 1362.1 934.6C1369.5 937.5 1363.1 945.1 1362.1 948.6C1361.1 952 1360.4 952.5 1356.5 954.2C1352.6 955.9 1343.6 958.9 1339.6 958.4C1335.7 957.9 1337.5 953.1 1334 951.4C1330.6 949.7 1320 948.6 1320 948.6L1320 931.7Z" fill="#de8228"/><path d="M1320 891C1320 891 1324.1 887.9 1325.6 889.6C1327.1 891.4 1325.7 898.9 1328.4 900.9C1331.1 902.8 1338.3 898.9 1341 900.9C1343.8 902.8 1343.1 908.2 1343.9 912.1C1344.6 916 1343.3 919.9 1345.3 923.3C1347.2 926.8 1352.1 929.5 1355.1 931.7C1358 934 1363.3 934 1362.1 936C1360.9 937.9 1353 942 1348.1 943C1343.2 944 1338.9 942.6 1334 941.6C1329.1 940.6 1320 937.4 1320 937.4L1320 891Z" fill="#b25826"/><path d="M1327 905.1C1328.2 903.6 1331.6 902.5 1334 902.3C1336.5 902 1339.8 902.2 1341 903.7C1342.3 905.2 1342.3 909 1341 910.7C1339.8 912.4 1336.5 913.5 1334 913.5C1331.6 913.5 1328.2 912.2 1327 910.7C1325.8 909.2 1325.8 906.6 1327 905.1Z" fill="#7e3a18"/><path d="M1320 898.1C1320 898.1 1323.5 896.6 1324.2 898.1C1324.9 899.5 1324.9 905 1324.2 906.5C1323.5 908 1320 906.5 1320 906.5L1320 898.1Z" fill="#de8228"/><path d="M1366.3 957C1367.8 955.3 1372.7 954.2 1376.1 954.2C1379.6 954.2 1383.7 955.3 1386 957C1388.2 958.7 1389.3 961.8 1388.8 964C1388.3 966.2 1385.8 968.9 1383.1 969.6C1380.4 970.4 1376 969.2 1373.3 968.2C1370.6 967.2 1368.9 966 1367.7 964C1366.5 962.1 1364.8 958.7 1366.3 957Z" fill="#de8228"/><path d="M1320 961.2C1320 961.2 1324.4 955.1 1325.6 961.2C1326.8 967.4 1327.3 987.7 1327 996.3C1326.8 1004.9 1324.9 1005.4 1324.2 1010.3C1323.5 1015.2 1321.1 1020.7 1322.8 1024.4C1324.5 1028 1329.6 1028.9 1334 1031.4C1338.5 1033.8 1343.2 1036.2 1348.1 1038.4C1353 1040.6 1358.2 1042 1362.1 1044C1366 1046 1370.5 1050 1370.5 1050L1320 1050L1320 961.2Z" fill="#de8228"/><path d="M1443.5 1032.8C1445.7 1027.8 1449 1024 1451.9 1021.6C1454.9 1019.1 1456.4 1020.5 1460.3 1018.7C1464.3 1017 1472.4 1015.2 1474.4 1011.7C1476.3 1008.3 1471.1 1002.1 1471.6 999.1C1472 996.2 1474.2 994.4 1477.2 994.9C1480.1 995.4 1485 999.2 1488.4 1001.9C1491.8 1004.6 1493.6 1007.6 1496.8 1010.3C1500 1013 1503.2 1014.9 1506.6 1017.3C1510.1 1019.8 1512.8 1021.2 1516.5 1024.4C1520.1 1027.6 1525.7 1031.1 1527.7 1035.6C1529.7 1040.1 1527.7 1050 1527.7 1050L1439.3 1050C1439.3 1050 1441.3 1037.8 1443.5 1032.8Z" fill="#de8228"/><path d="M1461.7 1035.6C1463 1031.6 1464.2 1030.1 1467.3 1027.2C1470.5 1024.2 1476.8 1021.2 1480 1018.7C1483.2 1016.3 1483.4 1013.6 1485.6 1013.1C1487.8 1012.6 1489.7 1014.5 1492.6 1015.9C1495.6 1017.4 1499.2 1020.8 1502.4 1021.6C1505.6 1022.3 1507.9 1018.9 1510.8 1020.2C1513.8 1021.4 1516.6 1025.4 1519.3 1028.6C1522 1031.8 1524.8 1034.6 1526.3 1038.4C1527.8 1042.2 1527.7 1050 1527.7 1050L1460.3 1050C1460.3 1050 1460.5 1039.6 1461.7 1035.6Z" fill="#b25826"/><path d="M1473 1042.6C1473.9 1040.1 1476.4 1036.8 1478.6 1035.6C1480.8 1034.4 1483.4 1034.4 1485.6 1035.6C1487.8 1036.8 1489.7 1040.1 1491.2 1042.6C1492.7 1045.1 1494 1050 1494 1050L1473 1050C1473 1050 1472 1045.1 1473 1042.6Z" fill="#7e3a18"/><path d="M1502.4 1031.4C1502.9 1026.6 1507 1024.2 1509.4 1023C1511.9 1021.7 1513.8 1022.2 1516.5 1024.4C1519.2 1026.6 1522.9 1031.1 1524.9 1035.6C1526.8 1040.1 1527.7 1050 1527.7 1050L1506.6 1050C1506.6 1050 1501.9 1036.1 1502.4 1031.4Z" fill="#7e3a18"/><path d="M1496.8 1010.3C1497.6 1008.6 1501.2 1007.7 1502.4 1008.9C1503.7 1010.2 1504.6 1015.6 1503.8 1017.3C1503.1 1019.1 1499.4 1020 1498.2 1018.7C1497 1017.5 1496.1 1012 1496.8 1010.3Z" fill="#f6b262"/><path d="M1204.8 1065.4C1205.1 1061.8 1208.2 1056.9 1210.5 1054.2C1212.7 1051.5 1217.5 1050 1217.5 1050L1284.8 1050C1284.8 1050 1287 1057.8 1290.4 1061.2C1293.9 1064.7 1299.3 1066.7 1304.5 1069.6C1309.6 1072.6 1315.3 1076.3 1319.9 1078.1C1324.6 1079.8 1331 1079.5 1331 1079.5L1331 1096.3C1331 1096.3 1323.8 1092.6 1319.9 1092.1C1316 1091.6 1312.6 1091.8 1308.7 1093.5C1304.8 1095.2 1301.9 1100 1297.5 1101.9C1293 1103.9 1287.1 1104.5 1283.4 1104.7C1279.7 1105 1280.1 1104.3 1276.4 1103.3C1272.7 1102.3 1267.3 1101.1 1262.4 1099.1C1257.5 1097.2 1253.3 1094.3 1248.3 1092.1C1243.4 1089.9 1239.2 1088.5 1234.3 1086.5C1229.4 1084.5 1224.7 1082.8 1220.3 1080.9C1215.9 1078.9 1211.8 1078 1209.1 1075.3C1206.4 1072.6 1204.6 1069.1 1204.8 1065.4Z" fill="#b25826"/><path d="M1254 1071C1254.2 1068.8 1256.9 1066.9 1259.6 1065.4C1262.3 1064 1266.2 1062.6 1269.4 1062.6C1272.6 1062.6 1275.1 1064.2 1277.8 1065.4C1280.5 1066.7 1283.1 1067.7 1284.8 1069.6C1286.6 1071.6 1287.9 1074.5 1287.6 1076.7C1287.4 1078.9 1285.4 1081 1283.4 1082.3C1281.5 1083.5 1277.9 1082.2 1276.4 1083.7C1274.9 1085.2 1275.5 1088.5 1275 1090.7C1274.5 1092.9 1275.1 1095.6 1273.6 1096.3C1272.1 1097 1268.3 1095.9 1266.6 1094.9C1264.9 1093.9 1263.8 1092.4 1263.8 1090.7C1263.8 1089 1267.6 1087.3 1266.6 1085.1C1265.6 1082.9 1260.4 1080.5 1258.2 1078.1C1256 1075.6 1253.7 1073.3 1254 1071Z" fill="#7e3a18"/><path d="M1136.1 1064C1137.1 1061.3 1139.2 1060.7 1141.7 1061.2C1144.2 1061.7 1147.7 1064.4 1150.1 1066.8C1152.6 1069.3 1154.5 1072.1 1155.7 1075.3C1157 1078.5 1158.1 1083.1 1157.1 1085.1C1156.1 1087 1153.1 1086.7 1150.1 1086.5C1147.2 1086.2 1142.7 1085.4 1140.3 1083.7C1137.8 1082 1136.8 1080.1 1136.1 1076.7C1135.3 1073.2 1135.1 1066.7 1136.1 1064Z" fill="#b25826"/><path d="M1168.4 1078.1C1168.6 1074.6 1170.6 1066.1 1172.6 1062.6C1174.5 1059.2 1176.9 1058.2 1179.6 1058.4C1182.3 1058.7 1187 1061.1 1188 1064C1189 1067 1186.2 1072.3 1185.2 1075.3C1184.2 1078.2 1184.8 1079.6 1182.4 1080.9C1179.9 1082.1 1173.6 1082.8 1171.2 1082.3C1168.7 1081.8 1168.1 1081.5 1168.4 1078.1Z" fill="#b25826"/><path d="M1148.7 1097.7C1148.7 1095 1152.1 1093.3 1154.3 1093.5C1156.5 1093.7 1158.9 1097.6 1161.3 1099.1C1163.8 1100.6 1166.1 1102.2 1168.4 1101.9C1170.6 1101.7 1172 1098.7 1174 1097.7C1175.9 1096.7 1177.1 1095.3 1179.6 1096.3C1182 1097.3 1184.6 1100.6 1188 1103.3C1191.4 1106 1196.3 1109.3 1199.2 1111.7C1202.2 1114.2 1204.4 1115.1 1204.8 1117.4C1205.3 1119.6 1203.5 1122.7 1202 1124.4C1200.6 1126.1 1199.4 1127.2 1196.4 1127.2C1193.5 1127.2 1188.6 1125.4 1185.2 1124.4C1181.8 1123.4 1179.2 1121.6 1176.8 1121.6C1174.3 1121.6 1172.6 1122.2 1171.2 1124.4C1169.7 1126.6 1170.3 1132 1168.4 1134.2C1166.4 1136.4 1163.1 1137.7 1159.9 1137C1156.7 1136.3 1152.6 1132 1150.1 1130C1147.7 1128 1145.7 1128 1145.9 1125.8C1146.2 1123.6 1150 1120.3 1151.5 1117.4C1153 1114.4 1154.8 1112.4 1154.3 1108.9C1153.8 1105.5 1148.7 1100.4 1148.7 1097.7Z" fill="#b25826"/><path d="M1199.2 1092.1C1199.2 1090.7 1200.8 1090.2 1202 1090.7C1203.3 1091.2 1205.6 1093.4 1206.2 1094.9C1206.9 1096.4 1206.3 1098.5 1205.5 1099.1C1204.8 1099.7 1203.1 1099.6 1202 1098.4C1200.9 1097.2 1199.2 1093.4 1199.2 1092.1Z" fill="#f6b262"/><path d="M1214.7 1108.9C1215.9 1106.5 1218.2 1104.3 1221.7 1103.3C1225.1 1102.3 1231.1 1102.3 1234.3 1103.3C1237.5 1104.3 1238.9 1106.7 1239.9 1108.9C1240.9 1111.1 1242.1 1114 1239.9 1116C1237.7 1117.9 1231 1118.7 1227.3 1120.2C1223.6 1121.6 1221.1 1124.9 1218.9 1124.4C1216.7 1123.9 1215.4 1120.1 1214.7 1117.4C1213.9 1114.7 1213.4 1111.4 1214.7 1108.9Z" fill="#f6b262"/><path d="M1248.3 1106.1C1249.3 1104.2 1252.2 1102.4 1255.4 1101.9C1258.6 1101.4 1263.4 1102.3 1266.6 1103.3C1269.8 1104.3 1275.6 1105.6 1273.6 1107.5C1271.6 1109.5 1259.5 1113.6 1255.4 1114.6C1251.2 1115.5 1251 1114.6 1249.7 1113.1C1248.5 1111.7 1247.4 1108.1 1248.3 1106.1Z" fill="#f6b262"/><path d="M1252.6 1108.9C1253.5 1107.5 1256.6 1105 1259.6 1104.7C1262.5 1104.5 1269.4 1106.1 1269.4 1107.5C1269.4 1109 1262.3 1112.2 1259.6 1113.1C1256.9 1114.1 1255.2 1113.9 1254 1113.1C1252.7 1112.4 1251.6 1110.4 1252.6 1108.9Z" fill="#ffffff"/><path d="M1218.9 1123C1220.4 1121.5 1225.1 1119 1227.3 1118.8C1229.5 1118.5 1232 1120.1 1231.5 1121.6C1231 1123 1226.7 1126.2 1224.5 1127.2C1222.3 1128.2 1219.9 1127.9 1218.9 1127.2C1217.9 1126.4 1217.4 1124.4 1218.9 1123Z" fill="#ffffff"/><path d="M1133.3 1090.7C1134 1087.7 1135.8 1088.3 1137.5 1089.3C1139.2 1090.3 1141.4 1092.9 1143.1 1096.3C1144.8 1099.7 1146.8 1104.8 1147.3 1108.9C1147.8 1113.1 1147.1 1117.2 1145.9 1120.2C1144.7 1123.1 1142.3 1126.3 1140.3 1125.8C1138.3 1125.3 1135.9 1120.8 1134.7 1117.4C1133.5 1113.9 1133.5 1110.8 1133.3 1106.1C1133 1101.5 1132.5 1093.6 1133.3 1090.7Z" fill="#f6b262"/><path d="M1143.1 1139.8C1144.6 1138.3 1147.2 1137 1150.1 1137C1153.1 1137 1156.7 1139.1 1159.9 1139.8C1163.1 1140.5 1167.6 1140 1168.4 1141.2C1169.1 1142.4 1167.8 1145.6 1164.1 1146.8C1160.5 1148.1 1151.2 1148.5 1147.3 1148.2C1143.4 1148 1142.4 1146.9 1141.7 1145.4C1141 1144 1141.6 1141.3 1143.1 1139.8Z" fill="#f6b262"/><path d="M1144.5 1142.6C1145.5 1141.6 1148.6 1141.1 1151.5 1141.2C1154.5 1141.3 1160.4 1142.3 1161.3 1143.3C1162.3 1144.3 1159.8 1146.2 1157.1 1146.8C1154.4 1147.4 1148.1 1147.6 1145.9 1146.8C1143.7 1146.1 1143.5 1143.6 1144.5 1142.6Z" fill="#ffffff"/><path d="M1175.4 1128.6C1176.8 1126.9 1182.3 1126.7 1185.2 1127.2C1188.1 1127.7 1192.5 1129.9 1192.2 1131.4C1192 1132.9 1186.5 1134.6 1183.8 1135.6C1181.1 1136.6 1178.3 1138.2 1176.8 1137C1175.3 1135.8 1173.9 1130.3 1175.4 1128.6Z" fill="#f6b262"/><path d="M1317.1 1107.5C1318.1 1106.3 1323.1 1105.9 1325.5 1106.1C1328 1106.4 1331 1108.9 1331 1108.9L1331 1116C1331 1116 1322.3 1114.6 1319.9 1113.1C1317.5 1111.7 1316.1 1108.8 1317.1 1107.5Z" fill="#f6b262"/><path d="M1122 1059.8C1122.5 1058.8 1126.1 1059.5 1127.7 1061.2C1129.3 1062.9 1130.9 1067.7 1131.2 1069.6C1131.4 1071.6 1130.2 1072.9 1129.1 1072.5C1128 1072 1126.1 1069 1124.9 1066.8C1123.6 1064.6 1121.6 1060.8 1122 1059.8Z" fill="#f6b262"/><path d="M1338.2 1030L1443.5 1030C1443.5 1030 1445 1035.2 1443.5 1038.4C1442 1041.6 1438.3 1045.8 1435.1 1048.2C1431.9 1050.7 1429.7 1052 1425.2 1052.5C1420.8 1052.9 1413.7 1050.8 1409.8 1051C1405.9 1051.3 1404.1 1050.7 1402.8 1053.9C1401.4 1057 1403.3 1066.3 1402.1 1069.3C1400.9 1072.2 1398.6 1070.9 1395.8 1070.7C1393 1070.4 1387.9 1070.1 1386 1067.9C1384 1065.7 1385.8 1060.8 1384.6 1058.1C1383.3 1055.4 1382.9 1054.4 1378.9 1052.5C1375 1050.5 1367.5 1049.3 1362.1 1046.8C1356.7 1044.4 1352.2 1040.9 1348.1 1038.4C1343.9 1036 1340 1034.3 1338.2 1032.8C1336.5 1031.3 1338.2 1030 1338.2 1030Z" fill="#f6b262"/><path d="M1400 1030L1432.3 1030C1432.3 1030 1431.9 1034.8 1429.5 1037C1427 1039.2 1421.7 1042.1 1418.2 1042.6C1414.8 1043.1 1412.5 1041.3 1409.8 1039.8C1407.1 1038.3 1404.5 1035.9 1402.8 1034.2C1401.1 1032.5 1400 1030 1400 1030Z" fill="#ffffff"/><path d="M1439.3 1069.3C1439.3 1065.9 1442.6 1060.5 1446.3 1058.1C1450 1055.6 1457.4 1057.7 1460.3 1055.3C1463.3 1052.8 1462.6 1048.5 1463.1 1044C1463.6 1039.6 1463.1 1030 1463.1 1030L1530.5 1030C1530.5 1030 1531.9 1048.2 1531.9 1058.1C1531.9 1067.9 1531.2 1078.3 1530.5 1086.1C1529.8 1094 1528.9 1098.6 1527.7 1103C1526.5 1107.4 1525.4 1108.9 1523.5 1111.4C1521.5 1113.8 1520.1 1115.5 1516.5 1117C1512.8 1118.5 1508.6 1118.8 1502.4 1119.8C1496.3 1120.8 1487.5 1123.1 1481.4 1122.6C1475.2 1122.1 1471.5 1119.5 1467.3 1117C1463.2 1114.5 1460.2 1112 1457.5 1108.6C1454.8 1105.1 1452.9 1101.3 1451.9 1097.4C1450.9 1093.4 1452.9 1089.6 1451.9 1086.1C1450.9 1082.7 1448.5 1080.7 1446.3 1077.7C1444.1 1074.8 1439.3 1072.7 1439.3 1069.3Z" fill="#b25826"/><path d="M1473 1044C1474.2 1041.6 1477.3 1036.6 1480 1035.6C1482.7 1034.6 1485.9 1036.7 1488.4 1038.4C1490.9 1040.1 1494 1043 1494 1045.4C1494 1047.9 1491.3 1051 1488.4 1052.5C1485.4 1053.9 1479.9 1054.3 1477.2 1053.9C1474.5 1053.4 1473.7 1051.4 1473 1049.6C1472.2 1047.9 1471.7 1046.5 1473 1044Z" fill="#7e3a18"/><path d="M1475.8 1065.1C1478 1062.6 1484.5 1063.3 1488.4 1060.9C1492.3 1058.4 1496.3 1056.5 1498.2 1051C1500.2 1045.6 1499.6 1030 1499.6 1030L1527.7 1030C1527.7 1030 1530.7 1050.7 1530.5 1058.1C1530.2 1065.4 1527.3 1066 1526.3 1072.1C1525.3 1078.2 1525.9 1087.7 1524.9 1093.1C1523.9 1098.6 1522.6 1100 1520.7 1103C1518.7 1105.9 1516.8 1108.5 1513.7 1110C1510.5 1111.5 1506.1 1111.6 1502.4 1111.4C1498.7 1111.1 1495.3 1111 1492.6 1108.6C1489.9 1106.1 1489 1101.3 1487 1097.4C1485 1093.4 1483.3 1090.1 1481.4 1086.1C1479.4 1082.2 1476.7 1078.6 1475.8 1074.9C1474.8 1071.2 1473.6 1067.5 1475.8 1065.1Z" fill="#7e3a18"/><path d="M1515.1 1042.6C1516.3 1040.7 1519.9 1038.2 1522.1 1038.4C1524.3 1038.7 1527 1041.8 1527.7 1044C1528.4 1046.2 1527.8 1049.3 1526.3 1051C1524.8 1052.8 1521.2 1054.1 1519.3 1053.9C1517.3 1053.6 1515.8 1051.6 1515.1 1049.6C1514.3 1047.7 1513.8 1044.6 1515.1 1042.6Z" fill="#de8228"/><path d="M1522.1 1088.9C1522.8 1087.2 1526.7 1084.7 1527.7 1086.1C1528.7 1087.6 1528.4 1095.6 1527.7 1097.4C1527 1099.1 1524.5 1097.4 1523.5 1096C1522.5 1094.5 1521.3 1090.7 1522.1 1088.9Z" fill="#de8228"/><path d="M1513.7 1060.9C1514.6 1059.6 1522.2 1057.6 1524.9 1058.1C1527.6 1058.6 1530.1 1062.5 1529.1 1063.7C1528.1 1064.9 1522 1065.6 1519.3 1065.1C1516.6 1064.6 1512.7 1062.1 1513.7 1060.9Z" fill="#f6b262"/><path d="M1320 1080.5C1320 1080.5 1327.5 1081.6 1331.2 1083.3C1334.9 1085 1338.1 1086.9 1341 1090.3C1344 1093.8 1345.4 1099.5 1348.1 1103C1350.8 1106.4 1353.3 1109.4 1356.5 1110C1359.7 1110.6 1363.9 1108.2 1366.3 1106.5C1368.8 1104.8 1370 1103.7 1370.5 1100.2C1371 1096.6 1367.6 1089.3 1369.1 1086.1C1370.6 1082.9 1374.8 1083 1378.9 1081.9C1383.1 1080.8 1388.6 1080.8 1393 1079.8C1397.4 1078.8 1400.8 1076.9 1404.2 1076.3C1407.6 1075.7 1411.1 1072.1 1412.6 1076.3C1414.1 1080.5 1414.1 1095.3 1412.6 1100.2C1411.1 1105.1 1406.4 1102.7 1404.2 1104.4C1402 1106.1 1400.2 1107 1400 1110C1399.7 1112.9 1399.8 1118.5 1402.8 1121.2C1405.7 1123.9 1414 1123.2 1416.8 1125.4C1419.7 1127.6 1420.2 1131.1 1418.9 1133.8C1417.7 1136.5 1413.4 1139.4 1409.8 1140.9C1406.2 1142.3 1401 1140.8 1398.6 1142.3C1396.1 1143.7 1396.3 1146.1 1395.8 1149.3C1395.3 1152.5 1397 1158.3 1395.8 1160.5C1394.6 1162.7 1391.7 1162.9 1388.8 1161.9C1385.8 1160.9 1381.1 1157.3 1378.9 1154.9C1376.7 1152.4 1379.1 1151.1 1376.1 1147.9C1373.2 1144.7 1367.5 1139.1 1362.1 1136.7C1356.7 1134.2 1349.7 1135.3 1345.3 1133.8C1340.8 1132.4 1339.8 1131.2 1336.8 1128.2C1333.9 1125.3 1331.4 1120.4 1328.4 1117C1325.5 1113.6 1320 1108.6 1320 1108.6L1320 1080.5Z" fill="#b25826"/><path d="M1345.3 1122.6C1346.2 1120.7 1349.6 1120.1 1352.3 1119.8C1355 1119.6 1358.5 1120 1360.7 1121.2C1362.9 1122.4 1365.2 1124.6 1364.9 1126.8C1364.7 1129 1361.7 1132.1 1359.3 1133.8C1356.8 1135.6 1353.1 1137.1 1350.9 1136.7C1348.7 1136.2 1347.6 1133.5 1346.7 1131C1345.7 1128.6 1344.3 1124.6 1345.3 1122.6Z" fill="#de8228"/><path d="M1370.5 1122.6C1371.7 1120.4 1377.6 1120.5 1380.3 1121.2C1383 1122 1384.7 1124.1 1386 1126.8C1387.2 1129.5 1387.6 1133.7 1387.4 1136.7C1387.1 1139.6 1386 1142.7 1384.6 1143.7C1383.1 1144.6 1380.9 1144 1378.9 1142.3C1377 1140.5 1374.8 1137.3 1373.3 1133.8C1371.9 1130.4 1369.3 1124.8 1370.5 1122.6Z" fill="#de8228"/><path d="M1373.3 1101.6C1374.1 1100.1 1378.6 1099.4 1380.3 1100.2C1382.1 1100.9 1383.9 1104.3 1383.1 1105.8C1382.4 1107.3 1377.9 1109.3 1376.1 1108.6C1374.4 1107.8 1372.6 1103 1373.3 1101.6Z" fill="#de8228"/><path d="M1363.5 1114.2C1363.9 1113.5 1365.3 1112.7 1366.3 1112.8C1367.3 1112.9 1368.9 1114.2 1369.1 1114.9C1369.4 1115.6 1368.6 1116.6 1367.7 1117C1366.9 1117.4 1364.9 1117.5 1364.2 1117C1363.5 1116.5 1363.1 1114.9 1363.5 1114.2Z" fill="#7e3a18"/><path d="M1355.1 1154.9C1356.2 1154 1359.9 1153 1362.1 1152.8C1364.3 1152.5 1366.7 1152.6 1367.7 1153.5C1368.7 1154.3 1368.9 1156.8 1367.7 1157.7C1366.5 1158.6 1362.8 1158.4 1360.7 1158.4C1358.6 1158.4 1356.8 1158.3 1355.8 1157.7C1354.8 1157.1 1354 1155.8 1355.1 1154.9Z" fill="#7e3a18"/><path d="M1436.5 1136.7C1437.9 1134.2 1440.3 1132.9 1443.5 1132.4C1446.7 1131.9 1452.3 1133.1 1454.7 1133.8C1457.2 1134.6 1459 1135.2 1457.5 1136.7C1456 1138.1 1449 1140.1 1446.3 1142.3C1443.6 1144.5 1443.8 1147.3 1442.1 1149.3C1440.4 1151.2 1437.7 1154 1436.5 1153.5C1435.2 1153 1435.1 1149.4 1435.1 1146.5C1435.1 1143.5 1435 1139.1 1436.5 1136.7Z" fill="#b25826"/><path d="M1388.8 1164.7C1389.3 1162.5 1393.1 1163.3 1395.8 1163.3C1398.5 1163.3 1400.8 1164.7 1404.2 1164.7C1407.6 1164.7 1411.5 1162.3 1415.4 1163.3C1419.4 1164.3 1424.2 1167.1 1426.7 1170.3C1429.1 1173.5 1429.5 1178.4 1429.5 1181.6C1429.5 1184.7 1428.6 1187.8 1426.7 1188.6C1424.7 1189.3 1421.2 1187 1418.2 1185.8C1415.3 1184.5 1412.8 1182.8 1409.8 1181.6C1406.9 1180.3 1404.3 1179.7 1401.4 1178.7C1398.4 1177.8 1395.2 1178.4 1393 1175.9C1390.8 1173.5 1388.3 1166.9 1388.8 1164.7Z" fill="#f6b262"/><path d="M1388.8 1168.9C1389 1167 1394.1 1168.4 1395.8 1170.3C1397.5 1172.3 1398.8 1178.2 1398.6 1180.2C1398.3 1182.1 1396.1 1183.5 1394.4 1181.6C1392.7 1179.6 1388.5 1170.9 1388.8 1168.9Z" fill="#ffffff"/><path d="M1404.2 1180.2C1405.2 1179.4 1412.5 1180.6 1415.4 1181.6C1418.4 1182.5 1422 1185 1421 1185.8C1420.1 1186.5 1412.8 1186.7 1409.8 1185.8C1406.9 1184.8 1403.2 1180.9 1404.2 1180.2Z" fill="#ffffff"/><path d="M1460.3 1156.3C1462.8 1151.9 1465.8 1146.2 1468.7 1142.3C1471.7 1138.3 1474.2 1134.8 1477.2 1133.8C1480.1 1132.9 1483.9 1133.7 1485.6 1136.7C1487.3 1139.6 1487.7 1146 1487 1150.7C1486.3 1155.3 1482.6 1159.9 1481.4 1163.3C1480.2 1166.8 1481.7 1168.1 1480 1170.3C1478.3 1172.5 1475 1174.5 1471.6 1175.9C1468.1 1177.4 1463.3 1178.5 1460.3 1178.7C1457.4 1179 1455.7 1179.3 1454.7 1177.3C1453.7 1175.4 1453.7 1171.2 1454.7 1167.5C1455.7 1163.8 1457.9 1160.7 1460.3 1156.3Z" fill="#f6b262"/><path d="M1320 1105.8C1320 1105.8 1324.1 1105.7 1325.6 1107.2C1327.1 1108.7 1328.7 1112.5 1328.4 1114.2C1328.2 1115.9 1325.7 1116.8 1324.2 1117C1322.7 1117.2 1320 1115.6 1320 1115.6L1320 1105.8Z" fill="#f6b262"/><path d="M1502.4 1136.7C1502.9 1134.9 1505.9 1132.9 1506.6 1133.8C1507.4 1134.8 1507.1 1140.5 1506.6 1142.3C1506.1 1144 1504.6 1144.6 1503.8 1143.7C1503.1 1142.7 1501.9 1138.4 1502.4 1136.7Z" fill="#f6b262"/><path d="M1436.4 1208.5C1444.6 1200.3 1474.7 1200.3 1482.8 1208.5C1490.9 1216.6 1490.9 1246.7 1482.8 1254.8C1474.7 1262.9 1444.6 1262.9 1436.4 1254.8C1428.3 1246.7 1428.3 1216.6 1436.4 1208.5Z" fill="#f6b262"/><path d="M1436.4 1208.5C1444.6 1201 1475.9 1210.8 1482.8 1211.9C1489.7 1213 1479.1 1213.2 1475.8 1214.8C1472.6 1216.4 1467.3 1219.3 1464.2 1221.2C1461.2 1223.1 1460.1 1223 1458.5 1225.8C1456.8 1228.7 1455.4 1232.3 1455 1237.4C1454.6 1242.5 1459.4 1251.7 1456.1 1254.8C1452.9 1257.8 1439.9 1262.9 1436.4 1254.8C1433 1246.7 1428.3 1216 1436.4 1208.5Z" fill="#ffffff"/><path d="M1464.2 1227C1466.9 1222.8 1474.4 1213.1 1477 1216C1479.6 1218.8 1480.3 1237.6 1479.3 1243.2C1478.3 1248.8 1474.2 1248.4 1471.2 1247.8C1468.2 1247.2 1463.1 1243.4 1461.9 1239.7C1460.7 1236.1 1461.6 1231.1 1464.2 1227Z" fill="#de8228"/><path d="M1322 890C1323.8 887.5 1330.8 887 1334 888C1337.2 889 1340.2 893.4 1340 896C1339.8 898.6 1335.8 902 1333 903C1330.2 904 1325.9 904.3 1324 902C1322.1 899.7 1320.2 892.5 1322 890Z" fill="#ffffff"/><path d="M1310 888C1311.4 886.4 1317.9 885.8 1320 887C1322.1 888.2 1323.4 893.4 1322 895C1320.6 896.6 1314.1 897.2 1312 896C1309.9 894.8 1308.6 889.6 1310 888Z" fill="#f6b262"/><path d="M1431.3 1201.4 1433.1 1201.1 1434.1 1204.2 1433.5 1207.2 1431.9 1206.7 1431.1 1204.2Z" fill="#fff"/><path d="M1472.8 1202.6 1474.9 1202.3 1477.7 1206 1477.3 1208.6 1474.4 1207.8 1472.9 1205.4Z" fill="#fff"/></g><path d="M1417.7 879.9 1420.3 882.8 1422.5 887.1 1425.1 892.9 1427.2 899.4 1427.7 902 1428.8 907.7 1430.3 912.9 1431.9 918.1 1435 917 1438.1 915.7 1442.2 919.6 1446.4 924 1445.9 929.2 1446.9 933.8 1448.1 935.6 1447.9 939.9 1451.3 944.5 1453.1 948.5 1454 950.9 1454 958.7 1457.1 961.6 1462.1 969.4 1468.2 970.9 1471.8 974.2 1477 977.4 1481.8 980.3 1483.7 985 1486.7 989.7 1489.6 994 1492 1001.3 1495.1 1003.5 1498.2 1002.4 1503.4 1005.1 1502.9 1011.5 1504.4 1015.5 1508.2 1019.4 1513.2 1021.3 1516.9 1027.7 1519.5 1030.7 1524.7 1035.2 1526.2 1031 1528.3 1028.8 1528.5 1032.1 1527.8 1036.6 1528.2 1042.5 1527.2 1047.6 1527.6 1052.2 1530.9 1055 1531.9 1059.5 1530.7 1065.7 1531.9 1067.6 1532.8 1073 1532.2 1075.6 1529.9 1081.9 1528.3 1087.3 1527.7 1091.9 1527 1099 1525.4 1104.8 1523.6 1109.6 1521.5 1116.5 1517.9 1119.8 1513.6 1122.2 1511.4 1126.3 1508.4 1132.9 1507.5 1134.7 1504.4 1139.6 1504 1142.5 1502.9 1147.6 1500.1 1150.6 1497.2 1154.9 1496.7 1157 1496.5 1160.8 1495.9 1163.1 1494.3 1170.9 1494.9 1176 1494.3 1176.8 1487.5 1179.5 1480.1 1179.5 1474.2 1180.5 1469.2 1183.1 1464 1187.3 1458.8 1190.3 1457.8 1195.5 1455.7 1191.5 1452.8 1192.7 1449.5 1190 1446.4 1187.9 1443.5 1187.7 1439.6 1185.6 1442.2 1183.1 1443.3 1180.5 1439.1 1181.9 1437.1 1183.4 1439.1 1185.4 1436.2 1186 1432.7 1188.4 1427.9 1192.2 1424.6 1190.9 1422.3 1189.4 1417.1 1186.7 1414.7 1186.6 1408 1186.1 1407.5 1187.1 1406 1186.5 1403.9 1184.3 1401.5 1182.7 1398.7 1182.5 1394.5 1179.5 1391.5 1175.7 1388.8 1171.9 1389.9 1168 1386.3 1161.7 1383.1 1157 1379.8 1153 1377.1 1153 1371.7 1153.4 1373.8 1151.7 1375.9 1145.6 1375.4 1140.5 1372.3 1136.9 1369.9 1139.6 1368.1 1147.3 1367.1 1148.1 1360.3 1149.2 1359.1 1149.9 1360.3 1145.2 1365.3 1140.5 1366.8 1133.8 1370 1130 1370.7 1125.1 1368.3 1117.2 1366.3 1123.4 1359.5 1130.9 1351 1139 1348.6 1143.1 1344.8 1145.4 1343.7 1141.7 1338.6 1130.6 1336.2 1125.7 1331.3 1120.7 1328.5 1115.8 1326.1 1112.6 1318.9 1111.4 1313 1111.2 1305.4 1105.6 1299.2 1105.4 1287.8 1106.6 1277.4 1107.8 1276.2 1107.7 1261.8 1113.7 1246.8 1114.5 1235.9 1120.7 1232.8 1121.8 1224.3 1130.2 1216.8 1134.4 1203.8 1133 1194.5 1132.9 1185.4 1134.1 1180 1137 1177.7 1139.3 1168.5 1142.9 1162.1 1146.7 1156.6 1146.4 1149.9 1146.4 1142.6 1144.5 1133.7 1139 1132.3 1134.7 1132.3 1129.2 1135.9 1130.6 1138.8 1126.8 1139.7 1117.6 1139.9 1112 1140 1110.3 1138.3 1105.6 1135.6 1099.9 1133 1094.2 1132.6 1091.9 1132.1 1087.9 1131.5 1079.9 1128.1 1074.4 1125 1069.1 1123.6 1062.3 1120.9 1057.8 1116.7 1051.1 1113.2 1044.9 1117.7 1047.7 1120.9 1050 1124 1046.6 1124 1042.1 1121.9 1037.7 1118.8 1031 1118.4 1030.8 1116.7 1024.3 1115.7 1023.5 1118.3 1016.6 1119.5 1011.6 1118.6 1007 1120.9 1001.3 1123.6 996.9 1125 1003.5 1127.1 1002.4 1128.1 996.9 1130.2 995.8 1133.4 995.2 1142.6 988.2 1149.9 984.4 1155.1 983.9 1163.4 981.2 1169.6 980.7 1177.9 977.4 1181.7 976.9 1189.3 973.1 1195.5 967.7 1200.7 963.4 1207.7 957.4 1206.2 944.7 1213.5 939 1220.2 937 1229.6 933.6 1230.3 927.6 1237 920.2 1247 913.5 1255.1 910.8 1260.5 913.5 1268.5 921.5 1277.2 922.9 1284 922.2 1281.3 916.8 1287.3 906.8 1297.4 894.7 1302 893.4 1306.9 890.5 1314.7 887.6 1322.5 888.6 1330.3 892.5 1338.1 893.4 1341.1 891.5 1347.9 889.5 1357.7 882.7 1358.6 894.4 1349.8 904.2 1347.9 912 1345 921.8 1357.7 932.5 1370.8 940.3 1382.1 944.2 1392.8 953 1401.6 943.2 1406.5 928.6 1408.4 909.1 1412.3 884.7ZM1440.2 1214.2 1446.4 1215.3 1452.6 1218.7 1457.3 1220.3 1464 1218.7 1468.2 1218.1 1473.9 1215 1478 1218 1477.5 1222.1 1477.5 1229 1477.5 1232.7 1474.4 1236.4 1473.9 1243.7 1471.3 1244.9 1467.6 1242.5 1467.1 1247.4 1462.2 1250.4 1455.7 1248.6 1453.1 1246.2 1448.5 1240 1445.3 1232.7 1442.2 1226.6 1440.2 1219.3ZM1355.7 1155.2 1360.3 1153.4 1366.6 1154 1371.7 1155 1368.6 1156.4 1363.4 1158.2 1357.2 1158.8 1355.7 1157ZM1431.3 1201.4 1433.1 1201.1 1434.1 1204.2 1433.5 1207.2 1431.9 1206.7 1431.1 1204.2ZM1472.8 1202.6 1474.9 1202.3 1477.7 1206 1477.3 1208.6 1474.4 1207.8 1472.9 1205.4ZM1289.3 890.5 1292.2 884.7 1301 885.6 1302.3 888.6 1297.1 891.2 1291.9 891.7Z" fill="none" stroke="#111" stroke-width="0.9" stroke-linejoin="round"/><path d="M1417.7 879.9L1420.3 882.8M1420.3 882.8L1422.5 887.1M1422.5 887.1L1425.1 892.9M1425.1 892.9L1427.2 899.4M1427.2 899.4L1427.7 902M1427.7 902L1428.8 907.7M1428.8 907.7L1430.3 912.9M1430.3 912.9L1431.9 918.1M1431.9 918.1L1435 917M1435 917L1438.1 915.7M1438.1 915.7L1442.2 919.6M1442.2 919.6L1446.4 924M1446.4 924L1445.9 929.2M1445.9 929.2L1446.9 933.8M1446.9 933.8L1448.1 935.6M1448.1 935.6L1447.9 939.9M1447.9 939.9L1451.3 944.5M1451.3 944.5L1453.1 948.5M1453.1 948.5L1454 950.9M1454 950.9L1454 958.7M1454 958.7L1457.1 961.6M1457.1 961.6L1462.1 969.4M1462.1 969.4L1468.2 970.9M1468.2 970.9L1471.8 974.2M1471.8 974.2L1477 977.4M1477 977.4L1481.8 980.3M1481.8 980.3L1483.7 985M1483.7 985L1486.7 989.7M1486.7 989.7L1489.6 994M1489.6 994L1492 1001.3M1492 1001.3L1495.1 1003.5M1495.1 1003.5L1498.2 1002.4M1498.2 1002.4L1503.4 1005.1" fill="none" stroke="#111" stroke-width="1.5" stroke-dasharray="2.2 1.1 0.8 1.6" stroke-linecap="round"/><path d="M1116.7 1051.1L1113.2 1044.9M1113.2 1044.9L1117.7 1047.7M1117.7 1047.7L1120.9 1050M1120.9 1050L1124 1046.6M1124 1046.6L1124 1042.1M1124 1042.1L1121.9 1037.7M1121.9 1037.7L1118.8 1031M1118.8 1031L1118.4 1030.8" fill="none" stroke="#111" stroke-width="1.8" stroke-dasharray="2.2 1.1 0.8 1.6" stroke-linecap="round"/><path d="M1128.1 996.9L1130.2 995.8M1130.2 995.8L1133.4 995.2M1133.4 995.2L1142.6 988.2M1142.6 988.2L1149.9 984.4M1149.9 984.4L1155.1 983.9" fill="none" stroke="#111" stroke-width="1.4" stroke-dasharray="2.2 1.1 0.8 1.6" stroke-linecap="round"/><path d="M1206.2 944.7L1213.5 939M1213.5 939L1220.2 937M1220.2 937L1229.6 933.6M1229.6 933.6L1230.3 927.6M1230.3 927.6L1237 920.2M1237 920.2L1247 913.5M1247 913.5L1255.1 910.8M1255.1 910.8L1260.5 913.5M1260.5 913.5L1268.5 921.5M1268.5 921.5L1277.2 922.9" fill="none" stroke="#111" stroke-width="2.6" stroke-dasharray="2.2 1.1 0.8 1.6" stroke-linecap="round"/><path d="M1297.4 894.7L1302 893.4M1302 893.4L1306.9 890.5M1306.9 890.5L1314.7 887.6M1314.7 887.6L1322.5 888.6M1322.5 888.6L1330.3 892.5M1330.3 892.5L1338.1 893.4M1338.1 893.4L1341.1 891.5M1341.1 891.5L1347.9 889.5M1347.9 889.5L1357.7 882.7M1357.7 882.7L1358.6 894.4M1358.6 894.4L1349.8 904.2" fill="none" stroke="#111" stroke-width="1.6" stroke-dasharray="2.2 1.1 0.8 1.6" stroke-linecap="round"/><g fill="#111"><circle cx="1414.2" cy="874.9" r="0.9"/><circle cx="1415.3" cy="873.4" r="0.9"/><circle cx="1418.4" cy="874.9" r="0.9"/><circle cx="1420.5" cy="871.8" r="0.9"/><circle cx="1424.6" cy="870.8" r="0.9"/><circle cx="1421.5" cy="876.9" r="0.9"/><circle cx="1413.2" cy="878.9" r="0.9"/><circle cx="1356.2" cy="886.1" r="0.9"/><circle cx="1359.3" cy="890.2" r="0.9"/><circle cx="1347.9" cy="891.2" r="0.9"/><circle cx="1313.7" cy="884" r="0.9"/><circle cx="1298.1" cy="887.1" r="0.9"/><circle cx="1294" cy="887.1" r="0.9"/><circle cx="1386.3" cy="941.1" r="0.9"/><circle cx="1383.1" cy="942.2" r="0.9"/><circle cx="1355.2" cy="912.9" r="0.9"/><circle cx="1357.2" cy="914.9" r="0.9"/><circle cx="1353.1" cy="916" r="0.9"/><circle cx="1111.5" cy="1041" r="0.9"/><circle cx="1112.6" cy="1037.7" r="0.9"/><circle cx="1112" cy="1043.2" r="0.9"/></g><path d="M1277.4 923.1 1277.4 1107.8M1277.4 1043.2 1401.8 1043.2M1370.7 940.6 1370.7 1043.2M1401.8 1043.2 1401.8 1182.7M1401.8 1077 1483.7 1077 1489.9 1072.5 1500.3 1073.1 1505.5 1075.3 1510.7 1075.9 1515.8 1073.1 1521 1069.7 1526.2 1069.1 1531.9 1067.6M1401.8 1134.7 1407 1135.8 1413.7 1136.8 1420.2 1141.5 1428.2 1150.4 1435 1157 1440.7 1159.7 1448.5 1157.6 1453.6 1158.4 1463 1159.1 1469.2 1158.2 1473.3 1160.5 1476.4 1167.6 1494.9 1176" fill="none" stroke="#111" stroke-width="0.9"/>
<path d="M1101 862.6H1542.3" stroke="#777" stroke-width="1.1"/>
<path d="M1101 862.6V1256.2" stroke="#c8c8c8" stroke-width="1.1"/>
<path d="M1542.3 862.6V1256.2" stroke="#999" stroke-width="1.1"/>
<path d="M1101 1256.2H1542.3" stroke="#999" stroke-width="1.1"/>
<text x="1119" y="901.4" font-size="36" font-weight="bold">f</text>
<text x="1115.5" y="1220.3" font-size="29">VPD</text>
<rect x="1559.5" y="1158.3" width="22" height="99.2" fill="#f6b262"/>
<rect x="1559.5" y="1059.4" width="22" height="99.2" fill="#de8228"/>
<rect x="1559.5" y="960.5" width="22" height="99.2" fill="#b25826"/>
<rect x="1559.5" y="861.6" width="22" height="99.2" fill="#7e3a18"/>
<path d="M1559.5 861.6V1257.2H1581.5" fill="none" stroke="#2a1a10" stroke-width="1.2"/>
<path d="M1559.5 1158.3h4M1581.5 1158.3h-4" stroke="#333" stroke-width="1"/>
<path d="M1559.5 1059.4h4M1581.5 1059.4h-4" stroke="#333" stroke-width="1"/>
<path d="M1559.5 960.5h4M1581.5 960.5h-4" stroke="#333" stroke-width="1"/>
<text x="1592" y="1259" font-size="25">2</text>
<text x="1592" y="1165.1" font-size="25">3</text>
<text x="1592" y="1066.2" font-size="25">4</text>
<text x="1592" y="967.3" font-size="25">5</text>
<text x="1592" y="878.8" font-size="25">6</text>
<text transform="translate(1637.5,1061.4) rotate(-90)" text-anchor="middle" font-size="24.2">Standard deviations above mean</text>
</svg></body></html>
